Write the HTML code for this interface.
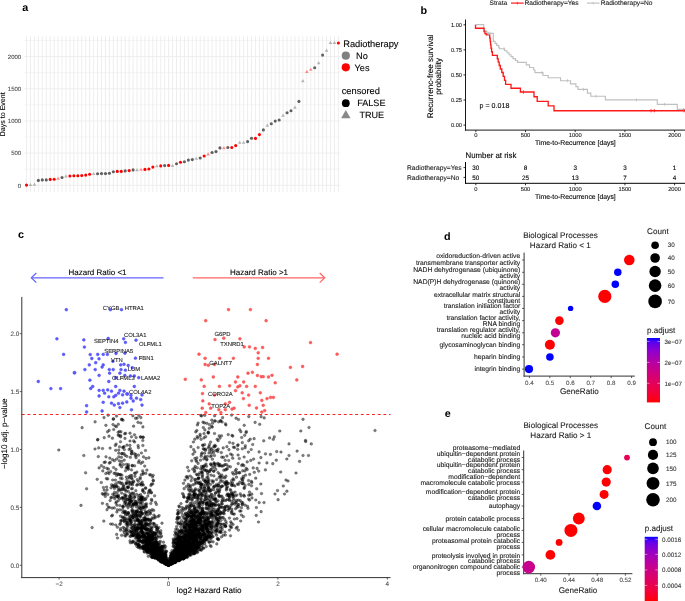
<!DOCTYPE html>
<html><head><meta charset="utf-8"><style>
html,body{margin:0;padding:0;background:#fff;}
body{width:685px;height:601px;overflow:hidden;}
svg{display:block;will-change:transform;}
text{font-family:"Liberation Sans",sans-serif;text-rendering:geometricPrecision;}
</style></head><body>
<svg width="685" height="601" viewBox="0 0 685 601">
<rect width="685" height="601" fill="#fff"/>
<text x="22.30" y="10.90" font-size="10.8" text-anchor="start" fill="#000" font-weight="bold">a</text>
<text x="420.60" y="14.10" font-size="10.8" text-anchor="start" fill="#000" font-weight="bold">b</text>
<text x="18.10" y="237.60" font-size="10.8" text-anchor="start" fill="#000" font-weight="bold">c</text>
<text x="444.00" y="240.20" font-size="10.8" text-anchor="start" fill="#000" font-weight="bold">d</text>
<text x="444.80" y="416.90" font-size="10.8" text-anchor="start" fill="#000" font-weight="bold">e</text>
<line x1="26.50" y1="36.00" x2="26.50" y2="192.00" stroke="#ececec" stroke-width="0.9"/>
<line x1="30.45" y1="36.00" x2="30.45" y2="192.00" stroke="#ececec" stroke-width="0.9"/>
<line x1="34.40" y1="36.00" x2="34.40" y2="192.00" stroke="#ececec" stroke-width="0.9"/>
<line x1="38.34" y1="36.00" x2="38.34" y2="192.00" stroke="#ececec" stroke-width="0.9"/>
<line x1="42.29" y1="36.00" x2="42.29" y2="192.00" stroke="#ececec" stroke-width="0.9"/>
<line x1="46.24" y1="36.00" x2="46.24" y2="192.00" stroke="#ececec" stroke-width="0.9"/>
<line x1="50.19" y1="36.00" x2="50.19" y2="192.00" stroke="#ececec" stroke-width="0.9"/>
<line x1="54.14" y1="36.00" x2="54.14" y2="192.00" stroke="#ececec" stroke-width="0.9"/>
<line x1="58.08" y1="36.00" x2="58.08" y2="192.00" stroke="#ececec" stroke-width="0.9"/>
<line x1="62.03" y1="36.00" x2="62.03" y2="192.00" stroke="#ececec" stroke-width="0.9"/>
<line x1="65.98" y1="36.00" x2="65.98" y2="192.00" stroke="#ececec" stroke-width="0.9"/>
<line x1="69.93" y1="36.00" x2="69.93" y2="192.00" stroke="#ececec" stroke-width="0.9"/>
<line x1="73.88" y1="36.00" x2="73.88" y2="192.00" stroke="#ececec" stroke-width="0.9"/>
<line x1="77.82" y1="36.00" x2="77.82" y2="192.00" stroke="#ececec" stroke-width="0.9"/>
<line x1="81.77" y1="36.00" x2="81.77" y2="192.00" stroke="#ececec" stroke-width="0.9"/>
<line x1="85.72" y1="36.00" x2="85.72" y2="192.00" stroke="#ececec" stroke-width="0.9"/>
<line x1="89.67" y1="36.00" x2="89.67" y2="192.00" stroke="#ececec" stroke-width="0.9"/>
<line x1="93.62" y1="36.00" x2="93.62" y2="192.00" stroke="#ececec" stroke-width="0.9"/>
<line x1="97.56" y1="36.00" x2="97.56" y2="192.00" stroke="#ececec" stroke-width="0.9"/>
<line x1="101.51" y1="36.00" x2="101.51" y2="192.00" stroke="#ececec" stroke-width="0.9"/>
<line x1="105.46" y1="36.00" x2="105.46" y2="192.00" stroke="#ececec" stroke-width="0.9"/>
<line x1="109.41" y1="36.00" x2="109.41" y2="192.00" stroke="#ececec" stroke-width="0.9"/>
<line x1="113.36" y1="36.00" x2="113.36" y2="192.00" stroke="#ececec" stroke-width="0.9"/>
<line x1="117.30" y1="36.00" x2="117.30" y2="192.00" stroke="#ececec" stroke-width="0.9"/>
<line x1="121.25" y1="36.00" x2="121.25" y2="192.00" stroke="#ececec" stroke-width="0.9"/>
<line x1="125.20" y1="36.00" x2="125.20" y2="192.00" stroke="#ececec" stroke-width="0.9"/>
<line x1="129.15" y1="36.00" x2="129.15" y2="192.00" stroke="#ececec" stroke-width="0.9"/>
<line x1="133.10" y1="36.00" x2="133.10" y2="192.00" stroke="#ececec" stroke-width="0.9"/>
<line x1="137.04" y1="36.00" x2="137.04" y2="192.00" stroke="#ececec" stroke-width="0.9"/>
<line x1="140.99" y1="36.00" x2="140.99" y2="192.00" stroke="#ececec" stroke-width="0.9"/>
<line x1="144.94" y1="36.00" x2="144.94" y2="192.00" stroke="#ececec" stroke-width="0.9"/>
<line x1="148.89" y1="36.00" x2="148.89" y2="192.00" stroke="#ececec" stroke-width="0.9"/>
<line x1="152.84" y1="36.00" x2="152.84" y2="192.00" stroke="#ececec" stroke-width="0.9"/>
<line x1="156.78" y1="36.00" x2="156.78" y2="192.00" stroke="#ececec" stroke-width="0.9"/>
<line x1="160.73" y1="36.00" x2="160.73" y2="192.00" stroke="#ececec" stroke-width="0.9"/>
<line x1="164.68" y1="36.00" x2="164.68" y2="192.00" stroke="#ececec" stroke-width="0.9"/>
<line x1="168.63" y1="36.00" x2="168.63" y2="192.00" stroke="#ececec" stroke-width="0.9"/>
<line x1="172.58" y1="36.00" x2="172.58" y2="192.00" stroke="#ececec" stroke-width="0.9"/>
<line x1="176.52" y1="36.00" x2="176.52" y2="192.00" stroke="#ececec" stroke-width="0.9"/>
<line x1="180.47" y1="36.00" x2="180.47" y2="192.00" stroke="#ececec" stroke-width="0.9"/>
<line x1="184.42" y1="36.00" x2="184.42" y2="192.00" stroke="#ececec" stroke-width="0.9"/>
<line x1="188.37" y1="36.00" x2="188.37" y2="192.00" stroke="#ececec" stroke-width="0.9"/>
<line x1="192.32" y1="36.00" x2="192.32" y2="192.00" stroke="#ececec" stroke-width="0.9"/>
<line x1="196.26" y1="36.00" x2="196.26" y2="192.00" stroke="#ececec" stroke-width="0.9"/>
<line x1="200.21" y1="36.00" x2="200.21" y2="192.00" stroke="#ececec" stroke-width="0.9"/>
<line x1="204.16" y1="36.00" x2="204.16" y2="192.00" stroke="#ececec" stroke-width="0.9"/>
<line x1="208.11" y1="36.00" x2="208.11" y2="192.00" stroke="#ececec" stroke-width="0.9"/>
<line x1="212.06" y1="36.00" x2="212.06" y2="192.00" stroke="#ececec" stroke-width="0.9"/>
<line x1="216.00" y1="36.00" x2="216.00" y2="192.00" stroke="#ececec" stroke-width="0.9"/>
<line x1="219.95" y1="36.00" x2="219.95" y2="192.00" stroke="#ececec" stroke-width="0.9"/>
<line x1="223.90" y1="36.00" x2="223.90" y2="192.00" stroke="#ececec" stroke-width="0.9"/>
<line x1="227.85" y1="36.00" x2="227.85" y2="192.00" stroke="#ececec" stroke-width="0.9"/>
<line x1="231.80" y1="36.00" x2="231.80" y2="192.00" stroke="#ececec" stroke-width="0.9"/>
<line x1="235.74" y1="36.00" x2="235.74" y2="192.00" stroke="#ececec" stroke-width="0.9"/>
<line x1="239.69" y1="36.00" x2="239.69" y2="192.00" stroke="#ececec" stroke-width="0.9"/>
<line x1="243.64" y1="36.00" x2="243.64" y2="192.00" stroke="#ececec" stroke-width="0.9"/>
<line x1="247.59" y1="36.00" x2="247.59" y2="192.00" stroke="#ececec" stroke-width="0.9"/>
<line x1="251.54" y1="36.00" x2="251.54" y2="192.00" stroke="#ececec" stroke-width="0.9"/>
<line x1="255.48" y1="36.00" x2="255.48" y2="192.00" stroke="#ececec" stroke-width="0.9"/>
<line x1="259.43" y1="36.00" x2="259.43" y2="192.00" stroke="#ececec" stroke-width="0.9"/>
<line x1="263.38" y1="36.00" x2="263.38" y2="192.00" stroke="#ececec" stroke-width="0.9"/>
<line x1="267.33" y1="36.00" x2="267.33" y2="192.00" stroke="#ececec" stroke-width="0.9"/>
<line x1="271.28" y1="36.00" x2="271.28" y2="192.00" stroke="#ececec" stroke-width="0.9"/>
<line x1="275.22" y1="36.00" x2="275.22" y2="192.00" stroke="#ececec" stroke-width="0.9"/>
<line x1="279.17" y1="36.00" x2="279.17" y2="192.00" stroke="#ececec" stroke-width="0.9"/>
<line x1="283.12" y1="36.00" x2="283.12" y2="192.00" stroke="#ececec" stroke-width="0.9"/>
<line x1="287.07" y1="36.00" x2="287.07" y2="192.00" stroke="#ececec" stroke-width="0.9"/>
<line x1="291.02" y1="36.00" x2="291.02" y2="192.00" stroke="#ececec" stroke-width="0.9"/>
<line x1="294.96" y1="36.00" x2="294.96" y2="192.00" stroke="#ececec" stroke-width="0.9"/>
<line x1="298.91" y1="36.00" x2="298.91" y2="192.00" stroke="#ececec" stroke-width="0.9"/>
<line x1="302.86" y1="36.00" x2="302.86" y2="192.00" stroke="#ececec" stroke-width="0.9"/>
<line x1="306.81" y1="36.00" x2="306.81" y2="192.00" stroke="#ececec" stroke-width="0.9"/>
<line x1="310.76" y1="36.00" x2="310.76" y2="192.00" stroke="#ececec" stroke-width="0.9"/>
<line x1="314.70" y1="36.00" x2="314.70" y2="192.00" stroke="#ececec" stroke-width="0.9"/>
<line x1="318.65" y1="36.00" x2="318.65" y2="192.00" stroke="#ececec" stroke-width="0.9"/>
<line x1="322.60" y1="36.00" x2="322.60" y2="192.00" stroke="#ececec" stroke-width="0.9"/>
<line x1="326.55" y1="36.00" x2="326.55" y2="192.00" stroke="#ececec" stroke-width="0.9"/>
<line x1="330.50" y1="36.00" x2="330.50" y2="192.00" stroke="#ececec" stroke-width="0.9"/>
<line x1="334.44" y1="36.00" x2="334.44" y2="192.00" stroke="#ececec" stroke-width="0.9"/>
<line x1="338.39" y1="36.00" x2="338.39" y2="192.00" stroke="#ececec" stroke-width="0.9"/>
<line x1="24.50" y1="185.30" x2="340.20" y2="185.30" stroke="#ececec" stroke-width="0.9"/>
<line x1="24.50" y1="169.21" x2="340.20" y2="169.21" stroke="#ececec" stroke-width="0.6"/>
<line x1="24.50" y1="153.12" x2="340.20" y2="153.12" stroke="#ececec" stroke-width="0.9"/>
<line x1="24.50" y1="137.03" x2="340.20" y2="137.03" stroke="#ececec" stroke-width="0.6"/>
<line x1="24.50" y1="120.94" x2="340.20" y2="120.94" stroke="#ececec" stroke-width="0.9"/>
<line x1="24.50" y1="104.85" x2="340.20" y2="104.85" stroke="#ececec" stroke-width="0.6"/>
<line x1="24.50" y1="88.76" x2="340.20" y2="88.76" stroke="#ececec" stroke-width="0.9"/>
<line x1="24.50" y1="72.67" x2="340.20" y2="72.67" stroke="#ececec" stroke-width="0.6"/>
<line x1="24.50" y1="56.58" x2="340.20" y2="56.58" stroke="#ececec" stroke-width="0.9"/>
<line x1="24.50" y1="40.49" x2="340.20" y2="40.49" stroke="#ececec" stroke-width="0.6"/>
<circle cx="26.50" cy="185.10" r="1.55" fill="#ff0000"/>
<path d="M28.65 186.04L32.25 186.04L30.45 182.92Z" fill="#b4b4b4"/>
<path d="M32.60 185.64L36.20 185.64L34.40 182.52Z" fill="#b4b4b4"/>
<circle cx="38.34" cy="180.40" r="1.55" fill="#5f5f5f"/>
<circle cx="42.29" cy="179.90" r="1.55" fill="#5f5f5f"/>
<circle cx="46.24" cy="179.90" r="1.55" fill="#5f5f5f"/>
<circle cx="50.19" cy="179.40" r="1.55" fill="#ff0000"/>
<circle cx="54.14" cy="179.20" r="1.55" fill="#ff0000"/>
<path d="M56.28 179.64L59.88 179.64L58.08 176.52Z" fill="#ff8a8a"/>
<circle cx="62.03" cy="177.50" r="1.55" fill="#5f5f5f"/>
<path d="M64.18 177.44L67.78 177.44L65.98 174.32Z" fill="#b4b4b4"/>
<circle cx="69.93" cy="176.00" r="1.55" fill="#ff0000"/>
<circle cx="73.88" cy="175.80" r="1.55" fill="#ff0000"/>
<circle cx="77.82" cy="175.80" r="1.55" fill="#ff0000"/>
<circle cx="81.77" cy="175.50" r="1.55" fill="#ff0000"/>
<circle cx="85.72" cy="175.10" r="1.55" fill="#ff0000"/>
<circle cx="89.67" cy="174.20" r="1.55" fill="#ff0000"/>
<path d="M91.82 175.04L95.42 175.04L93.62 171.92Z" fill="#b4b4b4"/>
<circle cx="97.56" cy="173.70" r="1.55" fill="#5f5f5f"/>
<circle cx="101.51" cy="173.60" r="1.55" fill="#5f5f5f"/>
<circle cx="105.46" cy="173.60" r="1.55" fill="#5f5f5f"/>
<circle cx="109.41" cy="173.30" r="1.55" fill="#5f5f5f"/>
<circle cx="113.36" cy="171.80" r="1.55" fill="#5f5f5f"/>
<circle cx="117.30" cy="171.40" r="1.55" fill="#ff0000"/>
<circle cx="121.25" cy="171.40" r="1.55" fill="#ff0000"/>
<circle cx="125.20" cy="170.90" r="1.55" fill="#5f5f5f"/>
<circle cx="129.15" cy="170.60" r="1.55" fill="#ff0000"/>
<circle cx="133.10" cy="169.90" r="1.55" fill="#5f5f5f"/>
<path d="M135.24 171.24L138.84 171.24L137.04 168.12Z" fill="#b4b4b4"/>
<path d="M139.19 170.84L142.79 170.84L140.99 167.72Z" fill="#ff8a8a"/>
<circle cx="144.94" cy="169.40" r="1.55" fill="#ff0000"/>
<circle cx="148.89" cy="169.00" r="1.55" fill="#ff0000"/>
<circle cx="152.84" cy="167.10" r="1.55" fill="#ff0000"/>
<path d="M154.98 167.34L158.58 167.34L156.78 164.22Z" fill="#b4b4b4"/>
<circle cx="160.73" cy="165.90" r="1.55" fill="#ff0000"/>
<circle cx="164.68" cy="165.60" r="1.55" fill="#5f5f5f"/>
<circle cx="168.63" cy="165.40" r="1.55" fill="#ff0000"/>
<path d="M170.78 166.94L174.38 166.94L172.58 163.82Z" fill="#b4b4b4"/>
<circle cx="176.52" cy="163.70" r="1.55" fill="#5f5f5f"/>
<circle cx="180.47" cy="162.30" r="1.55" fill="#ff0000"/>
<circle cx="184.42" cy="161.80" r="1.55" fill="#5f5f5f"/>
<circle cx="188.37" cy="160.10" r="1.55" fill="#5f5f5f"/>
<circle cx="192.32" cy="159.60" r="1.55" fill="#5f5f5f"/>
<path d="M194.46 159.84L198.06 159.84L196.26 156.72Z" fill="#b4b4b4"/>
<circle cx="200.21" cy="158.00" r="1.55" fill="#5f5f5f"/>
<circle cx="204.16" cy="156.00" r="1.55" fill="#ff0000"/>
<path d="M206.31 155.44L209.91 155.44L208.11 152.32Z" fill="#ff8a8a"/>
<circle cx="212.06" cy="152.50" r="1.55" fill="#5f5f5f"/>
<circle cx="216.00" cy="151.60" r="1.55" fill="#5f5f5f"/>
<circle cx="219.95" cy="147.90" r="1.55" fill="#5f5f5f"/>
<path d="M222.10 149.14L225.70 149.14L223.90 146.02Z" fill="#ff8a8a"/>
<circle cx="227.85" cy="147.50" r="1.55" fill="#5f5f5f"/>
<circle cx="231.80" cy="147.50" r="1.55" fill="#ff0000"/>
<circle cx="235.74" cy="145.60" r="1.55" fill="#ff0000"/>
<path d="M237.89 143.84L241.49 143.84L239.69 140.72Z" fill="#b4b4b4"/>
<path d="M241.84 143.84L245.44 143.84L243.64 140.72Z" fill="#b4b4b4"/>
<circle cx="247.59" cy="141.60" r="1.55" fill="#5f5f5f"/>
<circle cx="251.54" cy="138.30" r="1.55" fill="#5f5f5f"/>
<circle cx="255.48" cy="138.40" r="1.55" fill="#ff0000"/>
<circle cx="259.43" cy="134.60" r="1.55" fill="#ff0000"/>
<circle cx="263.38" cy="129.90" r="1.55" fill="#5f5f5f"/>
<path d="M265.53 126.74L269.13 126.74L267.33 123.62Z" fill="#b4b4b4"/>
<circle cx="271.28" cy="123.80" r="1.55" fill="#5f5f5f"/>
<circle cx="275.22" cy="121.10" r="1.55" fill="#5f5f5f"/>
<circle cx="279.17" cy="120.00" r="1.55" fill="#5f5f5f"/>
<path d="M281.32 116.74L284.92 116.74L283.12 113.62Z" fill="#b4b4b4"/>
<circle cx="287.07" cy="112.80" r="1.55" fill="#5f5f5f"/>
<circle cx="291.02" cy="110.80" r="1.55" fill="#5f5f5f"/>
<path d="M293.16 108.74L296.76 108.74L294.96 105.62Z" fill="#b4b4b4"/>
<circle cx="298.91" cy="101.40" r="1.55" fill="#5f5f5f"/>
<path d="M301.06 82.24L304.66 82.24L302.86 79.12Z" fill="#b4b4b4"/>
<path d="M305.01 72.94L308.61 72.94L306.81 69.82Z" fill="#ff8a8a"/>
<path d="M308.96 70.84L312.56 70.84L310.76 67.72Z" fill="#ff8a8a"/>
<circle cx="314.70" cy="67.80" r="1.55" fill="#5f5f5f"/>
<path d="M316.85 64.14L320.45 64.14L318.65 61.02Z" fill="#b4b4b4"/>
<circle cx="322.60" cy="55.10" r="1.55" fill="#5f5f5f"/>
<path d="M324.75 51.64L328.35 51.64L326.55 48.52Z" fill="#b4b4b4"/>
<path d="M328.70 43.94L332.30 43.94L330.50 40.82Z" fill="#b4b4b4"/>
<path d="M332.64 43.94L336.24 43.94L334.44 40.82Z" fill="#b4b4b4"/>
<circle cx="338.39" cy="43.00" r="1.55" fill="#ff0000"/>
<text x="21.20" y="187.50" font-size="6.0" text-anchor="end" fill="#4d4d4d" stroke="#4d4d4d" stroke-width="0.1">0</text>
<text x="21.20" y="155.32" font-size="6.0" text-anchor="end" fill="#4d4d4d" stroke="#4d4d4d" stroke-width="0.1">500</text>
<text x="21.20" y="123.14" font-size="6.0" text-anchor="end" fill="#4d4d4d" stroke="#4d4d4d" stroke-width="0.1">1000</text>
<text x="21.20" y="90.96" font-size="6.0" text-anchor="end" fill="#4d4d4d" stroke="#4d4d4d" stroke-width="0.1">1500</text>
<text x="21.20" y="58.78" font-size="6.0" text-anchor="end" fill="#4d4d4d" stroke="#4d4d4d" stroke-width="0.1">2000</text>
<text x="5.40" y="114.30" font-size="7.07" text-anchor="middle" fill="#000" stroke="#000" stroke-width="0.1" transform="rotate(-90 5.40 114.30)">Days to Event</text>
<text x="343.20" y="46.70" font-size="9.3" text-anchor="start" fill="#000" stroke="#000" stroke-width="0.1">Radiotherapy</text>
<circle cx="345.80" cy="55.70" r="4.10" fill="#808080"/>
<text x="356.00" y="59.00" font-size="9.2" text-anchor="start" fill="#000" stroke="#000" stroke-width="0.1">No</text>
<circle cx="345.80" cy="67.30" r="4.10" fill="#ff0000"/>
<text x="354.50" y="70.70" font-size="9.2" text-anchor="start" fill="#000" stroke="#000" stroke-width="0.1">Yes</text>
<text x="341.70" y="94.20" font-size="9.3" text-anchor="start" fill="#000" stroke="#000" stroke-width="0.1">censored</text>
<circle cx="345.80" cy="103.20" r="3.90" fill="#000000"/>
<text x="357.20" y="105.50" font-size="9.1" text-anchor="start" fill="#000" stroke="#000" stroke-width="0.1">FALSE</text>
<path d="M341.1 118.2L350.5 118.2L345.8 109.9Z" fill="#888888"/>
<text x="359.40" y="117.90" font-size="9.1" text-anchor="start" fill="#000" stroke="#000" stroke-width="0.1">TRUE</text>
<line x1="465.50" y1="19.50" x2="465.50" y2="130.60" stroke="#1a1a1a" stroke-width="1.0"/>
<line x1="465.00" y1="130.10" x2="685.00" y2="130.10" stroke="#1a1a1a" stroke-width="1.0"/>
<line x1="463.50" y1="125.10" x2="465.50" y2="125.10" stroke="#000" stroke-width="0.8"/>
<text x="462.00" y="127.10" font-size="5.7" text-anchor="end" fill="#1a1a1a" stroke="#1a1a1a" stroke-width="0.1">0.00</text>
<line x1="463.50" y1="100.02" x2="465.50" y2="100.02" stroke="#000" stroke-width="0.8"/>
<text x="462.00" y="102.02" font-size="5.7" text-anchor="end" fill="#1a1a1a" stroke="#1a1a1a" stroke-width="0.1">0.25</text>
<line x1="463.50" y1="74.95" x2="465.50" y2="74.95" stroke="#000" stroke-width="0.8"/>
<text x="462.00" y="76.95" font-size="5.7" text-anchor="end" fill="#1a1a1a" stroke="#1a1a1a" stroke-width="0.1">0.50</text>
<line x1="463.50" y1="49.88" x2="465.50" y2="49.88" stroke="#000" stroke-width="0.8"/>
<text x="462.00" y="51.88" font-size="5.7" text-anchor="end" fill="#1a1a1a" stroke="#1a1a1a" stroke-width="0.1">0.75</text>
<line x1="463.50" y1="24.80" x2="465.50" y2="24.80" stroke="#000" stroke-width="0.8"/>
<text x="462.00" y="26.80" font-size="5.7" text-anchor="end" fill="#1a1a1a" stroke="#1a1a1a" stroke-width="0.1">1.00</text>
<line x1="475.80" y1="130.10" x2="475.80" y2="132.10" stroke="#1a1a1a" stroke-width="0.9"/>
<text x="475.80" y="137.40" font-size="5.8" text-anchor="middle" fill="#1a1a1a" stroke="#1a1a1a" stroke-width="0.1">0</text>
<line x1="525.50" y1="130.10" x2="525.50" y2="132.10" stroke="#1a1a1a" stroke-width="0.9"/>
<text x="525.50" y="137.40" font-size="5.8" text-anchor="middle" fill="#1a1a1a" stroke="#1a1a1a" stroke-width="0.1">500</text>
<line x1="575.20" y1="130.10" x2="575.20" y2="132.10" stroke="#1a1a1a" stroke-width="0.9"/>
<text x="575.20" y="137.40" font-size="5.8" text-anchor="middle" fill="#1a1a1a" stroke="#1a1a1a" stroke-width="0.1">1000</text>
<line x1="624.90" y1="130.10" x2="624.90" y2="132.10" stroke="#1a1a1a" stroke-width="0.9"/>
<text x="624.90" y="137.40" font-size="5.8" text-anchor="middle" fill="#1a1a1a" stroke="#1a1a1a" stroke-width="0.1">1500</text>
<line x1="674.60" y1="130.10" x2="674.60" y2="132.10" stroke="#1a1a1a" stroke-width="0.9"/>
<text x="674.60" y="137.40" font-size="5.8" text-anchor="middle" fill="#1a1a1a" stroke="#1a1a1a" stroke-width="0.1">2000</text>
<text x="575.40" y="144.70" font-size="6.85" text-anchor="middle" fill="#000" stroke="#000" stroke-width="0.1">Time-to-Recurrence [days]</text>
<text x="433.40" y="76.30" font-size="8.1" text-anchor="middle" fill="#000" stroke="#000" stroke-width="0.1" transform="rotate(-90 433.40 76.30)">Recurrenc-free survival</text>
<text x="440.60" y="76.30" font-size="8.1" text-anchor="middle" fill="#000" stroke="#000" stroke-width="0.1" transform="rotate(-90 440.60 76.30)">probability</text>
<text x="479.60" y="107.90" font-size="7.1" text-anchor="start" fill="#000" stroke="#000" stroke-width="0.1">p = 0.018</text>
<path d="M475.70 24.60 L483.70 24.60 L483.70 28.20 L484.50 28.20 L484.50 30.60 L486.30 30.60 L486.30 31.80 L487.30 31.80 L487.30 33.30 L493.30 33.30 L493.30 41.30 L495.00 41.30 L495.00 43.30 L496.70 43.30 L496.70 45.30 L498.70 45.30 L498.70 47.30 L499.30 47.30 L499.30 48.70 L504.70 48.70 L504.70 50.70 L507.00 50.70 L507.00 52.70 L509.00 52.70 L509.00 54.70 L511.00 54.70 L511.00 56.60 L513.00 56.60 L513.00 58.60 L515.50 58.60 L515.50 60.50 L517.50 60.50 L517.50 62.40 L526.30 62.40 L526.30 64.90 L529.50 64.90 L529.50 67.50 L533.60 67.50 L533.60 70.00 L535.00 70.00 L535.00 72.60 L543.00 72.60 L543.00 75.50 L548.20 75.50 L548.20 77.70 L560.60 77.70 L560.60 80.70 L570.50 80.70 L570.50 83.90 L575.90 83.90 L575.90 86.60 L578.00 86.60 L578.00 89.40 L587.40 89.40 L587.40 93.10 L590.80 93.10 L590.80 96.20 L605.40 96.20 L605.40 99.80 L657.30 99.80 L657.30 104.30 L677.30 104.30 L677.30 109.40 L685.00 109.40" fill="none" stroke="#c0c0c0" stroke-width="1.15" stroke-linejoin="miter"/>
<path d="M475.50 24.80 L475.50 28.20 L484.00 28.20 L484.00 31.60 L485.00 31.60 L485.00 33.60 L486.20 33.60 L486.20 34.80 L489.70 34.80 L489.70 38.10 L490.20 38.10 L490.20 41.50 L490.60 41.50 L490.60 44.80 L491.00 44.80 L491.00 48.20 L491.60 48.20 L491.60 51.70 L492.40 51.70 L492.40 55.30 L497.30 55.30 L497.30 58.70 L498.20 58.70 L498.20 62.10 L499.20 62.10 L499.20 65.50 L500.30 65.50 L500.30 69.00 L501.80 69.00 L501.80 72.50 L503.20 72.50 L503.20 76.40 L504.50 76.40 L504.50 80.30 L505.60 80.30 L505.60 84.30 L511.00 84.30 L511.00 88.20 L520.40 88.20 L520.40 92.00 L534.00 92.00 L534.00 96.70 L537.20 96.70 L537.20 101.40 L548.20 101.40 L548.20 105.90 L554.00 105.90 L554.00 110.70 L685.00 110.70" fill="none" stroke="#ff1a1a" stroke-width="1.35" stroke-linejoin="miter"/>
<line x1="488.50" y1="31.80" x2="488.50" y2="34.80" stroke="#bdbdbd" stroke-width="0.8"/>
<line x1="490.00" y1="31.80" x2="490.00" y2="34.80" stroke="#bdbdbd" stroke-width="0.8"/>
<line x1="504.00" y1="47.20" x2="504.00" y2="50.20" stroke="#bdbdbd" stroke-width="0.8"/>
<line x1="542.00" y1="71.10" x2="542.00" y2="74.10" stroke="#bdbdbd" stroke-width="0.8"/>
<line x1="567.50" y1="79.20" x2="567.50" y2="82.20" stroke="#bdbdbd" stroke-width="0.8"/>
<line x1="583.50" y1="87.90" x2="583.50" y2="90.90" stroke="#bdbdbd" stroke-width="0.8"/>
<line x1="596.00" y1="94.70" x2="596.00" y2="97.70" stroke="#bdbdbd" stroke-width="0.8"/>
<line x1="636.40" y1="98.30" x2="636.40" y2="101.30" stroke="#bdbdbd" stroke-width="0.8"/>
<line x1="664.60" y1="102.80" x2="664.60" y2="105.80" stroke="#bdbdbd" stroke-width="0.8"/>
<line x1="683.50" y1="107.90" x2="683.50" y2="110.90" stroke="#bdbdbd" stroke-width="0.8"/>
<line x1="523.40" y1="90.40" x2="523.40" y2="93.60" stroke="#ff1a1a" stroke-width="0.9"/>
<line x1="651.00" y1="109.10" x2="651.00" y2="112.30" stroke="#ff1a1a" stroke-width="0.9"/>
<line x1="654.30" y1="109.10" x2="654.30" y2="112.30" stroke="#ff1a1a" stroke-width="0.9"/>
<line x1="684.00" y1="109.10" x2="684.00" y2="112.30" stroke="#ff1a1a" stroke-width="0.9"/>
<text x="489.60" y="5.40" font-size="6.6" text-anchor="start" fill="#1a1a1a" stroke="#1a1a1a" stroke-width="0.1">Strata</text>
<line x1="511.00" y1="3.10" x2="523.70" y2="3.10" stroke="#ff1a1a" stroke-width="1.2"/>
<line x1="517.30" y1="1.80" x2="517.30" y2="4.40" stroke="#ff1a1a" stroke-width="0.8"/>
<text x="524.40" y="5.40" font-size="6.65" text-anchor="start" fill="#1a1a1a" stroke="#1a1a1a" stroke-width="0.1">Radiotherapy=Yes</text>
<line x1="587.00" y1="3.10" x2="599.50" y2="3.10" stroke="#c0c0c0" stroke-width="1.2"/>
<line x1="593.20" y1="1.80" x2="593.20" y2="4.40" stroke="#c0c0c0" stroke-width="0.8"/>
<text x="600.70" y="5.40" font-size="6.65" text-anchor="start" fill="#1a1a1a" stroke="#1a1a1a" stroke-width="0.1">Radiotherapy=No</text>
<text x="465.50" y="157.50" font-size="7.84" text-anchor="start" fill="#000" stroke="#000" stroke-width="0.1">Number at risk</text>
<line x1="465.50" y1="162.00" x2="465.50" y2="183.80" stroke="#000" stroke-width="1.0"/>
<line x1="465.00" y1="183.30" x2="685.00" y2="183.30" stroke="#000" stroke-width="1.0"/>
<line x1="463.50" y1="167.60" x2="465.50" y2="167.60" stroke="#000" stroke-width="0.8"/>
<line x1="463.50" y1="177.40" x2="465.50" y2="177.40" stroke="#000" stroke-width="0.8"/>
<text x="407.00" y="170.20" font-size="6.69" text-anchor="start" fill="#1a1a1a" stroke="#1a1a1a" stroke-width="0.1">Radiotherapy=Yes</text>
<text x="407.00" y="180.00" font-size="6.69" text-anchor="start" fill="#1a1a1a" stroke="#1a1a1a" stroke-width="0.1">Radiotherapy=No</text>
<text x="475.80" y="170.40" font-size="6.3" text-anchor="middle" fill="#000" stroke="#000" stroke-width="0.1">30</text>
<text x="475.80" y="180.20" font-size="6.3" text-anchor="middle" fill="#000" stroke="#000" stroke-width="0.1">50</text>
<line x1="475.80" y1="183.30" x2="475.80" y2="185.30" stroke="#000" stroke-width="0.8"/>
<text x="475.80" y="190.60" font-size="5.8" text-anchor="middle" fill="#1a1a1a" stroke="#1a1a1a" stroke-width="0.1">0</text>
<text x="525.50" y="170.40" font-size="6.3" text-anchor="middle" fill="#000" stroke="#000" stroke-width="0.1">8</text>
<text x="525.50" y="180.20" font-size="6.3" text-anchor="middle" fill="#000" stroke="#000" stroke-width="0.1">25</text>
<line x1="525.50" y1="183.30" x2="525.50" y2="185.30" stroke="#000" stroke-width="0.8"/>
<text x="525.50" y="190.60" font-size="5.8" text-anchor="middle" fill="#1a1a1a" stroke="#1a1a1a" stroke-width="0.1">500</text>
<text x="575.20" y="170.40" font-size="6.3" text-anchor="middle" fill="#000" stroke="#000" stroke-width="0.1">3</text>
<text x="575.20" y="180.20" font-size="6.3" text-anchor="middle" fill="#000" stroke="#000" stroke-width="0.1">13</text>
<line x1="575.20" y1="183.30" x2="575.20" y2="185.30" stroke="#000" stroke-width="0.8"/>
<text x="575.20" y="190.60" font-size="5.8" text-anchor="middle" fill="#1a1a1a" stroke="#1a1a1a" stroke-width="0.1">1000</text>
<text x="624.90" y="170.40" font-size="6.3" text-anchor="middle" fill="#000" stroke="#000" stroke-width="0.1">3</text>
<text x="624.90" y="180.20" font-size="6.3" text-anchor="middle" fill="#000" stroke="#000" stroke-width="0.1">7</text>
<line x1="624.90" y1="183.30" x2="624.90" y2="185.30" stroke="#000" stroke-width="0.8"/>
<text x="624.90" y="190.60" font-size="5.8" text-anchor="middle" fill="#1a1a1a" stroke="#1a1a1a" stroke-width="0.1">1500</text>
<text x="674.60" y="170.40" font-size="6.3" text-anchor="middle" fill="#000" stroke="#000" stroke-width="0.1">1</text>
<text x="674.60" y="180.20" font-size="6.3" text-anchor="middle" fill="#000" stroke="#000" stroke-width="0.1">4</text>
<line x1="674.60" y1="183.30" x2="674.60" y2="185.30" stroke="#000" stroke-width="0.8"/>
<text x="674.60" y="190.60" font-size="5.8" text-anchor="middle" fill="#1a1a1a" stroke="#1a1a1a" stroke-width="0.1">2000</text>
<text x="575.40" y="198.50" font-size="6.85" text-anchor="middle" fill="#000" stroke="#000" stroke-width="0.1">Time-to-Recurrence [days]</text>
<line x1="31.30" y1="277.80" x2="163.50" y2="277.80" stroke="#6464ff" stroke-width="1.2"/>
<path d="M36.3 273.0L31.3 277.8L36.3 282.6" fill="none" stroke="#6464ff" stroke-width="1.2"/>
<line x1="192.80" y1="277.80" x2="324.70" y2="277.80" stroke="#ff6464" stroke-width="1.2"/>
<path d="M319.7 273.0L324.7 277.8L319.7 282.6" fill="none" stroke="#ff6464" stroke-width="1.2"/>
<text x="97.50" y="274.60" font-size="8.0" text-anchor="middle" fill="#000" stroke="#000" stroke-width="0.1">Hazard Ratio &lt;1</text>
<text x="259.00" y="274.60" font-size="8.0" text-anchor="middle" fill="#000" stroke="#000" stroke-width="0.1">Hazard Ratio &gt;1</text>
<g fill="#000" fill-opacity="0.5" stroke="#000" stroke-opacity="0.45" stroke-width="0.5">
<circle cx="145.8" cy="473.3" r="1.35"/>
<circle cx="138.3" cy="540.8" r="1.35"/>
<circle cx="152.0" cy="535.6" r="1.35"/>
<circle cx="148.3" cy="518.9" r="1.35"/>
<circle cx="165.4" cy="554.8" r="1.35"/>
<circle cx="136.9" cy="472.0" r="1.35"/>
<circle cx="146.8" cy="545.0" r="1.35"/>
<circle cx="165.6" cy="563.3" r="1.35"/>
<circle cx="155.2" cy="548.9" r="1.35"/>
<circle cx="132.2" cy="465.8" r="1.35"/>
<circle cx="153.6" cy="533.0" r="1.35"/>
<circle cx="158.3" cy="545.3" r="1.35"/>
<circle cx="164.7" cy="548.4" r="1.35"/>
<circle cx="127.9" cy="467.2" r="1.35"/>
<circle cx="136.7" cy="503.3" r="1.35"/>
<circle cx="166.6" cy="561.0" r="1.35"/>
<circle cx="145.5" cy="529.1" r="1.35"/>
<circle cx="151.2" cy="550.3" r="1.35"/>
<circle cx="122.9" cy="506.2" r="1.35"/>
<circle cx="142.2" cy="526.9" r="1.35"/>
<circle cx="129.7" cy="496.1" r="1.35"/>
<circle cx="131.9" cy="451.4" r="1.35"/>
<circle cx="126.5" cy="464.3" r="1.35"/>
<circle cx="156.4" cy="536.5" r="1.35"/>
<circle cx="135.8" cy="490.7" r="1.35"/>
<circle cx="151.9" cy="528.5" r="1.35"/>
<circle cx="145.7" cy="488.3" r="1.35"/>
<circle cx="155.3" cy="533.9" r="1.35"/>
<circle cx="147.7" cy="533.9" r="1.35"/>
<circle cx="149.8" cy="536.3" r="1.35"/>
<circle cx="123.0" cy="420.2" r="1.35"/>
<circle cx="120.6" cy="528.5" r="1.35"/>
<circle cx="133.2" cy="541.0" r="1.35"/>
<circle cx="102.8" cy="470.9" r="1.35"/>
<circle cx="159.7" cy="552.8" r="1.35"/>
<circle cx="116.8" cy="496.5" r="1.35"/>
<circle cx="124.2" cy="532.7" r="1.35"/>
<circle cx="137.4" cy="502.5" r="1.35"/>
<circle cx="131.4" cy="488.8" r="1.35"/>
<circle cx="149.8" cy="544.2" r="1.35"/>
<circle cx="157.4" cy="557.6" r="1.35"/>
<circle cx="130.0" cy="520.2" r="1.35"/>
<circle cx="119.5" cy="490.5" r="1.35"/>
<circle cx="148.2" cy="540.4" r="1.35"/>
<circle cx="132.5" cy="532.6" r="1.35"/>
<circle cx="139.0" cy="521.4" r="1.35"/>
<circle cx="155.1" cy="546.3" r="1.35"/>
<circle cx="166.7" cy="563.3" r="1.35"/>
<circle cx="150.9" cy="485.5" r="1.35"/>
<circle cx="128.2" cy="512.8" r="1.35"/>
<circle cx="136.2" cy="516.6" r="1.35"/>
<circle cx="155.2" cy="516.5" r="1.35"/>
<circle cx="160.9" cy="552.3" r="1.35"/>
<circle cx="138.6" cy="534.8" r="1.35"/>
<circle cx="165.6" cy="562.5" r="1.35"/>
<circle cx="153.7" cy="543.5" r="1.35"/>
<circle cx="160.5" cy="558.7" r="1.35"/>
<circle cx="125.6" cy="433.3" r="1.35"/>
<circle cx="145.4" cy="541.3" r="1.35"/>
<circle cx="127.1" cy="487.3" r="1.35"/>
<circle cx="164.4" cy="556.0" r="1.35"/>
<circle cx="164.5" cy="560.2" r="1.35"/>
<circle cx="162.3" cy="559.1" r="1.35"/>
<circle cx="143.6" cy="542.2" r="1.35"/>
<circle cx="136.4" cy="504.4" r="1.35"/>
<circle cx="115.5" cy="473.1" r="1.35"/>
<circle cx="133.6" cy="493.1" r="1.35"/>
<circle cx="133.1" cy="499.5" r="1.35"/>
<circle cx="165.9" cy="562.5" r="1.35"/>
<circle cx="134.9" cy="497.0" r="1.35"/>
<circle cx="126.9" cy="467.1" r="1.35"/>
<circle cx="150.6" cy="520.2" r="1.35"/>
<circle cx="154.8" cy="536.3" r="1.35"/>
<circle cx="127.1" cy="527.9" r="1.35"/>
<circle cx="151.4" cy="536.6" r="1.35"/>
<circle cx="156.0" cy="542.3" r="1.35"/>
<circle cx="119.9" cy="509.9" r="1.35"/>
<circle cx="156.6" cy="546.8" r="1.35"/>
<circle cx="160.8" cy="552.7" r="1.35"/>
<circle cx="131.6" cy="451.4" r="1.35"/>
<circle cx="130.8" cy="506.3" r="1.35"/>
<circle cx="113.6" cy="467.5" r="1.35"/>
<circle cx="149.3" cy="537.6" r="1.35"/>
<circle cx="146.9" cy="532.9" r="1.35"/>
<circle cx="142.1" cy="496.8" r="1.35"/>
<circle cx="129.3" cy="477.9" r="1.35"/>
<circle cx="97.8" cy="439.5" r="1.35"/>
<circle cx="148.8" cy="536.3" r="1.35"/>
<circle cx="118.2" cy="489.9" r="1.35"/>
<circle cx="140.8" cy="423.0" r="1.35"/>
<circle cx="135.0" cy="511.1" r="1.35"/>
<circle cx="161.2" cy="546.7" r="1.35"/>
<circle cx="144.2" cy="520.1" r="1.35"/>
<circle cx="138.5" cy="537.5" r="1.35"/>
<circle cx="166.1" cy="558.2" r="1.35"/>
<circle cx="164.1" cy="559.4" r="1.35"/>
<circle cx="144.6" cy="492.8" r="1.35"/>
<circle cx="107.1" cy="489.9" r="1.35"/>
<circle cx="97.2" cy="479.3" r="1.35"/>
<circle cx="140.4" cy="437.1" r="1.35"/>
<circle cx="154.7" cy="542.9" r="1.35"/>
<circle cx="131.7" cy="530.5" r="1.35"/>
<circle cx="150.3" cy="555.3" r="1.35"/>
<circle cx="158.8" cy="544.5" r="1.35"/>
<circle cx="167.1" cy="563.0" r="1.35"/>
<circle cx="140.5" cy="514.3" r="1.35"/>
<circle cx="154.9" cy="549.0" r="1.35"/>
<circle cx="157.5" cy="558.5" r="1.35"/>
<circle cx="165.5" cy="558.1" r="1.35"/>
<circle cx="156.0" cy="527.0" r="1.35"/>
<circle cx="155.2" cy="517.7" r="1.35"/>
<circle cx="145.5" cy="518.9" r="1.35"/>
<circle cx="146.2" cy="529.3" r="1.35"/>
<circle cx="150.7" cy="538.9" r="1.35"/>
<circle cx="135.0" cy="521.5" r="1.35"/>
<circle cx="160.0" cy="558.4" r="1.35"/>
<circle cx="133.2" cy="516.0" r="1.35"/>
<circle cx="122.0" cy="419.4" r="1.35"/>
<circle cx="140.4" cy="540.6" r="1.35"/>
<circle cx="161.4" cy="559.2" r="1.35"/>
<circle cx="139.4" cy="507.7" r="1.35"/>
<circle cx="136.1" cy="543.3" r="1.35"/>
<circle cx="125.6" cy="513.1" r="1.35"/>
<circle cx="164.3" cy="557.7" r="1.35"/>
<circle cx="151.2" cy="548.8" r="1.35"/>
<circle cx="136.8" cy="512.1" r="1.35"/>
<circle cx="162.3" cy="554.0" r="1.35"/>
<circle cx="150.1" cy="490.2" r="1.35"/>
<circle cx="124.4" cy="494.3" r="1.35"/>
<circle cx="143.5" cy="526.6" r="1.35"/>
<circle cx="118.5" cy="495.4" r="1.35"/>
<circle cx="113.8" cy="486.7" r="1.35"/>
<circle cx="167.7" cy="564.1" r="1.35"/>
<circle cx="143.6" cy="523.0" r="1.35"/>
<circle cx="147.1" cy="544.2" r="1.35"/>
<circle cx="147.3" cy="551.2" r="1.35"/>
<circle cx="130.5" cy="521.0" r="1.35"/>
<circle cx="131.6" cy="454.0" r="1.35"/>
<circle cx="144.2" cy="537.1" r="1.35"/>
<circle cx="120.5" cy="516.1" r="1.35"/>
<circle cx="137.7" cy="536.3" r="1.35"/>
<circle cx="154.7" cy="534.9" r="1.35"/>
<circle cx="167.7" cy="563.9" r="1.35"/>
<circle cx="163.7" cy="556.8" r="1.35"/>
<circle cx="167.4" cy="563.8" r="1.35"/>
<circle cx="153.6" cy="557.3" r="1.35"/>
<circle cx="143.8" cy="536.8" r="1.35"/>
<circle cx="106.4" cy="478.6" r="1.35"/>
<circle cx="123.5" cy="497.9" r="1.35"/>
<circle cx="156.5" cy="544.1" r="1.35"/>
<circle cx="136.7" cy="504.5" r="1.35"/>
<circle cx="131.6" cy="522.0" r="1.35"/>
<circle cx="131.3" cy="534.3" r="1.35"/>
<circle cx="114.1" cy="473.4" r="1.35"/>
<circle cx="155.3" cy="555.7" r="1.35"/>
<circle cx="158.9" cy="558.2" r="1.35"/>
<circle cx="141.5" cy="524.2" r="1.35"/>
<circle cx="146.6" cy="538.6" r="1.35"/>
<circle cx="165.6" cy="563.0" r="1.35"/>
<circle cx="121.7" cy="466.9" r="1.35"/>
<circle cx="132.1" cy="507.3" r="1.35"/>
<circle cx="156.6" cy="525.3" r="1.35"/>
<circle cx="160.1" cy="555.6" r="1.35"/>
<circle cx="142.9" cy="491.3" r="1.35"/>
<circle cx="133.1" cy="512.9" r="1.35"/>
<circle cx="161.2" cy="548.8" r="1.35"/>
<circle cx="164.8" cy="563.5" r="1.35"/>
<circle cx="143.6" cy="547.9" r="1.35"/>
<circle cx="114.6" cy="492.3" r="1.35"/>
<circle cx="154.6" cy="552.4" r="1.35"/>
<circle cx="127.4" cy="533.5" r="1.35"/>
<circle cx="155.3" cy="538.0" r="1.35"/>
<circle cx="151.9" cy="538.7" r="1.35"/>
<circle cx="137.6" cy="484.5" r="1.35"/>
<circle cx="136.6" cy="530.8" r="1.35"/>
<circle cx="163.4" cy="560.5" r="1.35"/>
<circle cx="147.6" cy="538.2" r="1.35"/>
<circle cx="164.7" cy="561.5" r="1.35"/>
<circle cx="156.3" cy="531.9" r="1.35"/>
<circle cx="140.9" cy="417.6" r="1.35"/>
<circle cx="145.5" cy="504.2" r="1.35"/>
<circle cx="157.6" cy="543.8" r="1.35"/>
<circle cx="146.3" cy="546.6" r="1.35"/>
<circle cx="148.5" cy="549.8" r="1.35"/>
<circle cx="166.2" cy="564.1" r="1.35"/>
<circle cx="152.4" cy="537.4" r="1.35"/>
<circle cx="162.7" cy="557.3" r="1.35"/>
<circle cx="157.8" cy="553.6" r="1.35"/>
<circle cx="130.9" cy="536.2" r="1.35"/>
<circle cx="129.9" cy="496.2" r="1.35"/>
<circle cx="105.9" cy="425.3" r="1.35"/>
<circle cx="156.9" cy="554.0" r="1.35"/>
<circle cx="125.6" cy="536.1" r="1.35"/>
<circle cx="164.5" cy="561.0" r="1.35"/>
<circle cx="157.8" cy="537.2" r="1.35"/>
<circle cx="144.7" cy="466.1" r="1.35"/>
<circle cx="159.2" cy="551.5" r="1.35"/>
<circle cx="137.9" cy="521.1" r="1.35"/>
<circle cx="136.9" cy="546.3" r="1.35"/>
<circle cx="161.7" cy="561.6" r="1.35"/>
<circle cx="162.6" cy="548.9" r="1.35"/>
<circle cx="151.2" cy="544.6" r="1.35"/>
<circle cx="141.8" cy="529.0" r="1.35"/>
<circle cx="166.3" cy="564.3" r="1.35"/>
<circle cx="98.7" cy="447.9" r="1.35"/>
<circle cx="142.7" cy="507.6" r="1.35"/>
<circle cx="123.2" cy="527.3" r="1.35"/>
<circle cx="164.5" cy="554.5" r="1.35"/>
<circle cx="130.6" cy="475.5" r="1.35"/>
<circle cx="139.3" cy="535.7" r="1.35"/>
<circle cx="133.7" cy="440.9" r="1.35"/>
<circle cx="162.2" cy="556.7" r="1.35"/>
<circle cx="164.6" cy="560.9" r="1.35"/>
<circle cx="162.1" cy="552.5" r="1.35"/>
<circle cx="152.0" cy="552.2" r="1.35"/>
<circle cx="129.3" cy="517.4" r="1.35"/>
<circle cx="162.9" cy="555.7" r="1.35"/>
<circle cx="168.0" cy="563.2" r="1.35"/>
<circle cx="98.3" cy="456.6" r="1.35"/>
<circle cx="161.6" cy="561.5" r="1.35"/>
<circle cx="141.4" cy="527.2" r="1.35"/>
<circle cx="112.6" cy="486.2" r="1.35"/>
<circle cx="155.7" cy="533.9" r="1.35"/>
<circle cx="165.4" cy="562.8" r="1.35"/>
<circle cx="155.9" cy="541.7" r="1.35"/>
<circle cx="126.3" cy="477.1" r="1.35"/>
<circle cx="146.7" cy="539.5" r="1.35"/>
<circle cx="141.9" cy="521.6" r="1.35"/>
<circle cx="145.1" cy="547.7" r="1.35"/>
<circle cx="168.3" cy="564.8" r="1.35"/>
<circle cx="167.1" cy="563.6" r="1.35"/>
<circle cx="162.5" cy="554.3" r="1.35"/>
<circle cx="141.5" cy="485.2" r="1.35"/>
<circle cx="109.5" cy="507.5" r="1.35"/>
<circle cx="138.3" cy="481.3" r="1.35"/>
<circle cx="167.8" cy="564.0" r="1.35"/>
<circle cx="128.8" cy="498.3" r="1.35"/>
<circle cx="159.4" cy="556.3" r="1.35"/>
<circle cx="148.9" cy="457.8" r="1.35"/>
<circle cx="125.9" cy="499.7" r="1.35"/>
<circle cx="125.4" cy="498.6" r="1.35"/>
<circle cx="154.4" cy="538.6" r="1.35"/>
<circle cx="140.3" cy="535.2" r="1.35"/>
<circle cx="139.8" cy="547.2" r="1.35"/>
<circle cx="106.9" cy="468.3" r="1.35"/>
<circle cx="147.9" cy="552.0" r="1.35"/>
<circle cx="122.3" cy="520.1" r="1.35"/>
<circle cx="128.2" cy="469.3" r="1.35"/>
<circle cx="120.7" cy="435.6" r="1.35"/>
<circle cx="117.5" cy="538.0" r="1.35"/>
<circle cx="152.3" cy="554.1" r="1.35"/>
<circle cx="106.0" cy="456.8" r="1.35"/>
<circle cx="130.3" cy="457.3" r="1.35"/>
<circle cx="145.9" cy="548.0" r="1.35"/>
<circle cx="167.0" cy="564.6" r="1.35"/>
<circle cx="151.7" cy="548.6" r="1.35"/>
<circle cx="144.9" cy="519.6" r="1.35"/>
<circle cx="116.6" cy="486.7" r="1.35"/>
<circle cx="164.9" cy="562.2" r="1.35"/>
<circle cx="135.0" cy="533.1" r="1.35"/>
<circle cx="166.0" cy="555.3" r="1.35"/>
<circle cx="137.7" cy="513.1" r="1.35"/>
<circle cx="149.1" cy="540.2" r="1.35"/>
<circle cx="124.5" cy="489.5" r="1.35"/>
<circle cx="152.2" cy="550.1" r="1.35"/>
<circle cx="147.9" cy="546.4" r="1.35"/>
<circle cx="161.8" cy="553.1" r="1.35"/>
<circle cx="166.0" cy="557.8" r="1.35"/>
<circle cx="166.1" cy="562.2" r="1.35"/>
<circle cx="166.7" cy="561.8" r="1.35"/>
<circle cx="129.3" cy="502.6" r="1.35"/>
<circle cx="128.4" cy="466.0" r="1.35"/>
<circle cx="161.0" cy="552.6" r="1.35"/>
<circle cx="148.0" cy="533.8" r="1.35"/>
<circle cx="156.0" cy="538.6" r="1.35"/>
<circle cx="127.9" cy="499.8" r="1.35"/>
<circle cx="113.3" cy="419.2" r="1.35"/>
<circle cx="129.4" cy="519.4" r="1.35"/>
<circle cx="136.4" cy="517.6" r="1.35"/>
<circle cx="103.9" cy="467.4" r="1.35"/>
<circle cx="157.8" cy="551.4" r="1.35"/>
<circle cx="152.2" cy="535.5" r="1.35"/>
<circle cx="137.1" cy="533.7" r="1.35"/>
<circle cx="161.6" cy="536.2" r="1.35"/>
<circle cx="159.3" cy="542.1" r="1.35"/>
<circle cx="155.2" cy="558.3" r="1.35"/>
<circle cx="116.6" cy="459.0" r="1.35"/>
<circle cx="117.4" cy="509.8" r="1.35"/>
<circle cx="157.1" cy="557.6" r="1.35"/>
<circle cx="143.6" cy="518.1" r="1.35"/>
<circle cx="153.2" cy="553.7" r="1.35"/>
<circle cx="154.9" cy="546.8" r="1.35"/>
<circle cx="124.2" cy="521.8" r="1.35"/>
<circle cx="167.3" cy="564.3" r="1.35"/>
<circle cx="102.4" cy="503.3" r="1.35"/>
<circle cx="143.8" cy="534.9" r="1.35"/>
<circle cx="148.2" cy="524.8" r="1.35"/>
<circle cx="101.3" cy="482.5" r="1.35"/>
<circle cx="142.8" cy="547.0" r="1.35"/>
<circle cx="139.6" cy="527.8" r="1.35"/>
<circle cx="137.8" cy="519.5" r="1.35"/>
<circle cx="105.3" cy="462.1" r="1.35"/>
<circle cx="141.6" cy="499.5" r="1.35"/>
<circle cx="125.5" cy="470.8" r="1.35"/>
<circle cx="125.8" cy="502.1" r="1.35"/>
<circle cx="131.0" cy="522.4" r="1.35"/>
<circle cx="167.5" cy="564.5" r="1.35"/>
<circle cx="156.7" cy="556.5" r="1.35"/>
<circle cx="153.8" cy="546.3" r="1.35"/>
<circle cx="150.2" cy="553.0" r="1.35"/>
<circle cx="147.4" cy="546.7" r="1.35"/>
<circle cx="135.5" cy="456.1" r="1.35"/>
<circle cx="144.6" cy="535.4" r="1.35"/>
<circle cx="153.0" cy="546.6" r="1.35"/>
<circle cx="122.5" cy="487.9" r="1.35"/>
<circle cx="163.6" cy="560.4" r="1.35"/>
<circle cx="142.8" cy="536.0" r="1.35"/>
<circle cx="121.9" cy="475.2" r="1.35"/>
<circle cx="122.6" cy="517.0" r="1.35"/>
<circle cx="141.1" cy="508.6" r="1.35"/>
<circle cx="139.9" cy="541.3" r="1.35"/>
<circle cx="140.2" cy="478.9" r="1.35"/>
<circle cx="153.1" cy="546.4" r="1.35"/>
<circle cx="126.9" cy="482.9" r="1.35"/>
<circle cx="126.2" cy="524.2" r="1.35"/>
<circle cx="164.4" cy="559.5" r="1.35"/>
<circle cx="162.4" cy="557.1" r="1.35"/>
<circle cx="131.5" cy="478.1" r="1.35"/>
<circle cx="126.2" cy="529.7" r="1.35"/>
<circle cx="153.4" cy="551.8" r="1.35"/>
<circle cx="152.0" cy="552.3" r="1.35"/>
<circle cx="141.8" cy="514.2" r="1.35"/>
<circle cx="108.3" cy="507.0" r="1.35"/>
<circle cx="152.0" cy="546.3" r="1.35"/>
<circle cx="152.4" cy="548.8" r="1.35"/>
<circle cx="163.0" cy="556.8" r="1.35"/>
<circle cx="159.0" cy="558.8" r="1.35"/>
<circle cx="157.4" cy="548.0" r="1.35"/>
<circle cx="132.8" cy="535.8" r="1.35"/>
<circle cx="146.7" cy="537.5" r="1.35"/>
<circle cx="147.8" cy="544.5" r="1.35"/>
<circle cx="133.7" cy="530.9" r="1.35"/>
<circle cx="107.8" cy="494.5" r="1.35"/>
<circle cx="150.4" cy="533.1" r="1.35"/>
<circle cx="141.2" cy="499.3" r="1.35"/>
<circle cx="141.6" cy="528.2" r="1.35"/>
<circle cx="154.1" cy="534.1" r="1.35"/>
<circle cx="159.9" cy="558.1" r="1.35"/>
<circle cx="165.4" cy="563.8" r="1.35"/>
<circle cx="155.0" cy="555.2" r="1.35"/>
<circle cx="138.4" cy="528.5" r="1.35"/>
<circle cx="157.4" cy="529.9" r="1.35"/>
<circle cx="162.2" cy="561.5" r="1.35"/>
<circle cx="138.8" cy="546.8" r="1.35"/>
<circle cx="156.4" cy="548.5" r="1.35"/>
<circle cx="156.4" cy="556.8" r="1.35"/>
<circle cx="85.6" cy="472.8" r="1.35"/>
<circle cx="160.8" cy="560.4" r="1.35"/>
<circle cx="164.9" cy="561.7" r="1.35"/>
<circle cx="168.4" cy="564.9" r="1.35"/>
<circle cx="115.7" cy="450.3" r="1.35"/>
<circle cx="127.3" cy="514.3" r="1.35"/>
<circle cx="153.7" cy="552.1" r="1.35"/>
<circle cx="150.7" cy="540.1" r="1.35"/>
<circle cx="151.8" cy="500.7" r="1.35"/>
<circle cx="133.6" cy="504.6" r="1.35"/>
<circle cx="155.4" cy="550.0" r="1.35"/>
<circle cx="147.7" cy="528.8" r="1.35"/>
<circle cx="144.3" cy="551.5" r="1.35"/>
<circle cx="119.0" cy="435.7" r="1.35"/>
<circle cx="156.4" cy="542.2" r="1.35"/>
<circle cx="163.6" cy="561.2" r="1.35"/>
<circle cx="116.9" cy="512.0" r="1.35"/>
<circle cx="161.7" cy="547.0" r="1.35"/>
<circle cx="161.6" cy="560.4" r="1.35"/>
<circle cx="147.6" cy="550.4" r="1.35"/>
<circle cx="144.8" cy="543.5" r="1.35"/>
<circle cx="145.4" cy="548.2" r="1.35"/>
<circle cx="146.3" cy="513.7" r="1.35"/>
<circle cx="104.2" cy="437.7" r="1.35"/>
<circle cx="144.1" cy="546.4" r="1.35"/>
<circle cx="139.9" cy="540.5" r="1.35"/>
<circle cx="153.9" cy="515.0" r="1.35"/>
<circle cx="157.2" cy="549.9" r="1.35"/>
<circle cx="152.4" cy="545.2" r="1.35"/>
<circle cx="162.3" cy="559.5" r="1.35"/>
<circle cx="119.6" cy="498.8" r="1.35"/>
<circle cx="162.4" cy="560.2" r="1.35"/>
<circle cx="154.3" cy="547.1" r="1.35"/>
<circle cx="160.0" cy="555.8" r="1.35"/>
<circle cx="124.9" cy="518.4" r="1.35"/>
<circle cx="153.4" cy="518.4" r="1.35"/>
<circle cx="132.4" cy="483.4" r="1.35"/>
<circle cx="123.7" cy="486.2" r="1.35"/>
<circle cx="151.9" cy="549.3" r="1.35"/>
<circle cx="152.8" cy="523.3" r="1.35"/>
<circle cx="153.3" cy="556.3" r="1.35"/>
<circle cx="138.4" cy="447.7" r="1.35"/>
<circle cx="123.0" cy="498.1" r="1.35"/>
<circle cx="163.1" cy="558.6" r="1.35"/>
<circle cx="166.0" cy="563.1" r="1.35"/>
<circle cx="123.9" cy="453.6" r="1.35"/>
<circle cx="151.3" cy="492.7" r="1.35"/>
<circle cx="155.0" cy="552.1" r="1.35"/>
<circle cx="112.6" cy="524.2" r="1.35"/>
<circle cx="118.2" cy="500.8" r="1.35"/>
<circle cx="129.8" cy="498.5" r="1.35"/>
<circle cx="164.1" cy="551.7" r="1.35"/>
<circle cx="157.9" cy="551.0" r="1.35"/>
<circle cx="105.8" cy="492.8" r="1.35"/>
<circle cx="137.8" cy="520.5" r="1.35"/>
<circle cx="132.8" cy="517.6" r="1.35"/>
<circle cx="127.3" cy="525.9" r="1.35"/>
<circle cx="161.8" cy="559.6" r="1.35"/>
<circle cx="138.3" cy="533.4" r="1.35"/>
<circle cx="142.5" cy="498.0" r="1.35"/>
<circle cx="142.1" cy="542.7" r="1.35"/>
<circle cx="114.3" cy="507.9" r="1.35"/>
<circle cx="155.3" cy="552.9" r="1.35"/>
<circle cx="107.5" cy="431.8" r="1.35"/>
<circle cx="145.2" cy="545.9" r="1.35"/>
<circle cx="144.8" cy="528.4" r="1.35"/>
<circle cx="129.8" cy="482.0" r="1.35"/>
<circle cx="164.5" cy="562.6" r="1.35"/>
<circle cx="165.1" cy="557.5" r="1.35"/>
<circle cx="140.2" cy="508.3" r="1.35"/>
<circle cx="110.6" cy="524.0" r="1.35"/>
<circle cx="154.0" cy="557.4" r="1.35"/>
<circle cx="143.6" cy="535.0" r="1.35"/>
<circle cx="167.4" cy="563.8" r="1.35"/>
<circle cx="154.6" cy="495.8" r="1.35"/>
<circle cx="152.1" cy="555.1" r="1.35"/>
<circle cx="112.5" cy="459.7" r="1.35"/>
<circle cx="153.1" cy="475.3" r="1.35"/>
<circle cx="157.5" cy="548.2" r="1.35"/>
<circle cx="141.4" cy="510.1" r="1.35"/>
<circle cx="141.2" cy="531.0" r="1.35"/>
<circle cx="151.3" cy="492.6" r="1.35"/>
<circle cx="162.0" cy="549.9" r="1.35"/>
<circle cx="102.3" cy="493.7" r="1.35"/>
<circle cx="124.0" cy="517.9" r="1.35"/>
<circle cx="144.2" cy="547.0" r="1.35"/>
<circle cx="124.7" cy="433.8" r="1.35"/>
<circle cx="136.7" cy="494.4" r="1.35"/>
<circle cx="163.0" cy="558.8" r="1.35"/>
<circle cx="138.2" cy="525.1" r="1.35"/>
<circle cx="165.6" cy="557.3" r="1.35"/>
<circle cx="134.5" cy="434.8" r="1.35"/>
<circle cx="158.1" cy="559.9" r="1.35"/>
<circle cx="149.7" cy="535.4" r="1.35"/>
<circle cx="125.0" cy="438.4" r="1.35"/>
<circle cx="158.1" cy="516.6" r="1.35"/>
<circle cx="152.1" cy="557.1" r="1.35"/>
<circle cx="164.9" cy="563.2" r="1.35"/>
<circle cx="150.6" cy="539.4" r="1.35"/>
<circle cx="110.1" cy="500.6" r="1.35"/>
<circle cx="153.2" cy="480.4" r="1.35"/>
<circle cx="131.7" cy="504.6" r="1.35"/>
<circle cx="137.3" cy="479.7" r="1.35"/>
<circle cx="133.7" cy="515.7" r="1.35"/>
<circle cx="166.2" cy="560.3" r="1.35"/>
<circle cx="148.4" cy="552.5" r="1.35"/>
<circle cx="157.3" cy="528.3" r="1.35"/>
<circle cx="152.4" cy="532.9" r="1.35"/>
<circle cx="124.6" cy="503.6" r="1.35"/>
<circle cx="138.9" cy="539.3" r="1.35"/>
<circle cx="154.8" cy="555.5" r="1.35"/>
<circle cx="156.6" cy="549.0" r="1.35"/>
<circle cx="158.1" cy="553.3" r="1.35"/>
<circle cx="158.6" cy="558.6" r="1.35"/>
<circle cx="133.8" cy="535.1" r="1.35"/>
<circle cx="142.2" cy="503.1" r="1.35"/>
<circle cx="130.9" cy="500.7" r="1.35"/>
<circle cx="132.1" cy="493.1" r="1.35"/>
<circle cx="154.9" cy="544.7" r="1.35"/>
<circle cx="158.7" cy="549.5" r="1.35"/>
<circle cx="165.6" cy="564.0" r="1.35"/>
<circle cx="141.6" cy="529.5" r="1.35"/>
<circle cx="166.5" cy="551.6" r="1.35"/>
<circle cx="152.4" cy="539.0" r="1.35"/>
<circle cx="158.8" cy="532.3" r="1.35"/>
<circle cx="161.3" cy="560.6" r="1.35"/>
<circle cx="153.0" cy="557.2" r="1.35"/>
<circle cx="145.5" cy="450.5" r="1.35"/>
<circle cx="131.2" cy="501.3" r="1.35"/>
<circle cx="146.7" cy="536.0" r="1.35"/>
<circle cx="162.5" cy="546.4" r="1.35"/>
<circle cx="131.1" cy="501.3" r="1.35"/>
<circle cx="149.0" cy="529.6" r="1.35"/>
<circle cx="152.3" cy="545.9" r="1.35"/>
<circle cx="142.8" cy="489.6" r="1.35"/>
<circle cx="145.4" cy="520.6" r="1.35"/>
<circle cx="158.8" cy="551.9" r="1.35"/>
<circle cx="152.0" cy="531.3" r="1.35"/>
<circle cx="138.8" cy="512.2" r="1.35"/>
<circle cx="158.1" cy="557.1" r="1.35"/>
<circle cx="162.2" cy="546.4" r="1.35"/>
<circle cx="123.8" cy="488.0" r="1.35"/>
<circle cx="155.9" cy="543.5" r="1.35"/>
<circle cx="160.8" cy="530.8" r="1.35"/>
<circle cx="142.0" cy="541.4" r="1.35"/>
<circle cx="120.6" cy="436.9" r="1.35"/>
<circle cx="145.4" cy="512.8" r="1.35"/>
<circle cx="140.4" cy="527.5" r="1.35"/>
<circle cx="129.9" cy="531.9" r="1.35"/>
<circle cx="161.1" cy="561.7" r="1.35"/>
<circle cx="138.9" cy="531.8" r="1.35"/>
<circle cx="130.0" cy="519.5" r="1.35"/>
<circle cx="127.3" cy="534.5" r="1.35"/>
<circle cx="135.7" cy="502.8" r="1.35"/>
<circle cx="131.8" cy="475.7" r="1.35"/>
<circle cx="118.7" cy="450.1" r="1.35"/>
<circle cx="130.5" cy="484.5" r="1.35"/>
<circle cx="142.9" cy="535.7" r="1.35"/>
<circle cx="159.1" cy="549.7" r="1.35"/>
<circle cx="163.2" cy="560.8" r="1.35"/>
<circle cx="104.2" cy="462.4" r="1.35"/>
<circle cx="166.5" cy="564.2" r="1.35"/>
<circle cx="139.6" cy="538.1" r="1.35"/>
<circle cx="127.5" cy="499.7" r="1.35"/>
<circle cx="165.5" cy="558.7" r="1.35"/>
<circle cx="146.7" cy="519.2" r="1.35"/>
<circle cx="126.2" cy="504.2" r="1.35"/>
<circle cx="159.1" cy="557.2" r="1.35"/>
<circle cx="139.6" cy="537.5" r="1.35"/>
<circle cx="160.1" cy="558.9" r="1.35"/>
<circle cx="156.0" cy="550.5" r="1.35"/>
<circle cx="135.4" cy="526.9" r="1.35"/>
<circle cx="154.0" cy="553.8" r="1.35"/>
<circle cx="142.9" cy="437.4" r="1.35"/>
<circle cx="157.6" cy="552.1" r="1.35"/>
<circle cx="157.5" cy="553.9" r="1.35"/>
<circle cx="140.7" cy="436.9" r="1.35"/>
<circle cx="166.2" cy="562.7" r="1.35"/>
<circle cx="161.6" cy="559.2" r="1.35"/>
<circle cx="124.2" cy="460.1" r="1.35"/>
<circle cx="153.8" cy="550.4" r="1.35"/>
<circle cx="133.6" cy="426.2" r="1.35"/>
<circle cx="164.6" cy="557.0" r="1.35"/>
<circle cx="140.4" cy="512.1" r="1.35"/>
<circle cx="131.5" cy="436.8" r="1.35"/>
<circle cx="153.0" cy="537.2" r="1.35"/>
<circle cx="150.5" cy="547.4" r="1.35"/>
<circle cx="153.8" cy="555.4" r="1.35"/>
<circle cx="142.5" cy="541.4" r="1.35"/>
<circle cx="145.0" cy="542.7" r="1.35"/>
<circle cx="150.8" cy="544.5" r="1.35"/>
<circle cx="132.0" cy="542.5" r="1.35"/>
<circle cx="146.2" cy="505.7" r="1.35"/>
<circle cx="140.3" cy="519.8" r="1.35"/>
<circle cx="153.0" cy="546.7" r="1.35"/>
<circle cx="134.8" cy="530.5" r="1.35"/>
<circle cx="156.7" cy="551.5" r="1.35"/>
<circle cx="160.3" cy="533.6" r="1.35"/>
<circle cx="157.5" cy="550.4" r="1.35"/>
<circle cx="148.1" cy="537.6" r="1.35"/>
<circle cx="128.4" cy="464.6" r="1.35"/>
<circle cx="119.4" cy="431.5" r="1.35"/>
<circle cx="117.9" cy="482.5" r="1.35"/>
<circle cx="152.3" cy="550.3" r="1.35"/>
<circle cx="154.6" cy="547.0" r="1.35"/>
<circle cx="130.0" cy="441.0" r="1.35"/>
<circle cx="148.9" cy="491.5" r="1.35"/>
<circle cx="160.0" cy="559.0" r="1.35"/>
<circle cx="151.8" cy="547.6" r="1.35"/>
<circle cx="152.6" cy="541.6" r="1.35"/>
<circle cx="151.4" cy="529.9" r="1.35"/>
<circle cx="135.2" cy="513.9" r="1.35"/>
<circle cx="165.2" cy="551.5" r="1.35"/>
<circle cx="161.5" cy="560.0" r="1.35"/>
<circle cx="157.9" cy="552.9" r="1.35"/>
<circle cx="166.4" cy="563.8" r="1.35"/>
<circle cx="141.4" cy="524.4" r="1.35"/>
<circle cx="147.9" cy="515.0" r="1.35"/>
<circle cx="151.6" cy="548.9" r="1.35"/>
<circle cx="119.8" cy="482.1" r="1.35"/>
<circle cx="150.3" cy="543.2" r="1.35"/>
<circle cx="116.3" cy="501.9" r="1.35"/>
<circle cx="166.2" cy="560.4" r="1.35"/>
<circle cx="146.9" cy="470.1" r="1.35"/>
<circle cx="118.8" cy="456.9" r="1.35"/>
<circle cx="159.7" cy="558.8" r="1.35"/>
<circle cx="159.8" cy="556.5" r="1.35"/>
<circle cx="142.5" cy="527.0" r="1.35"/>
<circle cx="128.3" cy="487.1" r="1.35"/>
<circle cx="128.4" cy="503.8" r="1.35"/>
<circle cx="135.0" cy="476.3" r="1.35"/>
<circle cx="128.0" cy="487.8" r="1.35"/>
<circle cx="132.4" cy="488.6" r="1.35"/>
<circle cx="159.0" cy="557.4" r="1.35"/>
<circle cx="142.6" cy="470.8" r="1.35"/>
<circle cx="159.2" cy="555.6" r="1.35"/>
<circle cx="155.5" cy="502.3" r="1.35"/>
<circle cx="130.8" cy="519.9" r="1.35"/>
<circle cx="146.9" cy="542.5" r="1.35"/>
<circle cx="145.6" cy="541.2" r="1.35"/>
<circle cx="118.4" cy="474.6" r="1.35"/>
<circle cx="136.2" cy="535.4" r="1.35"/>
<circle cx="148.6" cy="547.8" r="1.35"/>
<circle cx="161.1" cy="560.0" r="1.35"/>
<circle cx="164.2" cy="558.3" r="1.35"/>
<circle cx="165.7" cy="556.1" r="1.35"/>
<circle cx="154.2" cy="524.2" r="1.35"/>
<circle cx="120.5" cy="441.8" r="1.35"/>
<circle cx="150.6" cy="474.9" r="1.35"/>
<circle cx="162.6" cy="558.4" r="1.35"/>
<circle cx="155.4" cy="551.3" r="1.35"/>
<circle cx="109.0" cy="436.2" r="1.35"/>
<circle cx="141.0" cy="524.2" r="1.35"/>
<circle cx="147.2" cy="544.3" r="1.35"/>
<circle cx="157.3" cy="553.7" r="1.35"/>
<circle cx="142.4" cy="513.3" r="1.35"/>
<circle cx="145.8" cy="519.1" r="1.35"/>
<circle cx="122.1" cy="483.2" r="1.35"/>
<circle cx="150.4" cy="523.7" r="1.35"/>
<circle cx="156.4" cy="555.6" r="1.35"/>
<circle cx="144.9" cy="533.6" r="1.35"/>
<circle cx="139.9" cy="515.8" r="1.35"/>
<circle cx="160.4" cy="541.4" r="1.35"/>
<circle cx="148.3" cy="556.3" r="1.35"/>
<circle cx="161.6" cy="558.9" r="1.35"/>
<circle cx="161.3" cy="561.8" r="1.35"/>
<circle cx="160.6" cy="556.2" r="1.35"/>
<circle cx="124.4" cy="528.3" r="1.35"/>
<circle cx="101.4" cy="465.7" r="1.35"/>
<circle cx="112.1" cy="508.1" r="1.35"/>
<circle cx="164.3" cy="559.8" r="1.35"/>
<circle cx="161.3" cy="558.5" r="1.35"/>
<circle cx="160.1" cy="554.7" r="1.35"/>
<circle cx="154.7" cy="552.2" r="1.35"/>
<circle cx="129.9" cy="500.5" r="1.35"/>
<circle cx="150.0" cy="550.8" r="1.35"/>
<circle cx="162.6" cy="558.1" r="1.35"/>
<circle cx="138.8" cy="520.6" r="1.35"/>
<circle cx="141.8" cy="537.3" r="1.35"/>
<circle cx="165.3" cy="553.1" r="1.35"/>
<circle cx="166.5" cy="562.6" r="1.35"/>
<circle cx="115.2" cy="426.0" r="1.35"/>
<circle cx="128.7" cy="481.9" r="1.35"/>
<circle cx="135.2" cy="513.0" r="1.35"/>
<circle cx="129.1" cy="522.2" r="1.35"/>
<circle cx="111.7" cy="497.7" r="1.35"/>
<circle cx="152.2" cy="534.2" r="1.35"/>
<circle cx="118.8" cy="453.2" r="1.35"/>
<circle cx="144.3" cy="552.0" r="1.35"/>
<circle cx="163.4" cy="558.2" r="1.35"/>
<circle cx="138.1" cy="445.6" r="1.35"/>
<circle cx="151.4" cy="484.2" r="1.35"/>
<circle cx="166.4" cy="563.6" r="1.35"/>
<circle cx="137.6" cy="527.0" r="1.35"/>
<circle cx="156.7" cy="557.0" r="1.35"/>
<circle cx="121.8" cy="461.4" r="1.35"/>
<circle cx="150.1" cy="535.1" r="1.35"/>
<circle cx="150.6" cy="548.2" r="1.35"/>
<circle cx="143.1" cy="535.4" r="1.35"/>
<circle cx="162.6" cy="560.6" r="1.35"/>
<circle cx="114.4" cy="460.7" r="1.35"/>
<circle cx="152.8" cy="483.9" r="1.35"/>
<circle cx="126.2" cy="482.8" r="1.35"/>
<circle cx="146.0" cy="525.4" r="1.35"/>
<circle cx="137.9" cy="536.2" r="1.35"/>
<circle cx="145.3" cy="515.7" r="1.35"/>
<circle cx="137.9" cy="536.9" r="1.35"/>
<circle cx="142.5" cy="528.3" r="1.35"/>
<circle cx="110.7" cy="471.6" r="1.35"/>
<circle cx="152.9" cy="554.0" r="1.35"/>
<circle cx="110.1" cy="448.1" r="1.35"/>
<circle cx="124.3" cy="449.6" r="1.35"/>
<circle cx="152.7" cy="556.6" r="1.35"/>
<circle cx="142.6" cy="500.9" r="1.35"/>
<circle cx="137.3" cy="516.2" r="1.35"/>
<circle cx="127.0" cy="445.1" r="1.35"/>
<circle cx="164.3" cy="561.2" r="1.35"/>
<circle cx="154.0" cy="547.8" r="1.35"/>
<circle cx="128.9" cy="530.6" r="1.35"/>
<circle cx="163.0" cy="559.9" r="1.35"/>
<circle cx="167.1" cy="563.5" r="1.35"/>
<circle cx="148.5" cy="535.2" r="1.35"/>
<circle cx="154.4" cy="554.2" r="1.35"/>
<circle cx="155.2" cy="555.1" r="1.35"/>
<circle cx="136.6" cy="511.4" r="1.35"/>
<circle cx="159.8" cy="550.3" r="1.35"/>
<circle cx="140.8" cy="504.2" r="1.35"/>
<circle cx="136.1" cy="457.7" r="1.35"/>
<circle cx="142.4" cy="533.1" r="1.35"/>
<circle cx="164.3" cy="561.6" r="1.35"/>
<circle cx="146.9" cy="542.7" r="1.35"/>
<circle cx="140.7" cy="494.6" r="1.35"/>
<circle cx="151.2" cy="536.1" r="1.35"/>
<circle cx="105.3" cy="496.4" r="1.35"/>
<circle cx="164.9" cy="562.1" r="1.35"/>
<circle cx="103.8" cy="521.1" r="1.35"/>
<circle cx="130.8" cy="523.8" r="1.35"/>
<circle cx="129.8" cy="500.1" r="1.35"/>
<circle cx="147.0" cy="544.7" r="1.35"/>
<circle cx="139.0" cy="524.6" r="1.35"/>
<circle cx="162.0" cy="523.2" r="1.35"/>
<circle cx="158.8" cy="554.9" r="1.35"/>
<circle cx="164.9" cy="555.7" r="1.35"/>
<circle cx="141.6" cy="537.3" r="1.35"/>
<circle cx="120.5" cy="530.2" r="1.35"/>
<circle cx="112.7" cy="480.0" r="1.35"/>
<circle cx="116.0" cy="469.4" r="1.35"/>
<circle cx="115.5" cy="486.5" r="1.35"/>
<circle cx="142.9" cy="426.9" r="1.35"/>
<circle cx="164.7" cy="562.7" r="1.35"/>
<circle cx="122.7" cy="517.5" r="1.35"/>
<circle cx="167.5" cy="558.1" r="1.35"/>
<circle cx="151.6" cy="549.8" r="1.35"/>
<circle cx="165.5" cy="559.8" r="1.35"/>
<circle cx="166.4" cy="562.9" r="1.35"/>
<circle cx="156.4" cy="504.4" r="1.35"/>
<circle cx="134.7" cy="533.9" r="1.35"/>
<circle cx="120.1" cy="465.2" r="1.35"/>
<circle cx="159.1" cy="515.5" r="1.35"/>
<circle cx="149.7" cy="474.8" r="1.35"/>
<circle cx="150.9" cy="543.3" r="1.35"/>
<circle cx="136.5" cy="529.6" r="1.35"/>
<circle cx="142.6" cy="513.7" r="1.35"/>
<circle cx="155.6" cy="549.6" r="1.35"/>
<circle cx="107.7" cy="478.9" r="1.35"/>
<circle cx="107.0" cy="509.7" r="1.35"/>
<circle cx="152.1" cy="517.9" r="1.35"/>
<circle cx="137.0" cy="528.5" r="1.35"/>
<circle cx="140.3" cy="502.6" r="1.35"/>
<circle cx="133.5" cy="481.0" r="1.35"/>
<circle cx="165.7" cy="553.8" r="1.35"/>
<circle cx="122.1" cy="453.6" r="1.35"/>
<circle cx="164.0" cy="562.4" r="1.35"/>
<circle cx="168.3" cy="565.1" r="1.35"/>
<circle cx="124.8" cy="535.4" r="1.35"/>
<circle cx="123.8" cy="530.7" r="1.35"/>
<circle cx="125.0" cy="502.1" r="1.35"/>
<circle cx="143.3" cy="485.0" r="1.35"/>
<circle cx="120.2" cy="489.6" r="1.35"/>
<circle cx="139.1" cy="495.4" r="1.35"/>
<circle cx="136.3" cy="506.8" r="1.35"/>
<circle cx="166.7" cy="562.8" r="1.35"/>
<circle cx="119.3" cy="460.8" r="1.35"/>
<circle cx="145.2" cy="532.5" r="1.35"/>
<circle cx="144.6" cy="509.6" r="1.35"/>
<circle cx="165.0" cy="560.1" r="1.35"/>
<circle cx="143.4" cy="534.8" r="1.35"/>
<circle cx="143.2" cy="474.1" r="1.35"/>
<circle cx="164.5" cy="560.4" r="1.35"/>
<circle cx="159.3" cy="550.8" r="1.35"/>
<circle cx="154.4" cy="545.6" r="1.35"/>
<circle cx="131.3" cy="494.8" r="1.35"/>
<circle cx="112.8" cy="494.3" r="1.35"/>
<circle cx="142.6" cy="527.4" r="1.35"/>
<circle cx="167.4" cy="560.4" r="1.35"/>
<circle cx="159.4" cy="555.0" r="1.35"/>
<circle cx="154.0" cy="542.6" r="1.35"/>
<circle cx="154.1" cy="554.5" r="1.35"/>
<circle cx="155.7" cy="540.0" r="1.35"/>
<circle cx="120.5" cy="523.4" r="1.35"/>
<circle cx="118.2" cy="432.3" r="1.35"/>
<circle cx="160.5" cy="548.5" r="1.35"/>
<circle cx="161.5" cy="560.4" r="1.35"/>
<circle cx="147.6" cy="541.1" r="1.35"/>
<circle cx="144.6" cy="548.0" r="1.35"/>
<circle cx="95.1" cy="421.8" r="1.35"/>
<circle cx="162.7" cy="560.8" r="1.35"/>
<circle cx="158.9" cy="527.5" r="1.35"/>
<circle cx="149.7" cy="532.2" r="1.35"/>
<circle cx="150.4" cy="548.6" r="1.35"/>
<circle cx="165.8" cy="562.5" r="1.35"/>
<circle cx="118.1" cy="497.3" r="1.35"/>
<circle cx="158.0" cy="544.3" r="1.35"/>
<circle cx="165.9" cy="560.5" r="1.35"/>
<circle cx="149.0" cy="552.6" r="1.35"/>
<circle cx="148.0" cy="524.2" r="1.35"/>
<circle cx="161.5" cy="560.8" r="1.35"/>
<circle cx="115.3" cy="445.5" r="1.35"/>
<circle cx="146.1" cy="458.4" r="1.35"/>
<circle cx="151.5" cy="499.4" r="1.35"/>
<circle cx="137.0" cy="532.8" r="1.35"/>
<circle cx="166.5" cy="560.3" r="1.35"/>
<circle cx="121.0" cy="431.8" r="1.35"/>
<circle cx="164.8" cy="561.7" r="1.35"/>
<circle cx="157.1" cy="545.9" r="1.35"/>
<circle cx="153.1" cy="543.9" r="1.35"/>
<circle cx="154.9" cy="550.0" r="1.35"/>
<circle cx="146.1" cy="523.1" r="1.35"/>
<circle cx="154.9" cy="542.7" r="1.35"/>
<circle cx="104.9" cy="494.0" r="1.35"/>
<circle cx="158.9" cy="555.5" r="1.35"/>
<circle cx="154.2" cy="553.9" r="1.35"/>
<circle cx="116.1" cy="444.1" r="1.35"/>
<circle cx="146.8" cy="550.6" r="1.35"/>
<circle cx="154.0" cy="554.0" r="1.35"/>
<circle cx="121.5" cy="419.4" r="1.35"/>
<circle cx="146.0" cy="498.4" r="1.35"/>
<circle cx="159.3" cy="553.7" r="1.35"/>
<circle cx="156.4" cy="542.0" r="1.35"/>
<circle cx="162.7" cy="554.8" r="1.35"/>
<circle cx="150.9" cy="537.6" r="1.35"/>
<circle cx="167.0" cy="561.6" r="1.35"/>
<circle cx="114.1" cy="496.9" r="1.35"/>
<circle cx="150.4" cy="520.9" r="1.35"/>
<circle cx="149.6" cy="541.7" r="1.35"/>
<circle cx="151.5" cy="526.9" r="1.35"/>
<circle cx="143.1" cy="528.2" r="1.35"/>
<circle cx="111.0" cy="487.8" r="1.35"/>
<circle cx="149.7" cy="548.0" r="1.35"/>
<circle cx="113.5" cy="418.8" r="1.35"/>
<circle cx="137.6" cy="515.3" r="1.35"/>
<circle cx="162.7" cy="560.4" r="1.35"/>
<circle cx="126.8" cy="456.3" r="1.35"/>
<circle cx="163.9" cy="559.2" r="1.35"/>
<circle cx="165.4" cy="561.7" r="1.35"/>
<circle cx="163.4" cy="559.8" r="1.35"/>
<circle cx="150.8" cy="538.4" r="1.35"/>
<circle cx="150.5" cy="529.8" r="1.35"/>
<circle cx="149.1" cy="519.7" r="1.35"/>
<circle cx="146.2" cy="523.0" r="1.35"/>
<circle cx="143.7" cy="507.4" r="1.35"/>
<circle cx="121.7" cy="453.7" r="1.35"/>
<circle cx="146.3" cy="549.4" r="1.35"/>
<circle cx="151.4" cy="557.2" r="1.35"/>
<circle cx="109.0" cy="473.6" r="1.35"/>
<circle cx="119.5" cy="446.8" r="1.35"/>
<circle cx="126.1" cy="495.3" r="1.35"/>
<circle cx="115.6" cy="483.9" r="1.35"/>
<circle cx="165.4" cy="563.9" r="1.35"/>
<circle cx="166.8" cy="563.0" r="1.35"/>
<circle cx="121.1" cy="521.1" r="1.35"/>
<circle cx="143.7" cy="548.5" r="1.35"/>
<circle cx="146.7" cy="546.7" r="1.35"/>
<circle cx="167.5" cy="562.8" r="1.35"/>
<circle cx="151.1" cy="541.4" r="1.35"/>
<circle cx="167.0" cy="563.4" r="1.35"/>
<circle cx="134.0" cy="494.9" r="1.35"/>
<circle cx="130.9" cy="527.8" r="1.35"/>
<circle cx="122.8" cy="506.5" r="1.35"/>
<circle cx="118.5" cy="487.7" r="1.35"/>
<circle cx="163.6" cy="558.4" r="1.35"/>
<circle cx="136.3" cy="537.8" r="1.35"/>
<circle cx="161.0" cy="552.6" r="1.35"/>
<circle cx="134.6" cy="442.0" r="1.35"/>
<circle cx="165.8" cy="562.1" r="1.35"/>
<circle cx="134.5" cy="517.2" r="1.35"/>
<circle cx="154.9" cy="543.5" r="1.35"/>
<circle cx="135.7" cy="514.4" r="1.35"/>
<circle cx="161.5" cy="560.0" r="1.35"/>
<circle cx="160.8" cy="548.0" r="1.35"/>
<circle cx="147.8" cy="544.8" r="1.35"/>
<circle cx="157.6" cy="555.8" r="1.35"/>
<circle cx="109.1" cy="430.4" r="1.35"/>
<circle cx="149.0" cy="544.1" r="1.35"/>
<circle cx="155.3" cy="542.4" r="1.35"/>
<circle cx="129.0" cy="476.6" r="1.35"/>
<circle cx="99.1" cy="467.9" r="1.35"/>
<circle cx="120.5" cy="478.2" r="1.35"/>
<circle cx="140.8" cy="525.3" r="1.35"/>
<circle cx="138.0" cy="538.7" r="1.35"/>
<circle cx="141.0" cy="497.1" r="1.35"/>
<circle cx="118.3" cy="496.5" r="1.35"/>
<circle cx="117.4" cy="527.2" r="1.35"/>
<circle cx="143.4" cy="507.3" r="1.35"/>
<circle cx="156.2" cy="555.2" r="1.35"/>
<circle cx="117.4" cy="496.0" r="1.35"/>
<circle cx="152.0" cy="548.6" r="1.35"/>
<circle cx="166.9" cy="561.9" r="1.35"/>
<circle cx="137.4" cy="511.1" r="1.35"/>
<circle cx="144.2" cy="499.7" r="1.35"/>
<circle cx="152.9" cy="538.8" r="1.35"/>
<circle cx="97.6" cy="439.9" r="1.35"/>
<circle cx="134.5" cy="473.2" r="1.35"/>
<circle cx="149.9" cy="546.7" r="1.35"/>
<circle cx="141.1" cy="533.1" r="1.35"/>
<circle cx="126.2" cy="505.8" r="1.35"/>
<circle cx="148.1" cy="550.6" r="1.35"/>
<circle cx="159.9" cy="549.7" r="1.35"/>
<circle cx="156.9" cy="543.8" r="1.35"/>
<circle cx="142.9" cy="445.5" r="1.35"/>
<circle cx="162.8" cy="558.0" r="1.35"/>
<circle cx="122.3" cy="497.6" r="1.35"/>
<circle cx="159.0" cy="557.4" r="1.35"/>
<circle cx="142.9" cy="548.4" r="1.35"/>
<circle cx="152.5" cy="545.4" r="1.35"/>
<circle cx="151.9" cy="549.3" r="1.35"/>
<circle cx="146.2" cy="540.4" r="1.35"/>
<circle cx="122.1" cy="478.7" r="1.35"/>
<circle cx="163.3" cy="560.1" r="1.35"/>
<circle cx="130.0" cy="540.9" r="1.35"/>
<circle cx="138.4" cy="462.5" r="1.35"/>
<circle cx="122.7" cy="447.6" r="1.35"/>
<circle cx="132.7" cy="541.9" r="1.35"/>
<circle cx="153.4" cy="547.0" r="1.35"/>
<circle cx="131.6" cy="515.0" r="1.35"/>
<circle cx="125.1" cy="496.0" r="1.35"/>
<circle cx="157.5" cy="553.6" r="1.35"/>
<circle cx="158.4" cy="535.8" r="1.35"/>
<circle cx="135.6" cy="543.7" r="1.35"/>
<circle cx="149.6" cy="510.4" r="1.35"/>
<circle cx="120.3" cy="463.9" r="1.35"/>
<circle cx="158.4" cy="531.3" r="1.35"/>
<circle cx="166.6" cy="563.8" r="1.35"/>
<circle cx="160.4" cy="560.3" r="1.35"/>
<circle cx="103.4" cy="494.4" r="1.35"/>
<circle cx="146.2" cy="524.1" r="1.35"/>
<circle cx="135.4" cy="473.4" r="1.35"/>
<circle cx="139.9" cy="484.4" r="1.35"/>
<circle cx="164.7" cy="558.7" r="1.35"/>
<circle cx="165.1" cy="563.1" r="1.35"/>
<circle cx="135.6" cy="504.1" r="1.35"/>
<circle cx="136.6" cy="536.3" r="1.35"/>
<circle cx="167.9" cy="563.7" r="1.35"/>
<circle cx="141.4" cy="536.6" r="1.35"/>
<circle cx="158.5" cy="550.2" r="1.35"/>
<circle cx="114.5" cy="494.6" r="1.35"/>
<circle cx="118.2" cy="435.0" r="1.35"/>
<circle cx="160.5" cy="559.9" r="1.35"/>
<circle cx="149.8" cy="531.0" r="1.35"/>
<circle cx="165.1" cy="561.0" r="1.35"/>
<circle cx="158.9" cy="554.7" r="1.35"/>
<circle cx="164.7" cy="562.5" r="1.35"/>
<circle cx="148.8" cy="539.7" r="1.35"/>
<circle cx="156.4" cy="555.2" r="1.35"/>
<circle cx="123.4" cy="464.6" r="1.35"/>
<circle cx="143.5" cy="539.6" r="1.35"/>
<circle cx="138.9" cy="415.5" r="1.35"/>
<circle cx="166.7" cy="562.6" r="1.35"/>
<circle cx="156.4" cy="533.7" r="1.35"/>
<circle cx="145.7" cy="542.4" r="1.35"/>
<circle cx="157.4" cy="552.3" r="1.35"/>
<circle cx="149.5" cy="549.2" r="1.35"/>
<circle cx="127.3" cy="523.8" r="1.35"/>
<circle cx="143.9" cy="547.5" r="1.35"/>
<circle cx="145.8" cy="524.4" r="1.35"/>
<circle cx="139.7" cy="545.3" r="1.35"/>
<circle cx="167.4" cy="563.9" r="1.35"/>
<circle cx="143.0" cy="536.3" r="1.35"/>
<circle cx="139.6" cy="528.3" r="1.35"/>
<circle cx="148.7" cy="541.6" r="1.35"/>
<circle cx="146.7" cy="544.8" r="1.35"/>
<circle cx="107.8" cy="472.5" r="1.35"/>
<circle cx="159.1" cy="547.5" r="1.35"/>
<circle cx="155.9" cy="550.3" r="1.35"/>
<circle cx="126.0" cy="496.7" r="1.35"/>
<circle cx="160.9" cy="557.4" r="1.35"/>
<circle cx="141.5" cy="497.3" r="1.35"/>
<circle cx="136.9" cy="541.2" r="1.35"/>
<circle cx="133.6" cy="542.0" r="1.35"/>
<circle cx="113.0" cy="424.6" r="1.35"/>
<circle cx="138.1" cy="547.5" r="1.35"/>
<circle cx="168.2" cy="564.8" r="1.35"/>
<circle cx="159.9" cy="554.7" r="1.35"/>
<circle cx="134.5" cy="497.3" r="1.35"/>
<circle cx="137.9" cy="527.7" r="1.35"/>
<circle cx="156.4" cy="527.1" r="1.35"/>
<circle cx="133.1" cy="535.7" r="1.35"/>
<circle cx="142.5" cy="532.8" r="1.35"/>
<circle cx="163.4" cy="562.3" r="1.35"/>
<circle cx="126.7" cy="522.0" r="1.35"/>
<circle cx="156.0" cy="551.6" r="1.35"/>
<circle cx="165.6" cy="563.7" r="1.35"/>
<circle cx="165.7" cy="559.1" r="1.35"/>
<circle cx="165.7" cy="561.8" r="1.35"/>
<circle cx="163.0" cy="559.3" r="1.35"/>
<circle cx="159.4" cy="559.4" r="1.35"/>
<circle cx="162.7" cy="562.0" r="1.35"/>
<circle cx="128.6" cy="505.6" r="1.35"/>
<circle cx="132.6" cy="512.3" r="1.35"/>
<circle cx="146.8" cy="547.2" r="1.35"/>
<circle cx="165.8" cy="563.5" r="1.35"/>
<circle cx="152.4" cy="538.7" r="1.35"/>
<circle cx="157.6" cy="549.8" r="1.35"/>
<circle cx="158.1" cy="555.5" r="1.35"/>
<circle cx="168.4" cy="565.3" r="1.35"/>
<circle cx="166.5" cy="560.7" r="1.35"/>
<circle cx="149.8" cy="513.0" r="1.35"/>
<circle cx="129.1" cy="449.5" r="1.35"/>
<circle cx="160.0" cy="560.6" r="1.35"/>
<circle cx="137.9" cy="544.0" r="1.35"/>
<circle cx="161.2" cy="550.5" r="1.35"/>
<circle cx="143.1" cy="540.4" r="1.35"/>
<circle cx="142.8" cy="527.5" r="1.35"/>
<circle cx="129.5" cy="502.7" r="1.35"/>
<circle cx="147.0" cy="553.1" r="1.35"/>
<circle cx="164.7" cy="562.1" r="1.35"/>
<circle cx="167.3" cy="561.1" r="1.35"/>
<circle cx="132.5" cy="509.9" r="1.35"/>
<circle cx="160.3" cy="561.5" r="1.35"/>
<circle cx="130.0" cy="536.5" r="1.35"/>
<circle cx="160.0" cy="550.3" r="1.35"/>
<circle cx="153.7" cy="552.3" r="1.35"/>
<circle cx="128.0" cy="507.8" r="1.35"/>
<circle cx="126.2" cy="491.3" r="1.35"/>
<circle cx="165.4" cy="563.0" r="1.35"/>
<circle cx="154.1" cy="532.7" r="1.35"/>
<circle cx="148.5" cy="493.2" r="1.35"/>
<circle cx="167.4" cy="563.1" r="1.35"/>
<circle cx="137.2" cy="534.8" r="1.35"/>
<circle cx="131.3" cy="501.8" r="1.35"/>
<circle cx="114.8" cy="498.7" r="1.35"/>
<circle cx="163.5" cy="562.3" r="1.35"/>
<circle cx="150.9" cy="553.5" r="1.35"/>
<circle cx="166.3" cy="561.8" r="1.35"/>
<circle cx="133.6" cy="515.0" r="1.35"/>
<circle cx="136.1" cy="437.6" r="1.35"/>
<circle cx="140.2" cy="477.6" r="1.35"/>
<circle cx="112.4" cy="438.2" r="1.35"/>
<circle cx="153.3" cy="480.8" r="1.35"/>
<circle cx="158.7" cy="550.7" r="1.35"/>
<circle cx="142.2" cy="482.0" r="1.35"/>
<circle cx="161.1" cy="548.6" r="1.35"/>
<circle cx="130.1" cy="493.6" r="1.35"/>
<circle cx="132.3" cy="465.4" r="1.35"/>
<circle cx="126.9" cy="479.7" r="1.35"/>
<circle cx="141.0" cy="483.7" r="1.35"/>
<circle cx="151.8" cy="539.2" r="1.35"/>
<circle cx="154.0" cy="523.5" r="1.35"/>
<circle cx="165.5" cy="546.7" r="1.35"/>
<circle cx="138.0" cy="544.9" r="1.35"/>
<circle cx="138.9" cy="535.3" r="1.35"/>
<circle cx="138.4" cy="455.2" r="1.35"/>
<circle cx="152.3" cy="551.4" r="1.35"/>
<circle cx="138.9" cy="545.9" r="1.35"/>
<circle cx="159.7" cy="555.6" r="1.35"/>
<circle cx="164.9" cy="553.2" r="1.35"/>
<circle cx="151.1" cy="549.1" r="1.35"/>
<circle cx="153.9" cy="555.2" r="1.35"/>
<circle cx="130.3" cy="448.6" r="1.35"/>
<circle cx="161.4" cy="561.9" r="1.35"/>
<circle cx="147.0" cy="539.3" r="1.35"/>
<circle cx="155.5" cy="544.5" r="1.35"/>
<circle cx="156.7" cy="554.3" r="1.35"/>
<circle cx="155.9" cy="551.2" r="1.35"/>
<circle cx="159.0" cy="557.1" r="1.35"/>
<circle cx="129.6" cy="504.2" r="1.35"/>
<circle cx="119.9" cy="505.5" r="1.35"/>
<circle cx="147.1" cy="537.2" r="1.35"/>
<circle cx="164.8" cy="554.0" r="1.35"/>
<circle cx="163.7" cy="559.8" r="1.35"/>
<circle cx="141.1" cy="528.4" r="1.35"/>
<circle cx="119.8" cy="524.4" r="1.35"/>
<circle cx="131.9" cy="482.4" r="1.35"/>
<circle cx="162.8" cy="561.2" r="1.35"/>
<circle cx="162.7" cy="551.4" r="1.35"/>
<circle cx="123.3" cy="507.1" r="1.35"/>
<circle cx="142.8" cy="533.0" r="1.35"/>
<circle cx="145.7" cy="546.0" r="1.35"/>
<circle cx="109.8" cy="458.1" r="1.35"/>
<circle cx="116.5" cy="416.1" r="1.35"/>
<circle cx="146.4" cy="525.6" r="1.35"/>
<circle cx="164.8" cy="558.4" r="1.35"/>
<circle cx="156.4" cy="529.7" r="1.35"/>
<circle cx="142.7" cy="531.9" r="1.35"/>
<circle cx="135.1" cy="528.3" r="1.35"/>
<circle cx="141.2" cy="499.5" r="1.35"/>
<circle cx="150.7" cy="549.4" r="1.35"/>
<circle cx="143.2" cy="526.4" r="1.35"/>
<circle cx="164.9" cy="558.5" r="1.35"/>
<circle cx="160.3" cy="561.0" r="1.35"/>
<circle cx="134.3" cy="453.7" r="1.35"/>
<circle cx="159.6" cy="551.6" r="1.35"/>
<circle cx="149.3" cy="539.9" r="1.35"/>
<circle cx="158.4" cy="558.8" r="1.35"/>
<circle cx="140.1" cy="541.3" r="1.35"/>
<circle cx="147.5" cy="533.7" r="1.35"/>
<circle cx="126.1" cy="468.0" r="1.35"/>
<circle cx="138.9" cy="534.8" r="1.35"/>
<circle cx="144.7" cy="535.6" r="1.35"/>
<circle cx="117.1" cy="492.7" r="1.35"/>
<circle cx="152.2" cy="509.6" r="1.35"/>
<circle cx="164.5" cy="545.5" r="1.35"/>
<circle cx="124.9" cy="511.4" r="1.35"/>
<circle cx="144.4" cy="547.6" r="1.35"/>
<circle cx="132.4" cy="532.7" r="1.35"/>
<circle cx="122.6" cy="509.7" r="1.35"/>
<circle cx="163.8" cy="561.9" r="1.35"/>
<circle cx="153.7" cy="547.4" r="1.35"/>
<circle cx="121.6" cy="498.4" r="1.35"/>
<circle cx="152.2" cy="556.7" r="1.35"/>
<circle cx="155.9" cy="557.6" r="1.35"/>
<circle cx="137.2" cy="528.7" r="1.35"/>
<circle cx="154.8" cy="549.4" r="1.35"/>
<circle cx="134.6" cy="535.6" r="1.35"/>
<circle cx="148.0" cy="545.1" r="1.35"/>
<circle cx="145.0" cy="520.5" r="1.35"/>
<circle cx="159.1" cy="552.1" r="1.35"/>
<circle cx="157.7" cy="552.8" r="1.35"/>
<circle cx="165.5" cy="560.1" r="1.35"/>
<circle cx="165.4" cy="563.1" r="1.35"/>
<circle cx="155.0" cy="549.7" r="1.35"/>
<circle cx="142.7" cy="462.1" r="1.35"/>
<circle cx="144.8" cy="525.7" r="1.35"/>
<circle cx="140.7" cy="516.5" r="1.35"/>
<circle cx="134.1" cy="524.8" r="1.35"/>
<circle cx="131.4" cy="531.9" r="1.35"/>
<circle cx="155.7" cy="547.3" r="1.35"/>
<circle cx="121.4" cy="457.3" r="1.35"/>
<circle cx="124.3" cy="520.6" r="1.35"/>
<circle cx="153.7" cy="533.1" r="1.35"/>
<circle cx="138.4" cy="544.6" r="1.35"/>
<circle cx="143.9" cy="539.7" r="1.35"/>
<circle cx="128.8" cy="512.9" r="1.35"/>
<circle cx="135.6" cy="538.3" r="1.35"/>
<circle cx="141.0" cy="497.7" r="1.35"/>
<circle cx="152.4" cy="537.2" r="1.35"/>
<circle cx="145.5" cy="541.7" r="1.35"/>
<circle cx="146.5" cy="551.1" r="1.35"/>
<circle cx="143.6" cy="549.2" r="1.35"/>
<circle cx="161.7" cy="559.3" r="1.35"/>
<circle cx="147.5" cy="519.5" r="1.35"/>
<circle cx="146.6" cy="503.8" r="1.35"/>
<circle cx="136.2" cy="515.2" r="1.35"/>
<circle cx="152.4" cy="549.5" r="1.35"/>
<circle cx="145.5" cy="487.9" r="1.35"/>
<circle cx="162.1" cy="559.3" r="1.35"/>
<circle cx="152.9" cy="537.5" r="1.35"/>
<circle cx="113.7" cy="429.5" r="1.35"/>
<circle cx="165.1" cy="562.1" r="1.35"/>
<circle cx="138.3" cy="509.1" r="1.35"/>
<circle cx="152.5" cy="536.2" r="1.35"/>
<circle cx="115.4" cy="480.1" r="1.35"/>
<circle cx="130.5" cy="516.5" r="1.35"/>
<circle cx="136.8" cy="485.2" r="1.35"/>
<circle cx="157.8" cy="553.3" r="1.35"/>
<circle cx="110.9" cy="497.6" r="1.35"/>
<circle cx="146.2" cy="540.6" r="1.35"/>
<circle cx="135.1" cy="524.4" r="1.35"/>
<circle cx="158.0" cy="558.8" r="1.35"/>
<circle cx="129.4" cy="483.8" r="1.35"/>
<circle cx="138.0" cy="422.3" r="1.35"/>
<circle cx="122.7" cy="512.4" r="1.35"/>
<circle cx="142.8" cy="440.5" r="1.35"/>
<circle cx="132.5" cy="528.8" r="1.35"/>
<circle cx="164.7" cy="561.1" r="1.35"/>
<circle cx="108.4" cy="469.1" r="1.35"/>
<circle cx="129.9" cy="445.4" r="1.35"/>
<circle cx="149.4" cy="537.3" r="1.35"/>
<circle cx="141.7" cy="531.1" r="1.35"/>
<circle cx="156.5" cy="539.6" r="1.35"/>
<circle cx="165.0" cy="558.5" r="1.35"/>
<circle cx="152.8" cy="543.3" r="1.35"/>
<circle cx="163.4" cy="542.2" r="1.35"/>
<circle cx="161.8" cy="556.2" r="1.35"/>
<circle cx="137.8" cy="518.7" r="1.35"/>
<circle cx="144.3" cy="518.4" r="1.35"/>
<circle cx="132.9" cy="415.8" r="1.35"/>
<circle cx="141.6" cy="531.2" r="1.35"/>
<circle cx="164.8" cy="558.9" r="1.35"/>
<circle cx="124.1" cy="512.1" r="1.35"/>
<circle cx="162.9" cy="558.6" r="1.35"/>
<circle cx="134.7" cy="526.8" r="1.35"/>
<circle cx="139.5" cy="536.3" r="1.35"/>
<circle cx="121.5" cy="489.6" r="1.35"/>
<circle cx="159.7" cy="552.3" r="1.35"/>
<circle cx="163.2" cy="561.6" r="1.35"/>
<circle cx="155.7" cy="546.9" r="1.35"/>
<circle cx="168.1" cy="564.0" r="1.35"/>
<circle cx="152.3" cy="557.5" r="1.35"/>
<circle cx="147.4" cy="548.8" r="1.35"/>
<circle cx="159.8" cy="555.7" r="1.35"/>
<circle cx="118.3" cy="424.3" r="1.35"/>
<circle cx="126.4" cy="531.2" r="1.35"/>
<circle cx="160.5" cy="555.0" r="1.35"/>
<circle cx="131.0" cy="531.8" r="1.35"/>
<circle cx="138.4" cy="499.5" r="1.35"/>
<circle cx="167.0" cy="563.4" r="1.35"/>
<circle cx="165.7" cy="560.5" r="1.35"/>
<circle cx="159.7" cy="547.0" r="1.35"/>
<circle cx="159.9" cy="544.0" r="1.35"/>
<circle cx="138.8" cy="537.7" r="1.35"/>
<circle cx="130.9" cy="497.9" r="1.35"/>
<circle cx="166.7" cy="564.1" r="1.35"/>
<circle cx="160.2" cy="555.6" r="1.35"/>
<circle cx="166.3" cy="551.2" r="1.35"/>
<circle cx="154.2" cy="549.4" r="1.35"/>
<circle cx="133.6" cy="503.8" r="1.35"/>
<circle cx="142.9" cy="541.0" r="1.35"/>
<circle cx="135.9" cy="501.6" r="1.35"/>
<circle cx="126.6" cy="533.5" r="1.35"/>
<circle cx="140.5" cy="548.5" r="1.35"/>
<circle cx="147.8" cy="540.7" r="1.35"/>
<circle cx="104.2" cy="490.1" r="1.35"/>
<circle cx="152.3" cy="540.1" r="1.35"/>
<circle cx="161.9" cy="560.2" r="1.35"/>
<circle cx="138.7" cy="524.0" r="1.35"/>
<circle cx="141.0" cy="463.3" r="1.35"/>
<circle cx="95.0" cy="449.0" r="1.35"/>
<circle cx="120.8" cy="483.6" r="1.35"/>
<circle cx="141.7" cy="499.8" r="1.35"/>
<circle cx="151.0" cy="511.7" r="1.35"/>
<circle cx="141.4" cy="453.0" r="1.35"/>
<circle cx="143.2" cy="437.2" r="1.35"/>
<circle cx="145.4" cy="528.8" r="1.35"/>
<circle cx="143.7" cy="546.9" r="1.35"/>
<circle cx="139.7" cy="501.9" r="1.35"/>
<circle cx="146.8" cy="512.1" r="1.35"/>
<circle cx="157.3" cy="553.4" r="1.35"/>
<circle cx="161.6" cy="556.1" r="1.35"/>
<circle cx="149.6" cy="543.9" r="1.35"/>
<circle cx="128.3" cy="468.4" r="1.35"/>
<circle cx="141.0" cy="547.1" r="1.35"/>
<circle cx="150.3" cy="541.7" r="1.35"/>
<circle cx="125.0" cy="455.2" r="1.35"/>
<circle cx="153.6" cy="547.4" r="1.35"/>
<circle cx="103.4" cy="487.5" r="1.35"/>
<circle cx="157.3" cy="554.6" r="1.35"/>
<circle cx="162.6" cy="558.0" r="1.35"/>
<circle cx="147.1" cy="533.4" r="1.35"/>
<circle cx="154.0" cy="554.5" r="1.35"/>
<circle cx="142.1" cy="520.4" r="1.35"/>
<circle cx="166.1" cy="561.0" r="1.35"/>
<circle cx="157.1" cy="548.2" r="1.35"/>
<circle cx="160.9" cy="552.0" r="1.35"/>
<circle cx="135.8" cy="544.1" r="1.35"/>
<circle cx="162.4" cy="558.2" r="1.35"/>
<circle cx="145.4" cy="506.7" r="1.35"/>
<circle cx="135.8" cy="454.4" r="1.35"/>
<circle cx="160.8" cy="557.4" r="1.35"/>
<circle cx="142.6" cy="484.3" r="1.35"/>
<circle cx="162.8" cy="562.1" r="1.35"/>
<circle cx="165.5" cy="563.8" r="1.35"/>
<circle cx="152.9" cy="551.9" r="1.35"/>
<circle cx="138.5" cy="497.0" r="1.35"/>
<circle cx="111.6" cy="516.0" r="1.35"/>
<circle cx="154.6" cy="552.1" r="1.35"/>
<circle cx="144.0" cy="536.8" r="1.35"/>
<circle cx="148.8" cy="543.7" r="1.35"/>
<circle cx="158.6" cy="554.8" r="1.35"/>
<circle cx="150.5" cy="538.8" r="1.35"/>
<circle cx="117.0" cy="505.2" r="1.35"/>
<circle cx="123.7" cy="500.5" r="1.35"/>
<circle cx="138.8" cy="528.4" r="1.35"/>
<circle cx="167.6" cy="564.7" r="1.35"/>
<circle cx="145.3" cy="540.4" r="1.35"/>
<circle cx="168.1" cy="563.7" r="1.35"/>
<circle cx="116.7" cy="534.4" r="1.35"/>
<circle cx="152.1" cy="537.6" r="1.35"/>
<circle cx="107.1" cy="504.4" r="1.35"/>
<circle cx="127.1" cy="522.1" r="1.35"/>
<circle cx="147.8" cy="496.1" r="1.35"/>
<circle cx="152.0" cy="549.8" r="1.35"/>
<circle cx="157.8" cy="528.5" r="1.35"/>
<circle cx="109.3" cy="463.1" r="1.35"/>
<circle cx="165.6" cy="562.6" r="1.35"/>
<circle cx="132.1" cy="527.7" r="1.35"/>
<circle cx="132.9" cy="535.4" r="1.35"/>
<circle cx="157.6" cy="553.6" r="1.35"/>
<circle cx="140.7" cy="531.8" r="1.35"/>
<circle cx="147.2" cy="545.4" r="1.35"/>
<circle cx="164.1" cy="563.3" r="1.35"/>
<circle cx="155.6" cy="557.7" r="1.35"/>
<circle cx="152.4" cy="552.0" r="1.35"/>
<circle cx="145.1" cy="527.6" r="1.35"/>
<circle cx="146.3" cy="541.4" r="1.35"/>
<circle cx="166.3" cy="561.7" r="1.35"/>
<circle cx="147.4" cy="530.0" r="1.35"/>
<circle cx="163.1" cy="559.3" r="1.35"/>
<circle cx="132.7" cy="511.1" r="1.35"/>
<circle cx="152.8" cy="543.9" r="1.35"/>
<circle cx="152.0" cy="548.9" r="1.35"/>
<circle cx="132.0" cy="478.8" r="1.35"/>
<circle cx="164.8" cy="562.7" r="1.35"/>
<circle cx="142.7" cy="520.6" r="1.35"/>
<circle cx="116.8" cy="485.9" r="1.35"/>
<circle cx="138.1" cy="536.2" r="1.35"/>
<circle cx="160.6" cy="548.3" r="1.35"/>
<circle cx="140.0" cy="516.4" r="1.35"/>
<circle cx="142.5" cy="531.7" r="1.35"/>
<circle cx="168.4" cy="565.0" r="1.35"/>
<circle cx="133.9" cy="503.3" r="1.35"/>
<circle cx="162.5" cy="562.2" r="1.35"/>
<circle cx="123.2" cy="447.1" r="1.35"/>
<circle cx="146.4" cy="507.1" r="1.35"/>
<circle cx="141.4" cy="511.8" r="1.35"/>
<circle cx="158.0" cy="552.5" r="1.35"/>
<circle cx="126.3" cy="530.2" r="1.35"/>
<circle cx="115.9" cy="503.1" r="1.35"/>
<circle cx="162.9" cy="548.2" r="1.35"/>
<circle cx="158.9" cy="557.5" r="1.35"/>
<circle cx="164.4" cy="559.5" r="1.35"/>
<circle cx="128.6" cy="525.0" r="1.35"/>
<circle cx="159.9" cy="555.9" r="1.35"/>
<circle cx="146.3" cy="544.3" r="1.35"/>
<circle cx="151.0" cy="531.6" r="1.35"/>
<circle cx="139.9" cy="523.0" r="1.35"/>
<circle cx="156.9" cy="552.8" r="1.35"/>
<circle cx="143.4" cy="497.8" r="1.35"/>
<circle cx="133.7" cy="482.0" r="1.35"/>
<circle cx="148.5" cy="548.0" r="1.35"/>
<circle cx="147.7" cy="529.2" r="1.35"/>
<circle cx="141.4" cy="506.9" r="1.35"/>
<circle cx="156.6" cy="557.5" r="1.35"/>
<circle cx="130.3" cy="542.8" r="1.35"/>
<circle cx="143.6" cy="536.8" r="1.35"/>
<circle cx="153.8" cy="548.3" r="1.35"/>
<circle cx="110.2" cy="462.4" r="1.35"/>
<circle cx="127.4" cy="523.7" r="1.35"/>
<circle cx="146.7" cy="549.9" r="1.35"/>
<circle cx="144.6" cy="549.1" r="1.35"/>
<circle cx="152.5" cy="547.5" r="1.35"/>
<circle cx="140.3" cy="521.8" r="1.35"/>
<circle cx="153.1" cy="547.1" r="1.35"/>
<circle cx="125.5" cy="515.2" r="1.35"/>
<circle cx="138.9" cy="541.1" r="1.35"/>
<circle cx="141.2" cy="522.4" r="1.35"/>
<circle cx="153.6" cy="546.9" r="1.35"/>
<circle cx="165.4" cy="553.6" r="1.35"/>
<circle cx="157.5" cy="558.5" r="1.35"/>
<circle cx="121.7" cy="535.3" r="1.35"/>
<circle cx="144.8" cy="546.7" r="1.35"/>
<circle cx="163.5" cy="561.5" r="1.35"/>
<circle cx="126.7" cy="518.9" r="1.35"/>
<circle cx="147.2" cy="550.1" r="1.35"/>
<circle cx="160.2" cy="555.9" r="1.35"/>
<circle cx="161.8" cy="556.3" r="1.35"/>
<circle cx="155.3" cy="557.3" r="1.35"/>
<circle cx="135.6" cy="418.3" r="1.35"/>
<circle cx="150.8" cy="545.2" r="1.35"/>
<circle cx="153.1" cy="551.8" r="1.35"/>
<circle cx="131.5" cy="453.5" r="1.35"/>
<circle cx="153.7" cy="541.7" r="1.35"/>
<circle cx="123.2" cy="485.1" r="1.35"/>
<circle cx="154.4" cy="553.0" r="1.35"/>
<circle cx="158.5" cy="558.0" r="1.35"/>
<circle cx="145.3" cy="499.7" r="1.35"/>
<circle cx="121.6" cy="493.1" r="1.35"/>
<circle cx="145.2" cy="528.9" r="1.35"/>
<circle cx="163.8" cy="546.0" r="1.35"/>
<circle cx="124.2" cy="446.6" r="1.35"/>
<circle cx="131.6" cy="497.2" r="1.35"/>
<circle cx="149.0" cy="550.9" r="1.35"/>
<circle cx="133.8" cy="505.2" r="1.35"/>
<circle cx="157.0" cy="555.6" r="1.35"/>
<circle cx="151.4" cy="551.2" r="1.35"/>
<circle cx="117.8" cy="473.9" r="1.35"/>
<circle cx="147.9" cy="520.7" r="1.35"/>
<circle cx="135.4" cy="520.5" r="1.35"/>
<circle cx="161.5" cy="559.1" r="1.35"/>
<circle cx="160.8" cy="553.3" r="1.35"/>
<circle cx="152.4" cy="537.8" r="1.35"/>
<circle cx="128.2" cy="486.9" r="1.35"/>
<circle cx="150.8" cy="519.8" r="1.35"/>
<circle cx="139.1" cy="460.8" r="1.35"/>
<circle cx="149.4" cy="490.3" r="1.35"/>
<circle cx="131.5" cy="469.9" r="1.35"/>
<circle cx="145.6" cy="512.1" r="1.35"/>
<circle cx="142.7" cy="547.3" r="1.35"/>
<circle cx="131.1" cy="524.7" r="1.35"/>
<circle cx="162.9" cy="557.3" r="1.35"/>
<circle cx="155.2" cy="554.2" r="1.35"/>
<circle cx="162.4" cy="560.6" r="1.35"/>
<circle cx="157.9" cy="557.3" r="1.35"/>
<circle cx="161.7" cy="556.3" r="1.35"/>
<circle cx="168.2" cy="564.7" r="1.35"/>
<circle cx="122.8" cy="489.6" r="1.35"/>
<circle cx="146.9" cy="528.6" r="1.35"/>
<circle cx="160.7" cy="557.9" r="1.35"/>
<circle cx="167.3" cy="563.5" r="1.35"/>
<circle cx="145.1" cy="524.5" r="1.35"/>
<circle cx="165.0" cy="563.4" r="1.35"/>
<circle cx="162.6" cy="559.5" r="1.35"/>
<circle cx="132.3" cy="535.1" r="1.35"/>
<circle cx="133.1" cy="504.7" r="1.35"/>
<circle cx="150.9" cy="539.4" r="1.35"/>
<circle cx="154.6" cy="550.1" r="1.35"/>
<circle cx="156.3" cy="550.5" r="1.35"/>
<circle cx="150.6" cy="527.8" r="1.35"/>
<circle cx="165.4" cy="559.1" r="1.35"/>
<circle cx="163.8" cy="561.5" r="1.35"/>
<circle cx="150.8" cy="503.5" r="1.35"/>
<circle cx="106.6" cy="487.0" r="1.35"/>
<circle cx="104.0" cy="417.6" r="1.35"/>
<circle cx="160.5" cy="554.8" r="1.35"/>
<circle cx="116.7" cy="496.1" r="1.35"/>
<circle cx="160.5" cy="557.9" r="1.35"/>
<circle cx="142.9" cy="490.4" r="1.35"/>
<circle cx="159.9" cy="559.3" r="1.35"/>
<circle cx="158.1" cy="559.3" r="1.35"/>
<circle cx="157.8" cy="546.8" r="1.35"/>
<circle cx="143.5" cy="456.9" r="1.35"/>
<circle cx="159.2" cy="554.1" r="1.35"/>
<circle cx="163.9" cy="562.0" r="1.35"/>
<circle cx="116.5" cy="426.7" r="1.35"/>
<circle cx="133.1" cy="517.3" r="1.35"/>
<circle cx="158.6" cy="547.6" r="1.35"/>
<circle cx="167.3" cy="562.7" r="1.35"/>
<circle cx="157.7" cy="558.5" r="1.35"/>
<circle cx="156.3" cy="553.7" r="1.35"/>
<circle cx="148.2" cy="531.1" r="1.35"/>
<circle cx="125.5" cy="490.0" r="1.35"/>
<circle cx="153.7" cy="510.4" r="1.35"/>
<circle cx="159.7" cy="559.2" r="1.35"/>
<circle cx="148.0" cy="511.7" r="1.35"/>
<circle cx="153.2" cy="539.6" r="1.35"/>
<circle cx="139.4" cy="499.4" r="1.35"/>
<circle cx="140.7" cy="499.0" r="1.35"/>
<circle cx="167.7" cy="564.9" r="1.35"/>
<circle cx="161.7" cy="560.1" r="1.35"/>
<circle cx="120.8" cy="520.7" r="1.35"/>
<circle cx="126.2" cy="483.9" r="1.35"/>
<circle cx="133.9" cy="529.5" r="1.35"/>
<circle cx="154.7" cy="557.9" r="1.35"/>
<circle cx="128.4" cy="514.7" r="1.35"/>
<circle cx="137.6" cy="529.2" r="1.35"/>
<circle cx="151.3" cy="550.4" r="1.35"/>
<circle cx="155.2" cy="548.6" r="1.35"/>
<circle cx="125.7" cy="511.5" r="1.35"/>
<circle cx="157.2" cy="555.6" r="1.35"/>
<circle cx="140.1" cy="522.7" r="1.35"/>
<circle cx="115.7" cy="525.0" r="1.35"/>
<circle cx="134.6" cy="465.8" r="1.35"/>
<circle cx="131.4" cy="516.6" r="1.35"/>
<circle cx="142.6" cy="542.3" r="1.35"/>
<circle cx="142.4" cy="546.6" r="1.35"/>
<circle cx="135.5" cy="528.5" r="1.35"/>
<circle cx="149.9" cy="523.5" r="1.35"/>
<circle cx="148.9" cy="536.9" r="1.35"/>
<circle cx="139.1" cy="544.6" r="1.35"/>
<circle cx="148.5" cy="544.5" r="1.35"/>
<circle cx="145.0" cy="517.8" r="1.35"/>
<circle cx="150.9" cy="545.1" r="1.35"/>
<circle cx="154.9" cy="548.0" r="1.35"/>
<circle cx="149.1" cy="525.6" r="1.35"/>
<circle cx="161.6" cy="560.6" r="1.35"/>
<circle cx="135.6" cy="530.2" r="1.35"/>
<circle cx="127.9" cy="512.9" r="1.35"/>
<circle cx="134.6" cy="532.6" r="1.35"/>
<circle cx="136.5" cy="530.4" r="1.35"/>
<circle cx="129.8" cy="519.5" r="1.35"/>
<circle cx="153.8" cy="526.4" r="1.35"/>
<circle cx="166.0" cy="563.5" r="1.35"/>
<circle cx="142.5" cy="525.1" r="1.35"/>
<circle cx="124.9" cy="513.1" r="1.35"/>
<circle cx="156.2" cy="549.8" r="1.35"/>
<circle cx="144.1" cy="548.7" r="1.35"/>
<circle cx="160.8" cy="533.3" r="1.35"/>
<circle cx="157.5" cy="542.6" r="1.35"/>
<circle cx="132.5" cy="484.9" r="1.35"/>
<circle cx="158.8" cy="552.8" r="1.35"/>
<circle cx="163.8" cy="561.3" r="1.35"/>
<circle cx="133.2" cy="526.9" r="1.35"/>
<circle cx="136.3" cy="511.2" r="1.35"/>
<circle cx="149.2" cy="534.1" r="1.35"/>
<circle cx="162.7" cy="560.3" r="1.35"/>
<circle cx="124.3" cy="520.6" r="1.35"/>
<circle cx="159.3" cy="560.2" r="1.35"/>
<circle cx="140.7" cy="512.4" r="1.35"/>
<circle cx="145.1" cy="537.9" r="1.35"/>
<circle cx="145.1" cy="537.2" r="1.35"/>
<circle cx="161.8" cy="546.7" r="1.35"/>
<circle cx="167.4" cy="564.7" r="1.35"/>
<circle cx="157.5" cy="555.1" r="1.35"/>
<circle cx="132.8" cy="517.6" r="1.35"/>
<circle cx="143.2" cy="472.8" r="1.35"/>
<circle cx="138.3" cy="515.0" r="1.35"/>
<circle cx="128.3" cy="491.4" r="1.35"/>
<circle cx="150.4" cy="514.0" r="1.35"/>
<circle cx="158.7" cy="557.7" r="1.35"/>
<circle cx="135.1" cy="501.2" r="1.35"/>
<circle cx="163.0" cy="557.1" r="1.35"/>
<circle cx="111.6" cy="484.8" r="1.35"/>
<circle cx="136.7" cy="519.7" r="1.35"/>
<circle cx="165.0" cy="560.1" r="1.35"/>
<circle cx="151.8" cy="535.4" r="1.35"/>
<circle cx="132.8" cy="525.6" r="1.35"/>
<circle cx="152.5" cy="477.1" r="1.35"/>
<circle cx="145.9" cy="529.8" r="1.35"/>
<circle cx="154.6" cy="542.5" r="1.35"/>
<circle cx="105.8" cy="473.6" r="1.35"/>
<circle cx="161.4" cy="561.3" r="1.35"/>
<circle cx="133.0" cy="519.6" r="1.35"/>
<circle cx="112.5" cy="515.2" r="1.35"/>
<circle cx="131.7" cy="510.7" r="1.35"/>
<circle cx="114.4" cy="488.4" r="1.35"/>
<circle cx="143.5" cy="544.8" r="1.35"/>
<circle cx="166.0" cy="563.5" r="1.35"/>
<circle cx="141.2" cy="474.8" r="1.35"/>
<circle cx="167.9" cy="561.5" r="1.35"/>
<circle cx="160.3" cy="537.2" r="1.35"/>
<circle cx="108.2" cy="415.2" r="1.35"/>
<circle cx="143.4" cy="505.9" r="1.35"/>
<circle cx="151.5" cy="554.4" r="1.35"/>
<circle cx="144.8" cy="536.4" r="1.35"/>
<circle cx="120.1" cy="474.7" r="1.35"/>
<circle cx="116.5" cy="475.4" r="1.35"/>
<circle cx="126.5" cy="520.1" r="1.35"/>
<circle cx="160.7" cy="557.2" r="1.35"/>
<circle cx="164.3" cy="561.1" r="1.35"/>
<circle cx="146.8" cy="551.5" r="1.35"/>
<circle cx="136.8" cy="525.2" r="1.35"/>
<circle cx="155.5" cy="543.1" r="1.35"/>
<circle cx="151.7" cy="535.5" r="1.35"/>
<circle cx="113.7" cy="485.3" r="1.35"/>
<circle cx="102.5" cy="448.5" r="1.35"/>
<circle cx="130.0" cy="433.2" r="1.35"/>
<circle cx="137.1" cy="418.1" r="1.35"/>
<circle cx="154.7" cy="555.7" r="1.35"/>
<circle cx="144.1" cy="546.2" r="1.35"/>
<circle cx="120.3" cy="474.6" r="1.35"/>
<circle cx="137.9" cy="519.9" r="1.35"/>
<circle cx="138.7" cy="506.2" r="1.35"/>
<circle cx="158.0" cy="553.7" r="1.35"/>
<circle cx="162.1" cy="551.7" r="1.35"/>
<circle cx="214.3" cy="499.2" r="1.35"/>
<circle cx="205.0" cy="481.7" r="1.35"/>
<circle cx="199.8" cy="502.7" r="1.35"/>
<circle cx="208.9" cy="542.1" r="1.35"/>
<circle cx="181.1" cy="542.5" r="1.35"/>
<circle cx="176.0" cy="546.7" r="1.35"/>
<circle cx="197.8" cy="542.9" r="1.35"/>
<circle cx="190.6" cy="491.6" r="1.35"/>
<circle cx="249.7" cy="474.4" r="1.35"/>
<circle cx="232.5" cy="472.7" r="1.35"/>
<circle cx="197.2" cy="519.8" r="1.35"/>
<circle cx="203.6" cy="490.6" r="1.35"/>
<circle cx="174.1" cy="541.3" r="1.35"/>
<circle cx="232.9" cy="496.8" r="1.35"/>
<circle cx="173.1" cy="559.8" r="1.35"/>
<circle cx="178.3" cy="556.9" r="1.35"/>
<circle cx="188.8" cy="546.7" r="1.35"/>
<circle cx="181.8" cy="532.3" r="1.35"/>
<circle cx="186.7" cy="501.7" r="1.35"/>
<circle cx="182.8" cy="549.5" r="1.35"/>
<circle cx="175.8" cy="529.1" r="1.35"/>
<circle cx="191.7" cy="499.3" r="1.35"/>
<circle cx="198.4" cy="530.6" r="1.35"/>
<circle cx="177.2" cy="538.7" r="1.35"/>
<circle cx="202.4" cy="512.9" r="1.35"/>
<circle cx="174.4" cy="559.6" r="1.35"/>
<circle cx="179.3" cy="558.8" r="1.35"/>
<circle cx="178.6" cy="530.8" r="1.35"/>
<circle cx="189.6" cy="533.9" r="1.35"/>
<circle cx="198.8" cy="547.6" r="1.35"/>
<circle cx="171.1" cy="563.4" r="1.35"/>
<circle cx="192.8" cy="541.2" r="1.35"/>
<circle cx="178.7" cy="560.4" r="1.35"/>
<circle cx="211.3" cy="452.6" r="1.35"/>
<circle cx="180.5" cy="547.5" r="1.35"/>
<circle cx="188.8" cy="544.5" r="1.35"/>
<circle cx="169.2" cy="564.0" r="1.35"/>
<circle cx="184.0" cy="556.4" r="1.35"/>
<circle cx="218.9" cy="483.5" r="1.35"/>
<circle cx="176.5" cy="557.0" r="1.35"/>
<circle cx="239.1" cy="472.8" r="1.35"/>
<circle cx="193.3" cy="519.7" r="1.35"/>
<circle cx="190.8" cy="538.9" r="1.35"/>
<circle cx="187.8" cy="544.0" r="1.35"/>
<circle cx="169.7" cy="563.4" r="1.35"/>
<circle cx="177.2" cy="557.7" r="1.35"/>
<circle cx="228.2" cy="434.6" r="1.35"/>
<circle cx="202.5" cy="495.8" r="1.35"/>
<circle cx="215.6" cy="492.9" r="1.35"/>
<circle cx="175.3" cy="562.4" r="1.35"/>
<circle cx="207.9" cy="520.0" r="1.35"/>
<circle cx="222.2" cy="517.5" r="1.35"/>
<circle cx="221.3" cy="452.6" r="1.35"/>
<circle cx="212.3" cy="525.2" r="1.35"/>
<circle cx="189.5" cy="555.5" r="1.35"/>
<circle cx="177.5" cy="517.5" r="1.35"/>
<circle cx="204.4" cy="487.8" r="1.35"/>
<circle cx="201.1" cy="535.8" r="1.35"/>
<circle cx="170.7" cy="558.9" r="1.35"/>
<circle cx="182.5" cy="524.4" r="1.35"/>
<circle cx="176.3" cy="549.8" r="1.35"/>
<circle cx="181.3" cy="529.2" r="1.35"/>
<circle cx="209.3" cy="534.0" r="1.35"/>
<circle cx="249.5" cy="492.0" r="1.35"/>
<circle cx="186.7" cy="535.2" r="1.35"/>
<circle cx="211.6" cy="504.1" r="1.35"/>
<circle cx="186.8" cy="543.3" r="1.35"/>
<circle cx="169.6" cy="564.5" r="1.35"/>
<circle cx="172.4" cy="561.5" r="1.35"/>
<circle cx="185.4" cy="549.2" r="1.35"/>
<circle cx="180.0" cy="552.4" r="1.35"/>
<circle cx="198.1" cy="499.5" r="1.35"/>
<circle cx="182.5" cy="551.9" r="1.35"/>
<circle cx="248.4" cy="452.1" r="1.35"/>
<circle cx="177.4" cy="555.2" r="1.35"/>
<circle cx="174.3" cy="561.5" r="1.35"/>
<circle cx="246.3" cy="431.6" r="1.35"/>
<circle cx="194.3" cy="544.4" r="1.35"/>
<circle cx="209.0" cy="446.5" r="1.35"/>
<circle cx="264.2" cy="417.9" r="1.35"/>
<circle cx="200.8" cy="537.0" r="1.35"/>
<circle cx="208.3" cy="517.5" r="1.35"/>
<circle cx="179.9" cy="559.7" r="1.35"/>
<circle cx="194.3" cy="553.3" r="1.35"/>
<circle cx="174.2" cy="546.6" r="1.35"/>
<circle cx="176.6" cy="558.3" r="1.35"/>
<circle cx="173.0" cy="557.5" r="1.35"/>
<circle cx="210.5" cy="456.6" r="1.35"/>
<circle cx="202.5" cy="521.6" r="1.35"/>
<circle cx="169.9" cy="563.9" r="1.35"/>
<circle cx="187.6" cy="557.0" r="1.35"/>
<circle cx="223.6" cy="465.5" r="1.35"/>
<circle cx="183.8" cy="552.5" r="1.35"/>
<circle cx="194.1" cy="508.8" r="1.35"/>
<circle cx="172.7" cy="562.1" r="1.35"/>
<circle cx="192.0" cy="550.2" r="1.35"/>
<circle cx="170.6" cy="559.7" r="1.35"/>
<circle cx="223.8" cy="470.2" r="1.35"/>
<circle cx="182.3" cy="530.5" r="1.35"/>
<circle cx="228.6" cy="495.6" r="1.35"/>
<circle cx="202.9" cy="512.1" r="1.35"/>
<circle cx="233.1" cy="492.8" r="1.35"/>
<circle cx="171.1" cy="556.3" r="1.35"/>
<circle cx="196.5" cy="525.2" r="1.35"/>
<circle cx="179.4" cy="531.8" r="1.35"/>
<circle cx="199.5" cy="483.3" r="1.35"/>
<circle cx="182.2" cy="507.6" r="1.35"/>
<circle cx="239.8" cy="429.9" r="1.35"/>
<circle cx="200.5" cy="538.1" r="1.35"/>
<circle cx="211.1" cy="502.5" r="1.35"/>
<circle cx="193.4" cy="546.2" r="1.35"/>
<circle cx="206.7" cy="520.3" r="1.35"/>
<circle cx="170.4" cy="563.9" r="1.35"/>
<circle cx="177.8" cy="539.1" r="1.35"/>
<circle cx="205.6" cy="484.6" r="1.35"/>
<circle cx="198.7" cy="542.2" r="1.35"/>
<circle cx="215.8" cy="505.6" r="1.35"/>
<circle cx="181.5" cy="554.6" r="1.35"/>
<circle cx="171.3" cy="561.7" r="1.35"/>
<circle cx="200.9" cy="524.2" r="1.35"/>
<circle cx="232.0" cy="435.4" r="1.35"/>
<circle cx="182.6" cy="515.7" r="1.35"/>
<circle cx="182.4" cy="548.6" r="1.35"/>
<circle cx="189.4" cy="550.1" r="1.35"/>
<circle cx="180.4" cy="553.8" r="1.35"/>
<circle cx="168.6" cy="565.1" r="1.35"/>
<circle cx="226.4" cy="469.1" r="1.35"/>
<circle cx="200.1" cy="436.2" r="1.35"/>
<circle cx="175.7" cy="552.1" r="1.35"/>
<circle cx="202.5" cy="530.9" r="1.35"/>
<circle cx="211.4" cy="515.0" r="1.35"/>
<circle cx="209.6" cy="524.6" r="1.35"/>
<circle cx="218.4" cy="485.5" r="1.35"/>
<circle cx="172.5" cy="558.1" r="1.35"/>
<circle cx="177.9" cy="559.9" r="1.35"/>
<circle cx="187.3" cy="533.8" r="1.35"/>
<circle cx="178.3" cy="554.9" r="1.35"/>
<circle cx="248.7" cy="440.8" r="1.35"/>
<circle cx="185.0" cy="541.9" r="1.35"/>
<circle cx="179.3" cy="549.3" r="1.35"/>
<circle cx="208.8" cy="532.3" r="1.35"/>
<circle cx="198.5" cy="489.7" r="1.35"/>
<circle cx="194.6" cy="511.3" r="1.35"/>
<circle cx="200.9" cy="415.4" r="1.35"/>
<circle cx="180.7" cy="541.1" r="1.35"/>
<circle cx="221.7" cy="507.0" r="1.35"/>
<circle cx="203.7" cy="548.2" r="1.35"/>
<circle cx="214.5" cy="455.6" r="1.35"/>
<circle cx="190.1" cy="535.9" r="1.35"/>
<circle cx="179.2" cy="534.2" r="1.35"/>
<circle cx="192.5" cy="498.5" r="1.35"/>
<circle cx="193.4" cy="537.5" r="1.35"/>
<circle cx="193.7" cy="521.3" r="1.35"/>
<circle cx="244.2" cy="425.3" r="1.35"/>
<circle cx="189.9" cy="545.9" r="1.35"/>
<circle cx="183.6" cy="555.5" r="1.35"/>
<circle cx="218.9" cy="508.5" r="1.35"/>
<circle cx="171.6" cy="562.5" r="1.35"/>
<circle cx="218.8" cy="508.6" r="1.35"/>
<circle cx="214.6" cy="505.1" r="1.35"/>
<circle cx="196.9" cy="430.5" r="1.35"/>
<circle cx="195.9" cy="534.4" r="1.35"/>
<circle cx="184.1" cy="558.6" r="1.35"/>
<circle cx="235.3" cy="470.9" r="1.35"/>
<circle cx="210.1" cy="536.6" r="1.35"/>
<circle cx="175.3" cy="561.8" r="1.35"/>
<circle cx="260.9" cy="457.6" r="1.35"/>
<circle cx="218.3" cy="521.7" r="1.35"/>
<circle cx="181.5" cy="557.9" r="1.35"/>
<circle cx="207.5" cy="472.4" r="1.35"/>
<circle cx="176.9" cy="559.2" r="1.35"/>
<circle cx="204.2" cy="494.7" r="1.35"/>
<circle cx="185.6" cy="551.0" r="1.35"/>
<circle cx="212.4" cy="459.2" r="1.35"/>
<circle cx="204.9" cy="465.5" r="1.35"/>
<circle cx="194.4" cy="471.8" r="1.35"/>
<circle cx="215.5" cy="502.0" r="1.35"/>
<circle cx="192.8" cy="469.2" r="1.35"/>
<circle cx="233.1" cy="478.8" r="1.35"/>
<circle cx="171.9" cy="552.7" r="1.35"/>
<circle cx="210.8" cy="490.4" r="1.35"/>
<circle cx="207.0" cy="526.3" r="1.35"/>
<circle cx="222.4" cy="466.1" r="1.35"/>
<circle cx="205.6" cy="516.9" r="1.35"/>
<circle cx="170.2" cy="563.0" r="1.35"/>
<circle cx="176.8" cy="557.1" r="1.35"/>
<circle cx="187.7" cy="542.8" r="1.35"/>
<circle cx="185.8" cy="539.6" r="1.35"/>
<circle cx="183.1" cy="554.4" r="1.35"/>
<circle cx="191.7" cy="460.8" r="1.35"/>
<circle cx="193.0" cy="484.8" r="1.35"/>
<circle cx="207.7" cy="517.5" r="1.35"/>
<circle cx="175.1" cy="555.1" r="1.35"/>
<circle cx="182.6" cy="557.2" r="1.35"/>
<circle cx="192.0" cy="533.8" r="1.35"/>
<circle cx="182.6" cy="530.5" r="1.35"/>
<circle cx="170.0" cy="563.7" r="1.35"/>
<circle cx="189.1" cy="532.8" r="1.35"/>
<circle cx="190.4" cy="503.2" r="1.35"/>
<circle cx="191.1" cy="521.4" r="1.35"/>
<circle cx="242.4" cy="479.7" r="1.35"/>
<circle cx="181.0" cy="547.7" r="1.35"/>
<circle cx="216.5" cy="484.5" r="1.35"/>
<circle cx="211.4" cy="494.1" r="1.35"/>
<circle cx="177.6" cy="550.8" r="1.35"/>
<circle cx="216.2" cy="517.8" r="1.35"/>
<circle cx="177.2" cy="559.5" r="1.35"/>
<circle cx="208.1" cy="531.3" r="1.35"/>
<circle cx="193.3" cy="553.7" r="1.35"/>
<circle cx="183.7" cy="551.3" r="1.35"/>
<circle cx="202.4" cy="542.6" r="1.35"/>
<circle cx="186.7" cy="551.6" r="1.35"/>
<circle cx="198.7" cy="522.7" r="1.35"/>
<circle cx="201.9" cy="494.8" r="1.35"/>
<circle cx="228.7" cy="460.5" r="1.35"/>
<circle cx="178.9" cy="540.8" r="1.35"/>
<circle cx="242.3" cy="448.8" r="1.35"/>
<circle cx="199.1" cy="529.8" r="1.35"/>
<circle cx="215.0" cy="466.8" r="1.35"/>
<circle cx="184.8" cy="556.7" r="1.35"/>
<circle cx="199.2" cy="533.9" r="1.35"/>
<circle cx="172.5" cy="554.4" r="1.35"/>
<circle cx="196.9" cy="545.6" r="1.35"/>
<circle cx="184.3" cy="527.8" r="1.35"/>
<circle cx="201.0" cy="484.5" r="1.35"/>
<circle cx="170.3" cy="563.7" r="1.35"/>
<circle cx="206.0" cy="525.5" r="1.35"/>
<circle cx="179.8" cy="543.6" r="1.35"/>
<circle cx="225.9" cy="425.0" r="1.35"/>
<circle cx="217.2" cy="490.7" r="1.35"/>
<circle cx="221.5" cy="435.8" r="1.35"/>
<circle cx="180.0" cy="549.0" r="1.35"/>
<circle cx="206.9" cy="503.0" r="1.35"/>
<circle cx="203.0" cy="467.6" r="1.35"/>
<circle cx="194.7" cy="470.6" r="1.35"/>
<circle cx="178.4" cy="555.0" r="1.35"/>
<circle cx="175.9" cy="552.7" r="1.35"/>
<circle cx="193.6" cy="516.2" r="1.35"/>
<circle cx="180.5" cy="558.0" r="1.35"/>
<circle cx="211.4" cy="455.6" r="1.35"/>
<circle cx="236.0" cy="473.8" r="1.35"/>
<circle cx="190.3" cy="520.5" r="1.35"/>
<circle cx="186.0" cy="536.4" r="1.35"/>
<circle cx="200.8" cy="514.3" r="1.35"/>
<circle cx="182.5" cy="493.5" r="1.35"/>
<circle cx="211.6" cy="527.3" r="1.35"/>
<circle cx="231.5" cy="527.6" r="1.35"/>
<circle cx="200.9" cy="516.7" r="1.35"/>
<circle cx="174.7" cy="554.8" r="1.35"/>
<circle cx="222.8" cy="486.0" r="1.35"/>
<circle cx="178.9" cy="549.9" r="1.35"/>
<circle cx="170.3" cy="561.1" r="1.35"/>
<circle cx="189.3" cy="545.5" r="1.35"/>
<circle cx="186.9" cy="557.5" r="1.35"/>
<circle cx="191.8" cy="518.4" r="1.35"/>
<circle cx="180.4" cy="558.4" r="1.35"/>
<circle cx="204.7" cy="512.3" r="1.35"/>
<circle cx="176.2" cy="559.2" r="1.35"/>
<circle cx="201.3" cy="488.8" r="1.35"/>
<circle cx="211.8" cy="420.2" r="1.35"/>
<circle cx="208.3" cy="432.0" r="1.35"/>
<circle cx="203.1" cy="532.0" r="1.35"/>
<circle cx="187.1" cy="551.8" r="1.35"/>
<circle cx="190.2" cy="513.0" r="1.35"/>
<circle cx="239.3" cy="458.5" r="1.35"/>
<circle cx="180.4" cy="551.9" r="1.35"/>
<circle cx="180.8" cy="557.4" r="1.35"/>
<circle cx="248.9" cy="484.4" r="1.35"/>
<circle cx="225.8" cy="485.0" r="1.35"/>
<circle cx="176.2" cy="554.0" r="1.35"/>
<circle cx="193.1" cy="538.2" r="1.35"/>
<circle cx="182.3" cy="553.6" r="1.35"/>
<circle cx="173.8" cy="551.6" r="1.35"/>
<circle cx="210.0" cy="490.9" r="1.35"/>
<circle cx="194.7" cy="528.7" r="1.35"/>
<circle cx="201.3" cy="485.8" r="1.35"/>
<circle cx="173.5" cy="559.5" r="1.35"/>
<circle cx="246.2" cy="468.4" r="1.35"/>
<circle cx="193.2" cy="496.5" r="1.35"/>
<circle cx="181.0" cy="503.6" r="1.35"/>
<circle cx="209.5" cy="530.6" r="1.35"/>
<circle cx="180.8" cy="552.9" r="1.35"/>
<circle cx="195.9" cy="547.3" r="1.35"/>
<circle cx="185.7" cy="544.1" r="1.35"/>
<circle cx="177.7" cy="558.5" r="1.35"/>
<circle cx="176.4" cy="557.5" r="1.35"/>
<circle cx="192.0" cy="551.1" r="1.35"/>
<circle cx="179.2" cy="554.5" r="1.35"/>
<circle cx="233.2" cy="514.0" r="1.35"/>
<circle cx="174.7" cy="558.1" r="1.35"/>
<circle cx="180.4" cy="538.4" r="1.35"/>
<circle cx="202.3" cy="476.1" r="1.35"/>
<circle cx="192.9" cy="519.4" r="1.35"/>
<circle cx="173.2" cy="546.6" r="1.35"/>
<circle cx="229.6" cy="497.4" r="1.35"/>
<circle cx="190.2" cy="486.8" r="1.35"/>
<circle cx="193.6" cy="512.7" r="1.35"/>
<circle cx="261.1" cy="511.7" r="1.35"/>
<circle cx="200.1" cy="434.3" r="1.35"/>
<circle cx="222.6" cy="417.7" r="1.35"/>
<circle cx="194.9" cy="548.4" r="1.35"/>
<circle cx="175.8" cy="561.5" r="1.35"/>
<circle cx="194.8" cy="509.0" r="1.35"/>
<circle cx="194.2" cy="530.0" r="1.35"/>
<circle cx="184.9" cy="522.6" r="1.35"/>
<circle cx="226.8" cy="495.4" r="1.35"/>
<circle cx="196.8" cy="535.9" r="1.35"/>
<circle cx="181.2" cy="554.9" r="1.35"/>
<circle cx="189.6" cy="539.6" r="1.35"/>
<circle cx="198.2" cy="522.9" r="1.35"/>
<circle cx="178.6" cy="548.1" r="1.35"/>
<circle cx="218.2" cy="440.7" r="1.35"/>
<circle cx="209.3" cy="506.5" r="1.35"/>
<circle cx="171.4" cy="559.1" r="1.35"/>
<circle cx="172.5" cy="561.6" r="1.35"/>
<circle cx="220.7" cy="481.6" r="1.35"/>
<circle cx="187.2" cy="525.0" r="1.35"/>
<circle cx="215.5" cy="464.4" r="1.35"/>
<circle cx="189.4" cy="534.7" r="1.35"/>
<circle cx="192.5" cy="524.6" r="1.35"/>
<circle cx="220.0" cy="438.1" r="1.35"/>
<circle cx="177.6" cy="560.3" r="1.35"/>
<circle cx="172.4" cy="559.7" r="1.35"/>
<circle cx="231.7" cy="480.7" r="1.35"/>
<circle cx="266.9" cy="462.9" r="1.35"/>
<circle cx="192.0" cy="477.8" r="1.35"/>
<circle cx="226.1" cy="484.6" r="1.35"/>
<circle cx="201.8" cy="472.4" r="1.35"/>
<circle cx="175.7" cy="556.9" r="1.35"/>
<circle cx="185.9" cy="549.1" r="1.35"/>
<circle cx="203.0" cy="445.6" r="1.35"/>
<circle cx="191.3" cy="533.8" r="1.35"/>
<circle cx="172.5" cy="562.4" r="1.35"/>
<circle cx="230.8" cy="521.9" r="1.35"/>
<circle cx="193.8" cy="528.3" r="1.35"/>
<circle cx="183.6" cy="546.5" r="1.35"/>
<circle cx="196.1" cy="460.4" r="1.35"/>
<circle cx="200.9" cy="501.0" r="1.35"/>
<circle cx="182.2" cy="550.3" r="1.35"/>
<circle cx="190.0" cy="532.6" r="1.35"/>
<circle cx="206.5" cy="503.6" r="1.35"/>
<circle cx="176.9" cy="560.3" r="1.35"/>
<circle cx="199.8" cy="519.6" r="1.35"/>
<circle cx="173.2" cy="555.4" r="1.35"/>
<circle cx="190.9" cy="550.9" r="1.35"/>
<circle cx="206.2" cy="525.9" r="1.35"/>
<circle cx="203.9" cy="533.9" r="1.35"/>
<circle cx="231.7" cy="509.0" r="1.35"/>
<circle cx="214.6" cy="415.8" r="1.35"/>
<circle cx="188.1" cy="522.1" r="1.35"/>
<circle cx="176.5" cy="553.8" r="1.35"/>
<circle cx="244.3" cy="487.6" r="1.35"/>
<circle cx="177.0" cy="559.9" r="1.35"/>
<circle cx="192.9" cy="515.7" r="1.35"/>
<circle cx="194.1" cy="506.5" r="1.35"/>
<circle cx="175.6" cy="554.5" r="1.35"/>
<circle cx="192.2" cy="520.6" r="1.35"/>
<circle cx="189.6" cy="536.7" r="1.35"/>
<circle cx="192.3" cy="526.1" r="1.35"/>
<circle cx="172.8" cy="561.2" r="1.35"/>
<circle cx="211.2" cy="475.2" r="1.35"/>
<circle cx="218.2" cy="520.4" r="1.35"/>
<circle cx="168.7" cy="565.0" r="1.35"/>
<circle cx="196.6" cy="482.8" r="1.35"/>
<circle cx="176.3" cy="554.0" r="1.35"/>
<circle cx="171.4" cy="563.5" r="1.35"/>
<circle cx="173.2" cy="562.5" r="1.35"/>
<circle cx="219.1" cy="496.6" r="1.35"/>
<circle cx="187.6" cy="467.3" r="1.35"/>
<circle cx="172.0" cy="558.6" r="1.35"/>
<circle cx="174.6" cy="555.9" r="1.35"/>
<circle cx="201.6" cy="528.8" r="1.35"/>
<circle cx="171.8" cy="561.9" r="1.35"/>
<circle cx="195.3" cy="531.9" r="1.35"/>
<circle cx="189.9" cy="554.5" r="1.35"/>
<circle cx="189.1" cy="550.6" r="1.35"/>
<circle cx="195.5" cy="512.6" r="1.35"/>
<circle cx="250.8" cy="460.4" r="1.35"/>
<circle cx="179.7" cy="553.6" r="1.35"/>
<circle cx="189.5" cy="498.8" r="1.35"/>
<circle cx="259.1" cy="451.9" r="1.35"/>
<circle cx="221.0" cy="520.3" r="1.35"/>
<circle cx="184.7" cy="556.2" r="1.35"/>
<circle cx="243.9" cy="465.6" r="1.35"/>
<circle cx="211.3" cy="505.4" r="1.35"/>
<circle cx="187.5" cy="536.8" r="1.35"/>
<circle cx="177.5" cy="545.4" r="1.35"/>
<circle cx="208.0" cy="481.4" r="1.35"/>
<circle cx="214.5" cy="420.9" r="1.35"/>
<circle cx="194.4" cy="490.5" r="1.35"/>
<circle cx="198.1" cy="520.4" r="1.35"/>
<circle cx="170.7" cy="558.0" r="1.35"/>
<circle cx="180.7" cy="557.2" r="1.35"/>
<circle cx="197.0" cy="535.1" r="1.35"/>
<circle cx="172.1" cy="558.5" r="1.35"/>
<circle cx="245.1" cy="447.8" r="1.35"/>
<circle cx="177.4" cy="554.9" r="1.35"/>
<circle cx="188.1" cy="541.2" r="1.35"/>
<circle cx="198.5" cy="478.3" r="1.35"/>
<circle cx="186.7" cy="556.9" r="1.35"/>
<circle cx="197.1" cy="552.6" r="1.35"/>
<circle cx="233.4" cy="498.3" r="1.35"/>
<circle cx="239.8" cy="511.1" r="1.35"/>
<circle cx="173.1" cy="559.3" r="1.35"/>
<circle cx="180.9" cy="550.6" r="1.35"/>
<circle cx="207.3" cy="513.2" r="1.35"/>
<circle cx="215.6" cy="498.7" r="1.35"/>
<circle cx="177.7" cy="554.4" r="1.35"/>
<circle cx="207.3" cy="537.4" r="1.35"/>
<circle cx="195.4" cy="494.6" r="1.35"/>
<circle cx="169.8" cy="563.2" r="1.35"/>
<circle cx="186.5" cy="554.3" r="1.35"/>
<circle cx="217.7" cy="510.7" r="1.35"/>
<circle cx="184.2" cy="524.0" r="1.35"/>
<circle cx="189.7" cy="526.8" r="1.35"/>
<circle cx="179.9" cy="547.7" r="1.35"/>
<circle cx="179.2" cy="554.0" r="1.35"/>
<circle cx="178.8" cy="554.4" r="1.35"/>
<circle cx="171.8" cy="562.0" r="1.35"/>
<circle cx="197.2" cy="516.5" r="1.35"/>
<circle cx="223.3" cy="513.3" r="1.35"/>
<circle cx="173.4" cy="554.5" r="1.35"/>
<circle cx="185.1" cy="554.9" r="1.35"/>
<circle cx="209.4" cy="424.5" r="1.35"/>
<circle cx="194.6" cy="508.4" r="1.35"/>
<circle cx="226.2" cy="481.5" r="1.35"/>
<circle cx="185.6" cy="513.2" r="1.35"/>
<circle cx="172.4" cy="557.9" r="1.35"/>
<circle cx="225.1" cy="483.0" r="1.35"/>
<circle cx="213.9" cy="463.6" r="1.35"/>
<circle cx="178.0" cy="555.9" r="1.35"/>
<circle cx="183.5" cy="552.4" r="1.35"/>
<circle cx="183.6" cy="549.8" r="1.35"/>
<circle cx="179.2" cy="560.1" r="1.35"/>
<circle cx="223.2" cy="498.1" r="1.35"/>
<circle cx="184.5" cy="556.4" r="1.35"/>
<circle cx="207.4" cy="485.4" r="1.35"/>
<circle cx="191.0" cy="547.1" r="1.35"/>
<circle cx="204.7" cy="415.3" r="1.35"/>
<circle cx="174.0" cy="562.5" r="1.35"/>
<circle cx="187.0" cy="543.9" r="1.35"/>
<circle cx="188.3" cy="546.8" r="1.35"/>
<circle cx="208.7" cy="496.0" r="1.35"/>
<circle cx="195.4" cy="529.1" r="1.35"/>
<circle cx="219.4" cy="465.7" r="1.35"/>
<circle cx="191.1" cy="516.3" r="1.35"/>
<circle cx="183.4" cy="552.8" r="1.35"/>
<circle cx="209.6" cy="450.5" r="1.35"/>
<circle cx="191.8" cy="538.0" r="1.35"/>
<circle cx="206.9" cy="459.2" r="1.35"/>
<circle cx="180.6" cy="537.7" r="1.35"/>
<circle cx="196.6" cy="536.0" r="1.35"/>
<circle cx="209.6" cy="471.7" r="1.35"/>
<circle cx="200.9" cy="521.1" r="1.35"/>
<circle cx="189.3" cy="549.0" r="1.35"/>
<circle cx="191.3" cy="545.5" r="1.35"/>
<circle cx="202.5" cy="474.6" r="1.35"/>
<circle cx="203.9" cy="540.3" r="1.35"/>
<circle cx="179.3" cy="556.4" r="1.35"/>
<circle cx="199.8" cy="493.3" r="1.35"/>
<circle cx="198.1" cy="547.0" r="1.35"/>
<circle cx="217.5" cy="538.9" r="1.35"/>
<circle cx="184.8" cy="535.0" r="1.35"/>
<circle cx="220.2" cy="517.3" r="1.35"/>
<circle cx="200.2" cy="482.0" r="1.35"/>
<circle cx="218.4" cy="464.0" r="1.35"/>
<circle cx="196.6" cy="461.5" r="1.35"/>
<circle cx="187.0" cy="549.6" r="1.35"/>
<circle cx="188.4" cy="489.2" r="1.35"/>
<circle cx="220.7" cy="512.9" r="1.35"/>
<circle cx="221.9" cy="496.2" r="1.35"/>
<circle cx="176.5" cy="555.9" r="1.35"/>
<circle cx="179.1" cy="555.7" r="1.35"/>
<circle cx="236.1" cy="418.2" r="1.35"/>
<circle cx="169.7" cy="563.3" r="1.35"/>
<circle cx="203.1" cy="527.8" r="1.35"/>
<circle cx="178.5" cy="517.5" r="1.35"/>
<circle cx="195.7" cy="525.2" r="1.35"/>
<circle cx="206.4" cy="512.7" r="1.35"/>
<circle cx="189.2" cy="497.7" r="1.35"/>
<circle cx="190.8" cy="532.3" r="1.35"/>
<circle cx="190.6" cy="529.4" r="1.35"/>
<circle cx="175.2" cy="553.9" r="1.35"/>
<circle cx="220.6" cy="421.1" r="1.35"/>
<circle cx="241.6" cy="502.2" r="1.35"/>
<circle cx="194.5" cy="537.5" r="1.35"/>
<circle cx="221.2" cy="532.5" r="1.35"/>
<circle cx="203.4" cy="466.7" r="1.35"/>
<circle cx="183.0" cy="548.2" r="1.35"/>
<circle cx="183.7" cy="496.9" r="1.35"/>
<circle cx="177.4" cy="540.0" r="1.35"/>
<circle cx="202.3" cy="472.8" r="1.35"/>
<circle cx="231.8" cy="485.3" r="1.35"/>
<circle cx="233.8" cy="500.4" r="1.35"/>
<circle cx="186.1" cy="531.6" r="1.35"/>
<circle cx="176.4" cy="555.3" r="1.35"/>
<circle cx="206.4" cy="523.4" r="1.35"/>
<circle cx="179.7" cy="558.6" r="1.35"/>
<circle cx="207.3" cy="531.3" r="1.35"/>
<circle cx="178.2" cy="549.7" r="1.35"/>
<circle cx="195.5" cy="524.9" r="1.35"/>
<circle cx="206.7" cy="460.0" r="1.35"/>
<circle cx="192.2" cy="543.0" r="1.35"/>
<circle cx="187.8" cy="548.1" r="1.35"/>
<circle cx="188.4" cy="546.6" r="1.35"/>
<circle cx="210.1" cy="501.0" r="1.35"/>
<circle cx="200.8" cy="516.6" r="1.35"/>
<circle cx="204.0" cy="433.6" r="1.35"/>
<circle cx="196.1" cy="526.6" r="1.35"/>
<circle cx="183.6" cy="545.5" r="1.35"/>
<circle cx="191.7" cy="505.9" r="1.35"/>
<circle cx="175.3" cy="547.2" r="1.35"/>
<circle cx="175.0" cy="557.2" r="1.35"/>
<circle cx="199.8" cy="519.3" r="1.35"/>
<circle cx="180.7" cy="526.7" r="1.35"/>
<circle cx="177.5" cy="559.0" r="1.35"/>
<circle cx="175.4" cy="554.0" r="1.35"/>
<circle cx="243.8" cy="495.2" r="1.35"/>
<circle cx="190.8" cy="535.7" r="1.35"/>
<circle cx="217.0" cy="523.4" r="1.35"/>
<circle cx="192.7" cy="526.8" r="1.35"/>
<circle cx="189.3" cy="510.3" r="1.35"/>
<circle cx="197.4" cy="526.5" r="1.35"/>
<circle cx="185.7" cy="519.0" r="1.35"/>
<circle cx="185.8" cy="521.4" r="1.35"/>
<circle cx="173.1" cy="562.3" r="1.35"/>
<circle cx="202.3" cy="530.4" r="1.35"/>
<circle cx="189.9" cy="539.4" r="1.35"/>
<circle cx="199.1" cy="513.5" r="1.35"/>
<circle cx="178.3" cy="549.8" r="1.35"/>
<circle cx="193.9" cy="536.1" r="1.35"/>
<circle cx="180.1" cy="538.8" r="1.35"/>
<circle cx="201.4" cy="513.6" r="1.35"/>
<circle cx="179.1" cy="544.1" r="1.35"/>
<circle cx="191.5" cy="537.7" r="1.35"/>
<circle cx="204.0" cy="437.9" r="1.35"/>
<circle cx="205.5" cy="525.2" r="1.35"/>
<circle cx="199.2" cy="517.6" r="1.35"/>
<circle cx="174.8" cy="560.2" r="1.35"/>
<circle cx="169.1" cy="563.9" r="1.35"/>
<circle cx="204.3" cy="537.3" r="1.35"/>
<circle cx="244.1" cy="457.0" r="1.35"/>
<circle cx="202.1" cy="529.0" r="1.35"/>
<circle cx="183.5" cy="508.6" r="1.35"/>
<circle cx="205.9" cy="539.7" r="1.35"/>
<circle cx="184.7" cy="546.7" r="1.35"/>
<circle cx="176.6" cy="548.7" r="1.35"/>
<circle cx="228.4" cy="495.6" r="1.35"/>
<circle cx="176.1" cy="559.1" r="1.35"/>
<circle cx="216.8" cy="543.9" r="1.35"/>
<circle cx="186.1" cy="535.1" r="1.35"/>
<circle cx="220.3" cy="526.6" r="1.35"/>
<circle cx="199.8" cy="490.7" r="1.35"/>
<circle cx="177.7" cy="559.8" r="1.35"/>
<circle cx="226.2" cy="523.4" r="1.35"/>
<circle cx="180.5" cy="542.5" r="1.35"/>
<circle cx="179.0" cy="556.9" r="1.35"/>
<circle cx="204.5" cy="528.3" r="1.35"/>
<circle cx="193.7" cy="532.9" r="1.35"/>
<circle cx="176.6" cy="542.3" r="1.35"/>
<circle cx="211.1" cy="529.0" r="1.35"/>
<circle cx="226.7" cy="487.6" r="1.35"/>
<circle cx="186.0" cy="547.1" r="1.35"/>
<circle cx="172.1" cy="560.5" r="1.35"/>
<circle cx="181.9" cy="546.5" r="1.35"/>
<circle cx="183.6" cy="542.7" r="1.35"/>
<circle cx="222.4" cy="507.5" r="1.35"/>
<circle cx="188.2" cy="539.2" r="1.35"/>
<circle cx="196.7" cy="542.3" r="1.35"/>
<circle cx="173.4" cy="557.3" r="1.35"/>
<circle cx="207.0" cy="503.2" r="1.35"/>
<circle cx="173.3" cy="561.8" r="1.35"/>
<circle cx="188.6" cy="534.4" r="1.35"/>
<circle cx="235.1" cy="492.1" r="1.35"/>
<circle cx="190.6" cy="544.0" r="1.35"/>
<circle cx="182.6" cy="541.5" r="1.35"/>
<circle cx="215.4" cy="421.1" r="1.35"/>
<circle cx="179.3" cy="556.6" r="1.35"/>
<circle cx="189.6" cy="541.1" r="1.35"/>
<circle cx="188.5" cy="525.0" r="1.35"/>
<circle cx="217.2" cy="439.3" r="1.35"/>
<circle cx="195.5" cy="481.8" r="1.35"/>
<circle cx="224.2" cy="500.5" r="1.35"/>
<circle cx="182.4" cy="556.8" r="1.35"/>
<circle cx="230.5" cy="535.8" r="1.35"/>
<circle cx="192.7" cy="550.8" r="1.35"/>
<circle cx="214.9" cy="499.0" r="1.35"/>
<circle cx="197.8" cy="518.6" r="1.35"/>
<circle cx="196.0" cy="528.0" r="1.35"/>
<circle cx="204.4" cy="537.4" r="1.35"/>
<circle cx="173.2" cy="556.5" r="1.35"/>
<circle cx="175.0" cy="560.6" r="1.35"/>
<circle cx="214.6" cy="447.0" r="1.35"/>
<circle cx="218.6" cy="532.0" r="1.35"/>
<circle cx="203.2" cy="529.5" r="1.35"/>
<circle cx="215.5" cy="509.5" r="1.35"/>
<circle cx="183.3" cy="545.6" r="1.35"/>
<circle cx="234.9" cy="486.0" r="1.35"/>
<circle cx="178.1" cy="536.7" r="1.35"/>
<circle cx="229.0" cy="449.7" r="1.35"/>
<circle cx="193.9" cy="494.7" r="1.35"/>
<circle cx="194.5" cy="528.5" r="1.35"/>
<circle cx="190.4" cy="535.4" r="1.35"/>
<circle cx="207.9" cy="488.5" r="1.35"/>
<circle cx="211.6" cy="513.3" r="1.35"/>
<circle cx="173.9" cy="556.7" r="1.35"/>
<circle cx="208.6" cy="482.3" r="1.35"/>
<circle cx="171.2" cy="560.3" r="1.35"/>
<circle cx="197.9" cy="530.6" r="1.35"/>
<circle cx="187.5" cy="548.8" r="1.35"/>
<circle cx="234.6" cy="447.5" r="1.35"/>
<circle cx="186.8" cy="551.8" r="1.35"/>
<circle cx="214.5" cy="433.5" r="1.35"/>
<circle cx="212.3" cy="427.1" r="1.35"/>
<circle cx="174.6" cy="557.4" r="1.35"/>
<circle cx="185.2" cy="544.7" r="1.35"/>
<circle cx="217.1" cy="530.1" r="1.35"/>
<circle cx="184.9" cy="550.0" r="1.35"/>
<circle cx="186.0" cy="551.9" r="1.35"/>
<circle cx="174.2" cy="554.4" r="1.35"/>
<circle cx="195.8" cy="541.9" r="1.35"/>
<circle cx="207.7" cy="500.0" r="1.35"/>
<circle cx="170.2" cy="559.3" r="1.35"/>
<circle cx="188.1" cy="534.3" r="1.35"/>
<circle cx="192.9" cy="539.0" r="1.35"/>
<circle cx="233.3" cy="485.2" r="1.35"/>
<circle cx="205.1" cy="499.6" r="1.35"/>
<circle cx="225.8" cy="500.4" r="1.35"/>
<circle cx="191.6" cy="543.6" r="1.35"/>
<circle cx="172.3" cy="562.3" r="1.35"/>
<circle cx="189.5" cy="541.8" r="1.35"/>
<circle cx="178.8" cy="556.6" r="1.35"/>
<circle cx="226.6" cy="488.8" r="1.35"/>
<circle cx="189.7" cy="530.0" r="1.35"/>
<circle cx="202.4" cy="525.5" r="1.35"/>
<circle cx="228.3" cy="466.3" r="1.35"/>
<circle cx="196.6" cy="529.0" r="1.35"/>
<circle cx="259.7" cy="424.3" r="1.35"/>
<circle cx="199.3" cy="507.7" r="1.35"/>
<circle cx="195.0" cy="515.2" r="1.35"/>
<circle cx="218.4" cy="521.3" r="1.35"/>
<circle cx="202.5" cy="502.4" r="1.35"/>
<circle cx="189.6" cy="552.4" r="1.35"/>
<circle cx="193.1" cy="536.9" r="1.35"/>
<circle cx="186.7" cy="524.6" r="1.35"/>
<circle cx="213.4" cy="481.0" r="1.35"/>
<circle cx="176.9" cy="553.0" r="1.35"/>
<circle cx="205.9" cy="527.9" r="1.35"/>
<circle cx="233.1" cy="524.5" r="1.35"/>
<circle cx="189.7" cy="549.5" r="1.35"/>
<circle cx="180.0" cy="552.9" r="1.35"/>
<circle cx="179.9" cy="545.1" r="1.35"/>
<circle cx="195.3" cy="515.2" r="1.35"/>
<circle cx="179.3" cy="540.8" r="1.35"/>
<circle cx="194.6" cy="527.1" r="1.35"/>
<circle cx="218.2" cy="449.1" r="1.35"/>
<circle cx="215.3" cy="500.0" r="1.35"/>
<circle cx="171.1" cy="561.9" r="1.35"/>
<circle cx="191.8" cy="516.7" r="1.35"/>
<circle cx="169.2" cy="564.3" r="1.35"/>
<circle cx="230.9" cy="527.0" r="1.35"/>
<circle cx="221.8" cy="457.2" r="1.35"/>
<circle cx="215.6" cy="499.1" r="1.35"/>
<circle cx="170.1" cy="564.0" r="1.35"/>
<circle cx="217.5" cy="538.6" r="1.35"/>
<circle cx="185.8" cy="549.0" r="1.35"/>
<circle cx="175.3" cy="537.6" r="1.35"/>
<circle cx="219.1" cy="477.4" r="1.35"/>
<circle cx="232.5" cy="494.6" r="1.35"/>
<circle cx="176.3" cy="552.0" r="1.35"/>
<circle cx="174.5" cy="560.2" r="1.35"/>
<circle cx="215.3" cy="515.3" r="1.35"/>
<circle cx="173.6" cy="559.2" r="1.35"/>
<circle cx="203.2" cy="517.6" r="1.35"/>
<circle cx="177.9" cy="535.0" r="1.35"/>
<circle cx="203.2" cy="548.1" r="1.35"/>
<circle cx="186.8" cy="530.3" r="1.35"/>
<circle cx="202.8" cy="542.4" r="1.35"/>
<circle cx="175.1" cy="557.2" r="1.35"/>
<circle cx="214.5" cy="495.4" r="1.35"/>
<circle cx="173.5" cy="555.9" r="1.35"/>
<circle cx="195.1" cy="544.2" r="1.35"/>
<circle cx="187.6" cy="550.5" r="1.35"/>
<circle cx="200.9" cy="537.4" r="1.35"/>
<circle cx="203.3" cy="448.8" r="1.35"/>
<circle cx="176.3" cy="555.1" r="1.35"/>
<circle cx="191.4" cy="516.4" r="1.35"/>
<circle cx="177.2" cy="554.1" r="1.35"/>
<circle cx="183.9" cy="556.0" r="1.35"/>
<circle cx="191.3" cy="522.5" r="1.35"/>
<circle cx="170.6" cy="560.7" r="1.35"/>
<circle cx="194.5" cy="519.7" r="1.35"/>
<circle cx="190.2" cy="550.9" r="1.35"/>
<circle cx="212.4" cy="536.8" r="1.35"/>
<circle cx="198.7" cy="543.4" r="1.35"/>
<circle cx="186.0" cy="556.2" r="1.35"/>
<circle cx="176.3" cy="550.1" r="1.35"/>
<circle cx="169.4" cy="564.1" r="1.35"/>
<circle cx="171.7" cy="562.8" r="1.35"/>
<circle cx="183.3" cy="544.3" r="1.35"/>
<circle cx="191.7" cy="535.0" r="1.35"/>
<circle cx="189.4" cy="540.4" r="1.35"/>
<circle cx="191.8" cy="503.5" r="1.35"/>
<circle cx="179.8" cy="546.8" r="1.35"/>
<circle cx="177.8" cy="554.6" r="1.35"/>
<circle cx="191.5" cy="541.4" r="1.35"/>
<circle cx="193.6" cy="539.7" r="1.35"/>
<circle cx="182.3" cy="541.4" r="1.35"/>
<circle cx="176.7" cy="546.9" r="1.35"/>
<circle cx="202.0" cy="528.1" r="1.35"/>
<circle cx="197.1" cy="495.4" r="1.35"/>
<circle cx="194.9" cy="523.8" r="1.35"/>
<circle cx="199.7" cy="544.8" r="1.35"/>
<circle cx="176.0" cy="533.3" r="1.35"/>
<circle cx="226.7" cy="506.4" r="1.35"/>
<circle cx="170.8" cy="560.9" r="1.35"/>
<circle cx="189.6" cy="539.4" r="1.35"/>
<circle cx="183.5" cy="517.8" r="1.35"/>
<circle cx="227.1" cy="499.5" r="1.35"/>
<circle cx="180.4" cy="545.0" r="1.35"/>
<circle cx="179.7" cy="557.8" r="1.35"/>
<circle cx="175.8" cy="561.5" r="1.35"/>
<circle cx="189.4" cy="553.5" r="1.35"/>
<circle cx="191.9" cy="523.6" r="1.35"/>
<circle cx="192.3" cy="547.7" r="1.35"/>
<circle cx="202.0" cy="539.2" r="1.35"/>
<circle cx="183.5" cy="522.1" r="1.35"/>
<circle cx="230.2" cy="489.5" r="1.35"/>
<circle cx="178.7" cy="550.9" r="1.35"/>
<circle cx="177.0" cy="553.0" r="1.35"/>
<circle cx="174.8" cy="534.9" r="1.35"/>
<circle cx="218.7" cy="495.3" r="1.35"/>
<circle cx="169.6" cy="564.2" r="1.35"/>
<circle cx="187.5" cy="520.1" r="1.35"/>
<circle cx="196.8" cy="538.2" r="1.35"/>
<circle cx="184.6" cy="548.7" r="1.35"/>
<circle cx="205.1" cy="527.3" r="1.35"/>
<circle cx="186.0" cy="536.0" r="1.35"/>
<circle cx="194.7" cy="468.1" r="1.35"/>
<circle cx="206.9" cy="505.0" r="1.35"/>
<circle cx="196.7" cy="529.5" r="1.35"/>
<circle cx="175.3" cy="559.9" r="1.35"/>
<circle cx="185.6" cy="548.0" r="1.35"/>
<circle cx="205.2" cy="531.7" r="1.35"/>
<circle cx="180.7" cy="556.2" r="1.35"/>
<circle cx="175.5" cy="539.9" r="1.35"/>
<circle cx="172.0" cy="561.9" r="1.35"/>
<circle cx="243.7" cy="483.6" r="1.35"/>
<circle cx="225.2" cy="506.4" r="1.35"/>
<circle cx="184.9" cy="480.1" r="1.35"/>
<circle cx="219.1" cy="492.3" r="1.35"/>
<circle cx="181.0" cy="542.0" r="1.35"/>
<circle cx="185.5" cy="525.7" r="1.35"/>
<circle cx="186.1" cy="519.6" r="1.35"/>
<circle cx="192.6" cy="520.6" r="1.35"/>
<circle cx="177.8" cy="552.6" r="1.35"/>
<circle cx="198.2" cy="522.3" r="1.35"/>
<circle cx="194.1" cy="495.3" r="1.35"/>
<circle cx="200.2" cy="543.2" r="1.35"/>
<circle cx="169.1" cy="563.7" r="1.35"/>
<circle cx="199.8" cy="546.7" r="1.35"/>
<circle cx="197.0" cy="529.0" r="1.35"/>
<circle cx="179.0" cy="555.6" r="1.35"/>
<circle cx="181.0" cy="544.2" r="1.35"/>
<circle cx="182.1" cy="553.8" r="1.35"/>
<circle cx="195.2" cy="526.9" r="1.35"/>
<circle cx="213.2" cy="507.7" r="1.35"/>
<circle cx="195.8" cy="431.9" r="1.35"/>
<circle cx="176.9" cy="558.8" r="1.35"/>
<circle cx="203.6" cy="525.9" r="1.35"/>
<circle cx="187.3" cy="543.7" r="1.35"/>
<circle cx="196.4" cy="523.0" r="1.35"/>
<circle cx="217.2" cy="450.0" r="1.35"/>
<circle cx="181.2" cy="531.7" r="1.35"/>
<circle cx="171.0" cy="562.3" r="1.35"/>
<circle cx="217.4" cy="513.7" r="1.35"/>
<circle cx="191.6" cy="532.1" r="1.35"/>
<circle cx="212.0" cy="480.9" r="1.35"/>
<circle cx="197.2" cy="436.7" r="1.35"/>
<circle cx="190.5" cy="538.3" r="1.35"/>
<circle cx="189.1" cy="505.3" r="1.35"/>
<circle cx="214.9" cy="526.6" r="1.35"/>
<circle cx="182.9" cy="550.6" r="1.35"/>
<circle cx="196.0" cy="550.7" r="1.35"/>
<circle cx="208.6" cy="522.4" r="1.35"/>
<circle cx="211.5" cy="526.9" r="1.35"/>
<circle cx="177.9" cy="551.4" r="1.35"/>
<circle cx="195.6" cy="527.2" r="1.35"/>
<circle cx="204.8" cy="543.9" r="1.35"/>
<circle cx="174.0" cy="560.3" r="1.35"/>
<circle cx="179.8" cy="517.7" r="1.35"/>
<circle cx="180.0" cy="546.0" r="1.35"/>
<circle cx="204.0" cy="449.2" r="1.35"/>
<circle cx="231.6" cy="523.3" r="1.35"/>
<circle cx="187.6" cy="554.3" r="1.35"/>
<circle cx="226.4" cy="490.0" r="1.35"/>
<circle cx="193.9" cy="529.4" r="1.35"/>
<circle cx="186.7" cy="555.1" r="1.35"/>
<circle cx="225.2" cy="460.3" r="1.35"/>
<circle cx="191.7" cy="536.5" r="1.35"/>
<circle cx="210.3" cy="538.1" r="1.35"/>
<circle cx="190.2" cy="551.6" r="1.35"/>
<circle cx="192.7" cy="535.9" r="1.35"/>
<circle cx="173.1" cy="562.2" r="1.35"/>
<circle cx="181.3" cy="548.2" r="1.35"/>
<circle cx="189.8" cy="521.7" r="1.35"/>
<circle cx="187.8" cy="545.0" r="1.35"/>
<circle cx="196.7" cy="533.4" r="1.35"/>
<circle cx="174.0" cy="557.0" r="1.35"/>
<circle cx="188.8" cy="553.1" r="1.35"/>
<circle cx="225.3" cy="526.4" r="1.35"/>
<circle cx="195.9" cy="541.6" r="1.35"/>
<circle cx="177.8" cy="560.0" r="1.35"/>
<circle cx="188.2" cy="547.4" r="1.35"/>
<circle cx="200.4" cy="520.2" r="1.35"/>
<circle cx="180.8" cy="537.3" r="1.35"/>
<circle cx="259.1" cy="463.0" r="1.35"/>
<circle cx="199.3" cy="521.0" r="1.35"/>
<circle cx="216.3" cy="531.1" r="1.35"/>
<circle cx="173.4" cy="545.3" r="1.35"/>
<circle cx="200.6" cy="519.6" r="1.35"/>
<circle cx="206.5" cy="466.3" r="1.35"/>
<circle cx="207.4" cy="456.3" r="1.35"/>
<circle cx="195.2" cy="536.1" r="1.35"/>
<circle cx="180.1" cy="553.5" r="1.35"/>
<circle cx="170.1" cy="563.6" r="1.35"/>
<circle cx="207.4" cy="491.2" r="1.35"/>
<circle cx="202.1" cy="508.1" r="1.35"/>
<circle cx="181.4" cy="552.5" r="1.35"/>
<circle cx="189.9" cy="549.2" r="1.35"/>
<circle cx="178.4" cy="554.5" r="1.35"/>
<circle cx="190.9" cy="446.7" r="1.35"/>
<circle cx="191.2" cy="512.4" r="1.35"/>
<circle cx="233.4" cy="495.6" r="1.35"/>
<circle cx="188.7" cy="548.0" r="1.35"/>
<circle cx="234.4" cy="519.0" r="1.35"/>
<circle cx="218.6" cy="421.9" r="1.35"/>
<circle cx="178.2" cy="523.1" r="1.35"/>
<circle cx="191.6" cy="537.8" r="1.35"/>
<circle cx="172.9" cy="561.5" r="1.35"/>
<circle cx="181.0" cy="542.5" r="1.35"/>
<circle cx="188.7" cy="497.5" r="1.35"/>
<circle cx="186.0" cy="528.0" r="1.35"/>
<circle cx="169.3" cy="562.9" r="1.35"/>
<circle cx="188.6" cy="534.1" r="1.35"/>
<circle cx="238.3" cy="500.2" r="1.35"/>
<circle cx="173.1" cy="559.6" r="1.35"/>
<circle cx="204.7" cy="541.9" r="1.35"/>
<circle cx="202.6" cy="540.5" r="1.35"/>
<circle cx="189.0" cy="533.6" r="1.35"/>
<circle cx="170.6" cy="559.9" r="1.35"/>
<circle cx="178.1" cy="557.6" r="1.35"/>
<circle cx="172.5" cy="555.6" r="1.35"/>
<circle cx="179.4" cy="537.4" r="1.35"/>
<circle cx="203.3" cy="427.6" r="1.35"/>
<circle cx="171.7" cy="562.8" r="1.35"/>
<circle cx="184.2" cy="536.5" r="1.35"/>
<circle cx="190.2" cy="476.0" r="1.35"/>
<circle cx="215.9" cy="531.1" r="1.35"/>
<circle cx="173.2" cy="539.1" r="1.35"/>
<circle cx="231.4" cy="495.1" r="1.35"/>
<circle cx="210.6" cy="442.1" r="1.35"/>
<circle cx="183.8" cy="555.0" r="1.35"/>
<circle cx="169.9" cy="564.3" r="1.35"/>
<circle cx="191.0" cy="526.6" r="1.35"/>
<circle cx="201.2" cy="519.8" r="1.35"/>
<circle cx="193.2" cy="524.7" r="1.35"/>
<circle cx="183.6" cy="555.0" r="1.35"/>
<circle cx="218.6" cy="485.7" r="1.35"/>
<circle cx="243.3" cy="516.7" r="1.35"/>
<circle cx="179.6" cy="554.8" r="1.35"/>
<circle cx="199.7" cy="536.9" r="1.35"/>
<circle cx="178.8" cy="512.3" r="1.35"/>
<circle cx="184.1" cy="532.8" r="1.35"/>
<circle cx="229.4" cy="518.1" r="1.35"/>
<circle cx="245.3" cy="445.8" r="1.35"/>
<circle cx="178.7" cy="555.0" r="1.35"/>
<circle cx="209.6" cy="522.1" r="1.35"/>
<circle cx="179.5" cy="547.8" r="1.35"/>
<circle cx="208.6" cy="432.9" r="1.35"/>
<circle cx="179.3" cy="554.0" r="1.35"/>
<circle cx="177.7" cy="553.6" r="1.35"/>
<circle cx="178.9" cy="548.0" r="1.35"/>
<circle cx="169.3" cy="564.5" r="1.35"/>
<circle cx="210.8" cy="464.5" r="1.35"/>
<circle cx="170.3" cy="559.9" r="1.35"/>
<circle cx="189.7" cy="514.3" r="1.35"/>
<circle cx="206.9" cy="498.9" r="1.35"/>
<circle cx="173.1" cy="543.1" r="1.35"/>
<circle cx="225.7" cy="526.2" r="1.35"/>
<circle cx="193.0" cy="544.5" r="1.35"/>
<circle cx="230.9" cy="483.1" r="1.35"/>
<circle cx="175.0" cy="558.6" r="1.35"/>
<circle cx="173.8" cy="558.9" r="1.35"/>
<circle cx="228.3" cy="483.7" r="1.35"/>
<circle cx="217.2" cy="514.6" r="1.35"/>
<circle cx="198.9" cy="506.2" r="1.35"/>
<circle cx="186.4" cy="527.6" r="1.35"/>
<circle cx="254.3" cy="472.3" r="1.35"/>
<circle cx="230.6" cy="454.0" r="1.35"/>
<circle cx="199.0" cy="546.8" r="1.35"/>
<circle cx="190.7" cy="524.9" r="1.35"/>
<circle cx="181.6" cy="556.8" r="1.35"/>
<circle cx="179.5" cy="558.0" r="1.35"/>
<circle cx="198.3" cy="536.0" r="1.35"/>
<circle cx="190.8" cy="496.5" r="1.35"/>
<circle cx="169.3" cy="564.8" r="1.35"/>
<circle cx="207.0" cy="524.1" r="1.35"/>
<circle cx="177.8" cy="555.3" r="1.35"/>
<circle cx="184.3" cy="555.8" r="1.35"/>
<circle cx="198.2" cy="496.1" r="1.35"/>
<circle cx="199.1" cy="474.7" r="1.35"/>
<circle cx="182.7" cy="541.9" r="1.35"/>
<circle cx="256.7" cy="488.8" r="1.35"/>
<circle cx="171.9" cy="561.4" r="1.35"/>
<circle cx="214.1" cy="462.9" r="1.35"/>
<circle cx="184.2" cy="527.5" r="1.35"/>
<circle cx="218.0" cy="472.5" r="1.35"/>
<circle cx="216.6" cy="479.6" r="1.35"/>
<circle cx="194.0" cy="522.3" r="1.35"/>
<circle cx="185.6" cy="530.8" r="1.35"/>
<circle cx="194.4" cy="531.1" r="1.35"/>
<circle cx="191.7" cy="535.1" r="1.35"/>
<circle cx="175.0" cy="562.2" r="1.35"/>
<circle cx="183.4" cy="552.1" r="1.35"/>
<circle cx="202.4" cy="517.6" r="1.35"/>
<circle cx="204.6" cy="444.7" r="1.35"/>
<circle cx="189.4" cy="539.5" r="1.35"/>
<circle cx="187.4" cy="540.9" r="1.35"/>
<circle cx="227.6" cy="506.2" r="1.35"/>
<circle cx="203.1" cy="513.0" r="1.35"/>
<circle cx="185.7" cy="509.1" r="1.35"/>
<circle cx="208.7" cy="503.7" r="1.35"/>
<circle cx="224.9" cy="477.9" r="1.35"/>
<circle cx="200.0" cy="531.7" r="1.35"/>
<circle cx="213.1" cy="541.8" r="1.35"/>
<circle cx="203.7" cy="540.5" r="1.35"/>
<circle cx="211.7" cy="497.6" r="1.35"/>
<circle cx="194.3" cy="494.6" r="1.35"/>
<circle cx="180.1" cy="558.4" r="1.35"/>
<circle cx="178.3" cy="558.4" r="1.35"/>
<circle cx="213.0" cy="482.4" r="1.35"/>
<circle cx="173.8" cy="562.9" r="1.35"/>
<circle cx="188.9" cy="541.4" r="1.35"/>
<circle cx="172.5" cy="561.8" r="1.35"/>
<circle cx="205.8" cy="523.8" r="1.35"/>
<circle cx="183.2" cy="558.8" r="1.35"/>
<circle cx="222.1" cy="422.0" r="1.35"/>
<circle cx="174.1" cy="559.1" r="1.35"/>
<circle cx="226.9" cy="456.0" r="1.35"/>
<circle cx="200.7" cy="536.7" r="1.35"/>
<circle cx="245.1" cy="485.5" r="1.35"/>
<circle cx="177.5" cy="560.2" r="1.35"/>
<circle cx="218.1" cy="492.1" r="1.35"/>
<circle cx="175.6" cy="552.5" r="1.35"/>
<circle cx="178.9" cy="550.1" r="1.35"/>
<circle cx="173.3" cy="560.7" r="1.35"/>
<circle cx="191.0" cy="536.8" r="1.35"/>
<circle cx="178.7" cy="537.8" r="1.35"/>
<circle cx="209.4" cy="527.3" r="1.35"/>
<circle cx="205.1" cy="535.5" r="1.35"/>
<circle cx="171.8" cy="562.7" r="1.35"/>
<circle cx="199.4" cy="549.3" r="1.35"/>
<circle cx="245.2" cy="505.2" r="1.35"/>
<circle cx="208.1" cy="529.7" r="1.35"/>
<circle cx="207.1" cy="526.1" r="1.35"/>
<circle cx="211.5" cy="506.5" r="1.35"/>
<circle cx="222.3" cy="527.2" r="1.35"/>
<circle cx="181.5" cy="551.4" r="1.35"/>
<circle cx="220.9" cy="479.8" r="1.35"/>
<circle cx="174.8" cy="551.7" r="1.35"/>
<circle cx="194.9" cy="552.3" r="1.35"/>
<circle cx="244.9" cy="470.9" r="1.35"/>
<circle cx="195.0" cy="549.9" r="1.35"/>
<circle cx="216.3" cy="518.6" r="1.35"/>
<circle cx="176.5" cy="560.5" r="1.35"/>
<circle cx="174.9" cy="560.0" r="1.35"/>
<circle cx="207.1" cy="508.8" r="1.35"/>
<circle cx="233.0" cy="443.3" r="1.35"/>
<circle cx="176.5" cy="556.6" r="1.35"/>
<circle cx="210.8" cy="513.8" r="1.35"/>
<circle cx="185.6" cy="515.5" r="1.35"/>
<circle cx="185.2" cy="552.9" r="1.35"/>
<circle cx="171.1" cy="560.9" r="1.35"/>
<circle cx="178.2" cy="553.9" r="1.35"/>
<circle cx="204.1" cy="514.3" r="1.35"/>
<circle cx="178.3" cy="552.8" r="1.35"/>
<circle cx="183.8" cy="551.2" r="1.35"/>
<circle cx="206.7" cy="471.0" r="1.35"/>
<circle cx="208.2" cy="483.6" r="1.35"/>
<circle cx="192.0" cy="526.6" r="1.35"/>
<circle cx="231.9" cy="503.9" r="1.35"/>
<circle cx="170.5" cy="563.0" r="1.35"/>
<circle cx="173.2" cy="554.6" r="1.35"/>
<circle cx="170.3" cy="564.0" r="1.35"/>
<circle cx="173.8" cy="559.5" r="1.35"/>
<circle cx="230.1" cy="525.8" r="1.35"/>
<circle cx="185.4" cy="557.0" r="1.35"/>
<circle cx="176.3" cy="555.6" r="1.35"/>
<circle cx="172.6" cy="562.3" r="1.35"/>
<circle cx="202.0" cy="452.9" r="1.35"/>
<circle cx="183.5" cy="483.3" r="1.35"/>
<circle cx="212.6" cy="423.2" r="1.35"/>
<circle cx="181.5" cy="553.7" r="1.35"/>
<circle cx="193.6" cy="491.8" r="1.35"/>
<circle cx="208.7" cy="487.7" r="1.35"/>
<circle cx="176.7" cy="557.4" r="1.35"/>
<circle cx="209.5" cy="444.6" r="1.35"/>
<circle cx="172.2" cy="557.7" r="1.35"/>
<circle cx="177.9" cy="519.2" r="1.35"/>
<circle cx="216.5" cy="530.6" r="1.35"/>
<circle cx="232.7" cy="458.2" r="1.35"/>
<circle cx="180.0" cy="555.0" r="1.35"/>
<circle cx="255.1" cy="422.4" r="1.35"/>
<circle cx="192.5" cy="545.7" r="1.35"/>
<circle cx="261.5" cy="493.6" r="1.35"/>
<circle cx="173.9" cy="560.5" r="1.35"/>
<circle cx="194.8" cy="516.1" r="1.35"/>
<circle cx="194.9" cy="527.7" r="1.35"/>
<circle cx="188.7" cy="470.8" r="1.35"/>
<circle cx="210.9" cy="541.5" r="1.35"/>
<circle cx="169.9" cy="558.7" r="1.35"/>
<circle cx="176.1" cy="556.6" r="1.35"/>
<circle cx="199.9" cy="522.8" r="1.35"/>
<circle cx="183.0" cy="553.3" r="1.35"/>
<circle cx="178.6" cy="556.8" r="1.35"/>
<circle cx="178.3" cy="560.5" r="1.35"/>
<circle cx="174.2" cy="562.1" r="1.35"/>
<circle cx="205.2" cy="496.7" r="1.35"/>
<circle cx="248.6" cy="499.1" r="1.35"/>
<circle cx="179.2" cy="560.6" r="1.35"/>
<circle cx="183.9" cy="526.0" r="1.35"/>
<circle cx="213.9" cy="475.9" r="1.35"/>
<circle cx="209.5" cy="505.5" r="1.35"/>
<circle cx="177.5" cy="560.5" r="1.35"/>
<circle cx="172.5" cy="561.9" r="1.35"/>
<circle cx="199.0" cy="503.9" r="1.35"/>
<circle cx="177.2" cy="543.2" r="1.35"/>
<circle cx="191.0" cy="539.2" r="1.35"/>
<circle cx="191.6" cy="490.5" r="1.35"/>
<circle cx="231.5" cy="492.9" r="1.35"/>
<circle cx="202.2" cy="468.8" r="1.35"/>
<circle cx="181.0" cy="537.6" r="1.35"/>
<circle cx="210.2" cy="536.6" r="1.35"/>
<circle cx="256.4" cy="507.5" r="1.35"/>
<circle cx="174.8" cy="555.8" r="1.35"/>
<circle cx="183.5" cy="494.9" r="1.35"/>
<circle cx="211.8" cy="517.4" r="1.35"/>
<circle cx="181.5" cy="547.5" r="1.35"/>
<circle cx="189.0" cy="545.8" r="1.35"/>
<circle cx="180.6" cy="524.0" r="1.35"/>
<circle cx="222.3" cy="504.0" r="1.35"/>
<circle cx="202.1" cy="534.3" r="1.35"/>
<circle cx="197.8" cy="551.9" r="1.35"/>
<circle cx="183.9" cy="558.3" r="1.35"/>
<circle cx="197.2" cy="474.9" r="1.35"/>
<circle cx="181.0" cy="556.0" r="1.35"/>
<circle cx="208.3" cy="536.1" r="1.35"/>
<circle cx="193.1" cy="531.7" r="1.35"/>
<circle cx="208.0" cy="477.4" r="1.35"/>
<circle cx="186.7" cy="544.1" r="1.35"/>
<circle cx="177.3" cy="554.9" r="1.35"/>
<circle cx="185.2" cy="539.2" r="1.35"/>
<circle cx="180.4" cy="549.5" r="1.35"/>
<circle cx="205.9" cy="496.1" r="1.35"/>
<circle cx="187.6" cy="516.2" r="1.35"/>
<circle cx="190.9" cy="522.0" r="1.35"/>
<circle cx="171.2" cy="563.7" r="1.35"/>
<circle cx="203.8" cy="523.9" r="1.35"/>
<circle cx="220.7" cy="420.7" r="1.35"/>
<circle cx="189.1" cy="508.4" r="1.35"/>
<circle cx="188.2" cy="536.0" r="1.35"/>
<circle cx="231.3" cy="501.2" r="1.35"/>
<circle cx="203.0" cy="511.6" r="1.35"/>
<circle cx="191.4" cy="538.1" r="1.35"/>
<circle cx="185.2" cy="549.5" r="1.35"/>
<circle cx="177.4" cy="555.8" r="1.35"/>
<circle cx="213.3" cy="509.9" r="1.35"/>
<circle cx="190.3" cy="527.5" r="1.35"/>
<circle cx="190.5" cy="546.6" r="1.35"/>
<circle cx="199.3" cy="537.5" r="1.35"/>
<circle cx="221.0" cy="477.1" r="1.35"/>
<circle cx="234.3" cy="514.1" r="1.35"/>
<circle cx="170.4" cy="562.9" r="1.35"/>
<circle cx="181.7" cy="554.2" r="1.35"/>
<circle cx="195.4" cy="479.6" r="1.35"/>
<circle cx="170.8" cy="562.6" r="1.35"/>
<circle cx="183.0" cy="551.8" r="1.35"/>
<circle cx="173.8" cy="551.1" r="1.35"/>
<circle cx="191.4" cy="536.4" r="1.35"/>
<circle cx="169.3" cy="564.6" r="1.35"/>
<circle cx="192.4" cy="538.8" r="1.35"/>
<circle cx="193.0" cy="542.1" r="1.35"/>
<circle cx="194.4" cy="541.3" r="1.35"/>
<circle cx="169.6" cy="564.3" r="1.35"/>
<circle cx="190.8" cy="537.7" r="1.35"/>
<circle cx="180.3" cy="554.9" r="1.35"/>
<circle cx="206.2" cy="546.6" r="1.35"/>
<circle cx="184.1" cy="488.7" r="1.35"/>
<circle cx="251.8" cy="482.6" r="1.35"/>
<circle cx="189.2" cy="546.0" r="1.35"/>
<circle cx="196.6" cy="522.4" r="1.35"/>
<circle cx="204.3" cy="501.4" r="1.35"/>
<circle cx="213.4" cy="450.7" r="1.35"/>
<circle cx="171.4" cy="562.3" r="1.35"/>
<circle cx="269.6" cy="437.9" r="1.35"/>
<circle cx="278.1" cy="499.7" r="1.35"/>
<circle cx="173.8" cy="561.3" r="1.35"/>
<circle cx="200.2" cy="505.3" r="1.35"/>
<circle cx="205.8" cy="508.6" r="1.35"/>
<circle cx="200.5" cy="460.2" r="1.35"/>
<circle cx="182.4" cy="553.5" r="1.35"/>
<circle cx="242.3" cy="442.7" r="1.35"/>
<circle cx="192.0" cy="512.7" r="1.35"/>
<circle cx="174.9" cy="558.2" r="1.35"/>
<circle cx="173.4" cy="556.8" r="1.35"/>
<circle cx="211.8" cy="465.5" r="1.35"/>
<circle cx="263.7" cy="440.8" r="1.35"/>
<circle cx="198.0" cy="498.0" r="1.35"/>
<circle cx="183.2" cy="545.1" r="1.35"/>
<circle cx="249.6" cy="500.1" r="1.35"/>
<circle cx="201.3" cy="512.5" r="1.35"/>
<circle cx="185.7" cy="552.7" r="1.35"/>
<circle cx="177.9" cy="549.3" r="1.35"/>
<circle cx="187.6" cy="551.5" r="1.35"/>
<circle cx="223.5" cy="457.3" r="1.35"/>
<circle cx="221.0" cy="524.1" r="1.35"/>
<circle cx="210.5" cy="484.4" r="1.35"/>
<circle cx="169.8" cy="564.6" r="1.35"/>
<circle cx="182.0" cy="540.5" r="1.35"/>
<circle cx="225.4" cy="509.6" r="1.35"/>
<circle cx="202.2" cy="537.1" r="1.35"/>
<circle cx="238.8" cy="504.5" r="1.35"/>
<circle cx="195.4" cy="552.8" r="1.35"/>
<circle cx="189.1" cy="515.5" r="1.35"/>
<circle cx="172.5" cy="561.3" r="1.35"/>
<circle cx="202.4" cy="509.3" r="1.35"/>
<circle cx="172.4" cy="559.4" r="1.35"/>
<circle cx="177.9" cy="559.1" r="1.35"/>
<circle cx="228.1" cy="510.4" r="1.35"/>
<circle cx="260.8" cy="484.0" r="1.35"/>
<circle cx="189.2" cy="530.3" r="1.35"/>
<circle cx="216.2" cy="450.7" r="1.35"/>
<circle cx="205.5" cy="480.8" r="1.35"/>
<circle cx="172.7" cy="562.3" r="1.35"/>
<circle cx="223.1" cy="481.5" r="1.35"/>
<circle cx="183.1" cy="557.9" r="1.35"/>
<circle cx="190.0" cy="523.4" r="1.35"/>
<circle cx="244.2" cy="488.4" r="1.35"/>
<circle cx="195.4" cy="488.8" r="1.35"/>
<circle cx="190.0" cy="519.7" r="1.35"/>
<circle cx="238.1" cy="455.0" r="1.35"/>
<circle cx="213.7" cy="489.7" r="1.35"/>
<circle cx="205.6" cy="449.2" r="1.35"/>
<circle cx="209.1" cy="471.2" r="1.35"/>
<circle cx="185.7" cy="533.5" r="1.35"/>
<circle cx="188.9" cy="525.4" r="1.35"/>
<circle cx="176.3" cy="553.8" r="1.35"/>
<circle cx="186.2" cy="541.2" r="1.35"/>
<circle cx="220.5" cy="532.3" r="1.35"/>
<circle cx="169.5" cy="562.7" r="1.35"/>
<circle cx="175.1" cy="555.5" r="1.35"/>
<circle cx="176.0" cy="557.7" r="1.35"/>
<circle cx="175.0" cy="531.8" r="1.35"/>
<circle cx="192.9" cy="521.2" r="1.35"/>
<circle cx="207.0" cy="526.0" r="1.35"/>
<circle cx="175.8" cy="555.1" r="1.35"/>
<circle cx="180.8" cy="559.3" r="1.35"/>
<circle cx="177.5" cy="558.9" r="1.35"/>
<circle cx="217.9" cy="451.5" r="1.35"/>
<circle cx="190.7" cy="549.9" r="1.35"/>
<circle cx="211.6" cy="505.7" r="1.35"/>
<circle cx="185.2" cy="535.1" r="1.35"/>
<circle cx="224.8" cy="508.1" r="1.35"/>
<circle cx="224.6" cy="507.4" r="1.35"/>
<circle cx="248.7" cy="495.2" r="1.35"/>
<circle cx="177.3" cy="559.8" r="1.35"/>
<circle cx="194.3" cy="511.7" r="1.35"/>
<circle cx="203.8" cy="490.7" r="1.35"/>
<circle cx="181.0" cy="510.3" r="1.35"/>
<circle cx="185.8" cy="536.2" r="1.35"/>
<circle cx="174.9" cy="552.9" r="1.35"/>
<circle cx="205.1" cy="457.6" r="1.35"/>
<circle cx="181.8" cy="553.6" r="1.35"/>
<circle cx="237.0" cy="518.6" r="1.35"/>
<circle cx="193.4" cy="442.0" r="1.35"/>
<circle cx="213.3" cy="527.0" r="1.35"/>
<circle cx="234.6" cy="504.2" r="1.35"/>
<circle cx="219.7" cy="514.6" r="1.35"/>
<circle cx="182.6" cy="550.0" r="1.35"/>
<circle cx="180.0" cy="545.5" r="1.35"/>
<circle cx="219.9" cy="464.4" r="1.35"/>
<circle cx="206.7" cy="470.3" r="1.35"/>
<circle cx="206.8" cy="527.9" r="1.35"/>
<circle cx="168.9" cy="564.1" r="1.35"/>
<circle cx="202.3" cy="477.5" r="1.35"/>
<circle cx="184.7" cy="551.6" r="1.35"/>
<circle cx="192.3" cy="516.6" r="1.35"/>
<circle cx="199.6" cy="504.6" r="1.35"/>
<circle cx="169.4" cy="563.4" r="1.35"/>
<circle cx="187.9" cy="555.4" r="1.35"/>
<circle cx="218.4" cy="514.0" r="1.35"/>
<circle cx="208.9" cy="522.0" r="1.35"/>
<circle cx="176.2" cy="559.6" r="1.35"/>
<circle cx="214.5" cy="523.5" r="1.35"/>
<circle cx="169.0" cy="564.8" r="1.35"/>
<circle cx="204.5" cy="491.1" r="1.35"/>
<circle cx="190.7" cy="530.0" r="1.35"/>
<circle cx="177.8" cy="554.1" r="1.35"/>
<circle cx="238.4" cy="530.1" r="1.35"/>
<circle cx="200.1" cy="513.9" r="1.35"/>
<circle cx="195.5" cy="550.2" r="1.35"/>
<circle cx="201.8" cy="493.6" r="1.35"/>
<circle cx="190.2" cy="550.7" r="1.35"/>
<circle cx="184.3" cy="557.7" r="1.35"/>
<circle cx="181.6" cy="548.6" r="1.35"/>
<circle cx="182.3" cy="536.8" r="1.35"/>
<circle cx="195.7" cy="539.1" r="1.35"/>
<circle cx="202.6" cy="510.3" r="1.35"/>
<circle cx="189.6" cy="551.9" r="1.35"/>
<circle cx="201.3" cy="495.9" r="1.35"/>
<circle cx="193.7" cy="543.9" r="1.35"/>
<circle cx="171.5" cy="560.2" r="1.35"/>
<circle cx="178.3" cy="549.9" r="1.35"/>
<circle cx="225.6" cy="526.1" r="1.35"/>
<circle cx="193.0" cy="454.2" r="1.35"/>
<circle cx="169.7" cy="563.1" r="1.35"/>
<circle cx="190.9" cy="536.4" r="1.35"/>
<circle cx="180.3" cy="559.0" r="1.35"/>
<circle cx="209.6" cy="502.1" r="1.35"/>
<circle cx="204.8" cy="534.1" r="1.35"/>
<circle cx="201.1" cy="439.3" r="1.35"/>
<circle cx="183.2" cy="558.9" r="1.35"/>
<circle cx="204.8" cy="520.0" r="1.35"/>
<circle cx="170.9" cy="556.0" r="1.35"/>
<circle cx="169.0" cy="564.5" r="1.35"/>
<circle cx="171.0" cy="555.6" r="1.35"/>
<circle cx="229.4" cy="507.2" r="1.35"/>
<circle cx="178.9" cy="506.1" r="1.35"/>
<circle cx="183.6" cy="538.1" r="1.35"/>
<circle cx="175.0" cy="557.1" r="1.35"/>
<circle cx="182.6" cy="545.1" r="1.35"/>
<circle cx="177.2" cy="542.7" r="1.35"/>
<circle cx="174.9" cy="558.8" r="1.35"/>
<circle cx="182.0" cy="532.0" r="1.35"/>
<circle cx="194.3" cy="506.5" r="1.35"/>
<circle cx="184.5" cy="548.1" r="1.35"/>
<circle cx="209.3" cy="428.3" r="1.35"/>
<circle cx="203.6" cy="534.5" r="1.35"/>
<circle cx="189.0" cy="539.6" r="1.35"/>
<circle cx="202.8" cy="492.0" r="1.35"/>
<circle cx="206.7" cy="528.8" r="1.35"/>
<circle cx="201.4" cy="487.8" r="1.35"/>
<circle cx="204.8" cy="521.1" r="1.35"/>
<circle cx="213.5" cy="452.8" r="1.35"/>
<circle cx="186.2" cy="550.0" r="1.35"/>
<circle cx="169.4" cy="564.3" r="1.35"/>
<circle cx="207.4" cy="537.6" r="1.35"/>
<circle cx="201.7" cy="545.5" r="1.35"/>
<circle cx="197.2" cy="547.5" r="1.35"/>
<circle cx="180.7" cy="555.0" r="1.35"/>
<circle cx="197.0" cy="545.2" r="1.35"/>
<circle cx="255.7" cy="478.2" r="1.35"/>
<circle cx="198.2" cy="520.3" r="1.35"/>
<circle cx="174.7" cy="551.5" r="1.35"/>
<circle cx="191.6" cy="533.5" r="1.35"/>
<circle cx="186.5" cy="529.5" r="1.35"/>
<circle cx="189.9" cy="510.8" r="1.35"/>
<circle cx="177.3" cy="546.4" r="1.35"/>
<circle cx="192.9" cy="546.3" r="1.35"/>
<circle cx="187.4" cy="537.9" r="1.35"/>
<circle cx="189.0" cy="546.6" r="1.35"/>
<circle cx="190.7" cy="546.4" r="1.35"/>
<circle cx="175.4" cy="561.3" r="1.35"/>
<circle cx="198.1" cy="463.4" r="1.35"/>
<circle cx="171.0" cy="563.9" r="1.35"/>
<circle cx="192.7" cy="521.9" r="1.35"/>
<circle cx="241.6" cy="478.7" r="1.35"/>
<circle cx="184.0" cy="552.3" r="1.35"/>
<circle cx="189.2" cy="539.7" r="1.35"/>
<circle cx="179.3" cy="553.8" r="1.35"/>
<circle cx="236.2" cy="469.3" r="1.35"/>
<circle cx="247.2" cy="461.9" r="1.35"/>
<circle cx="259.2" cy="502.6" r="1.35"/>
<circle cx="194.2" cy="536.6" r="1.35"/>
<circle cx="195.5" cy="497.4" r="1.35"/>
<circle cx="297.1" cy="451.1" r="1.35"/>
<circle cx="203.4" cy="502.6" r="1.35"/>
<circle cx="217.7" cy="463.3" r="1.35"/>
<circle cx="218.7" cy="519.1" r="1.35"/>
<circle cx="195.3" cy="538.8" r="1.35"/>
<circle cx="192.4" cy="546.6" r="1.35"/>
<circle cx="170.1" cy="563.7" r="1.35"/>
<circle cx="179.0" cy="553.1" r="1.35"/>
<circle cx="222.4" cy="501.0" r="1.35"/>
<circle cx="206.4" cy="537.5" r="1.35"/>
<circle cx="193.6" cy="553.7" r="1.35"/>
<circle cx="213.1" cy="536.5" r="1.35"/>
<circle cx="193.8" cy="550.8" r="1.35"/>
<circle cx="184.8" cy="552.6" r="1.35"/>
<circle cx="203.2" cy="529.9" r="1.35"/>
<circle cx="232.2" cy="455.1" r="1.35"/>
<circle cx="192.4" cy="530.9" r="1.35"/>
<circle cx="203.4" cy="534.2" r="1.35"/>
<circle cx="209.6" cy="536.9" r="1.35"/>
<circle cx="200.5" cy="484.1" r="1.35"/>
<circle cx="212.5" cy="514.3" r="1.35"/>
<circle cx="184.2" cy="537.3" r="1.35"/>
<circle cx="205.0" cy="456.7" r="1.35"/>
<circle cx="201.6" cy="550.1" r="1.35"/>
<circle cx="197.8" cy="546.0" r="1.35"/>
<circle cx="174.1" cy="556.4" r="1.35"/>
<circle cx="194.7" cy="551.2" r="1.35"/>
<circle cx="180.1" cy="556.4" r="1.35"/>
<circle cx="225.9" cy="521.5" r="1.35"/>
<circle cx="177.8" cy="555.6" r="1.35"/>
<circle cx="229.6" cy="497.1" r="1.35"/>
<circle cx="190.1" cy="546.9" r="1.35"/>
<circle cx="183.3" cy="553.7" r="1.35"/>
<circle cx="187.5" cy="540.5" r="1.35"/>
<circle cx="178.3" cy="556.4" r="1.35"/>
<circle cx="208.4" cy="447.9" r="1.35"/>
<circle cx="201.9" cy="526.3" r="1.35"/>
<circle cx="170.3" cy="560.7" r="1.35"/>
<circle cx="183.6" cy="533.5" r="1.35"/>
<circle cx="205.4" cy="538.9" r="1.35"/>
<circle cx="173.8" cy="559.7" r="1.35"/>
<circle cx="174.0" cy="559.3" r="1.35"/>
<circle cx="231.3" cy="512.1" r="1.35"/>
<circle cx="171.8" cy="563.3" r="1.35"/>
<circle cx="207.0" cy="502.6" r="1.35"/>
<circle cx="180.7" cy="549.4" r="1.35"/>
<circle cx="218.7" cy="465.7" r="1.35"/>
<circle cx="229.1" cy="495.4" r="1.35"/>
<circle cx="206.9" cy="477.5" r="1.35"/>
<circle cx="170.7" cy="559.6" r="1.35"/>
<circle cx="169.7" cy="559.8" r="1.35"/>
<circle cx="194.9" cy="458.4" r="1.35"/>
<circle cx="206.1" cy="539.5" r="1.35"/>
<circle cx="217.9" cy="523.2" r="1.35"/>
<circle cx="202.7" cy="508.0" r="1.35"/>
<circle cx="178.8" cy="554.0" r="1.35"/>
<circle cx="189.7" cy="542.3" r="1.35"/>
<circle cx="207.1" cy="482.0" r="1.35"/>
<circle cx="198.4" cy="542.7" r="1.35"/>
<circle cx="201.1" cy="498.4" r="1.35"/>
<circle cx="187.0" cy="552.8" r="1.35"/>
<circle cx="204.1" cy="541.2" r="1.35"/>
<circle cx="248.8" cy="416.6" r="1.35"/>
<circle cx="184.0" cy="552.7" r="1.35"/>
<circle cx="188.1" cy="512.6" r="1.35"/>
<circle cx="174.6" cy="559.5" r="1.35"/>
<circle cx="224.2" cy="513.7" r="1.35"/>
<circle cx="187.0" cy="550.8" r="1.35"/>
<circle cx="172.6" cy="556.5" r="1.35"/>
<circle cx="172.8" cy="560.5" r="1.35"/>
<circle cx="193.7" cy="491.9" r="1.35"/>
<circle cx="198.8" cy="495.1" r="1.35"/>
<circle cx="170.6" cy="562.1" r="1.35"/>
<circle cx="225.5" cy="469.9" r="1.35"/>
<circle cx="201.6" cy="466.3" r="1.35"/>
<circle cx="169.1" cy="564.8" r="1.35"/>
<circle cx="202.3" cy="526.3" r="1.35"/>
<circle cx="253.2" cy="467.9" r="1.35"/>
<circle cx="206.7" cy="525.2" r="1.35"/>
<circle cx="196.7" cy="525.3" r="1.35"/>
<circle cx="188.7" cy="550.2" r="1.35"/>
<circle cx="220.2" cy="476.4" r="1.35"/>
<circle cx="186.9" cy="546.6" r="1.35"/>
<circle cx="183.2" cy="558.8" r="1.35"/>
<circle cx="186.2" cy="518.0" r="1.35"/>
<circle cx="210.8" cy="463.9" r="1.35"/>
<circle cx="180.3" cy="530.9" r="1.35"/>
<circle cx="242.6" cy="481.0" r="1.35"/>
<circle cx="185.7" cy="555.1" r="1.35"/>
<circle cx="191.0" cy="523.9" r="1.35"/>
<circle cx="180.2" cy="549.4" r="1.35"/>
<circle cx="189.5" cy="544.4" r="1.35"/>
<circle cx="176.0" cy="543.5" r="1.35"/>
<circle cx="175.5" cy="557.5" r="1.35"/>
<circle cx="230.8" cy="490.5" r="1.35"/>
<circle cx="189.7" cy="517.3" r="1.35"/>
<circle cx="177.9" cy="545.3" r="1.35"/>
<circle cx="216.6" cy="535.2" r="1.35"/>
<circle cx="238.2" cy="463.6" r="1.35"/>
<circle cx="171.5" cy="562.9" r="1.35"/>
<circle cx="197.4" cy="522.0" r="1.35"/>
<circle cx="211.6" cy="515.4" r="1.35"/>
<circle cx="183.0" cy="542.6" r="1.35"/>
<circle cx="176.9" cy="519.2" r="1.35"/>
<circle cx="241.7" cy="465.4" r="1.35"/>
<circle cx="189.3" cy="490.5" r="1.35"/>
<circle cx="198.6" cy="534.0" r="1.35"/>
<circle cx="199.9" cy="507.6" r="1.35"/>
<circle cx="212.4" cy="511.9" r="1.35"/>
<circle cx="238.5" cy="419.5" r="1.35"/>
<circle cx="206.8" cy="528.2" r="1.35"/>
<circle cx="217.1" cy="511.2" r="1.35"/>
<circle cx="206.3" cy="518.2" r="1.35"/>
<circle cx="174.6" cy="549.3" r="1.35"/>
<circle cx="196.7" cy="517.0" r="1.35"/>
<circle cx="205.1" cy="521.8" r="1.35"/>
<circle cx="183.8" cy="552.6" r="1.35"/>
<circle cx="180.6" cy="541.0" r="1.35"/>
<circle cx="229.2" cy="500.2" r="1.35"/>
<circle cx="198.2" cy="514.9" r="1.35"/>
<circle cx="180.0" cy="541.3" r="1.35"/>
<circle cx="202.5" cy="526.2" r="1.35"/>
<circle cx="205.0" cy="521.8" r="1.35"/>
<circle cx="203.9" cy="531.1" r="1.35"/>
<circle cx="187.3" cy="545.8" r="1.35"/>
<circle cx="180.4" cy="543.8" r="1.35"/>
<circle cx="247.5" cy="506.3" r="1.35"/>
<circle cx="176.4" cy="560.6" r="1.35"/>
<circle cx="206.9" cy="529.8" r="1.35"/>
<circle cx="168.8" cy="565.1" r="1.35"/>
<circle cx="197.6" cy="516.5" r="1.35"/>
<circle cx="171.0" cy="555.2" r="1.35"/>
<circle cx="224.7" cy="519.4" r="1.35"/>
<circle cx="199.3" cy="520.0" r="1.35"/>
<circle cx="192.0" cy="510.8" r="1.35"/>
<circle cx="241.4" cy="515.0" r="1.35"/>
<circle cx="211.2" cy="449.7" r="1.35"/>
<circle cx="176.4" cy="556.2" r="1.35"/>
<circle cx="181.2" cy="538.4" r="1.35"/>
<circle cx="176.4" cy="554.5" r="1.35"/>
<circle cx="171.5" cy="563.5" r="1.35"/>
<circle cx="235.5" cy="508.8" r="1.35"/>
<circle cx="201.7" cy="514.1" r="1.35"/>
<circle cx="188.8" cy="536.4" r="1.35"/>
<circle cx="247.2" cy="469.6" r="1.35"/>
<circle cx="215.8" cy="469.4" r="1.35"/>
<circle cx="180.3" cy="546.2" r="1.35"/>
<circle cx="177.5" cy="557.2" r="1.35"/>
<circle cx="236.9" cy="495.1" r="1.35"/>
<circle cx="214.8" cy="445.3" r="1.35"/>
<circle cx="196.8" cy="548.5" r="1.35"/>
<circle cx="189.1" cy="544.0" r="1.35"/>
<circle cx="257.1" cy="468.4" r="1.35"/>
<circle cx="193.8" cy="546.3" r="1.35"/>
<circle cx="180.9" cy="549.7" r="1.35"/>
<circle cx="198.7" cy="543.5" r="1.35"/>
<circle cx="219.2" cy="435.9" r="1.35"/>
<circle cx="185.6" cy="530.9" r="1.35"/>
<circle cx="186.1" cy="548.6" r="1.35"/>
<circle cx="198.3" cy="512.0" r="1.35"/>
<circle cx="210.2" cy="522.3" r="1.35"/>
<circle cx="173.6" cy="557.8" r="1.35"/>
<circle cx="176.9" cy="557.7" r="1.35"/>
<circle cx="202.5" cy="510.7" r="1.35"/>
<circle cx="193.3" cy="526.6" r="1.35"/>
<circle cx="179.8" cy="559.8" r="1.35"/>
<circle cx="175.2" cy="554.1" r="1.35"/>
<circle cx="179.6" cy="559.3" r="1.35"/>
<circle cx="215.0" cy="512.0" r="1.35"/>
<circle cx="193.0" cy="514.3" r="1.35"/>
<circle cx="173.5" cy="559.7" r="1.35"/>
<circle cx="198.1" cy="482.1" r="1.35"/>
<circle cx="177.2" cy="553.0" r="1.35"/>
<circle cx="173.1" cy="559.7" r="1.35"/>
<circle cx="211.4" cy="535.6" r="1.35"/>
<circle cx="180.8" cy="551.6" r="1.35"/>
<circle cx="175.1" cy="557.6" r="1.35"/>
<circle cx="197.9" cy="536.5" r="1.35"/>
<circle cx="175.1" cy="559.7" r="1.35"/>
<circle cx="185.7" cy="543.9" r="1.35"/>
<circle cx="179.8" cy="522.5" r="1.35"/>
<circle cx="180.6" cy="552.7" r="1.35"/>
<circle cx="187.4" cy="476.6" r="1.35"/>
<circle cx="206.3" cy="528.5" r="1.35"/>
<circle cx="231.9" cy="485.2" r="1.35"/>
<circle cx="220.6" cy="512.4" r="1.35"/>
<circle cx="181.1" cy="533.4" r="1.35"/>
<circle cx="188.1" cy="548.9" r="1.35"/>
<circle cx="194.6" cy="550.1" r="1.35"/>
<circle cx="226.5" cy="482.9" r="1.35"/>
<circle cx="180.0" cy="551.1" r="1.35"/>
<circle cx="180.1" cy="560.0" r="1.35"/>
<circle cx="241.5" cy="507.7" r="1.35"/>
<circle cx="171.5" cy="560.4" r="1.35"/>
<circle cx="258.7" cy="471.1" r="1.35"/>
<circle cx="187.7" cy="478.2" r="1.35"/>
<circle cx="220.6" cy="531.1" r="1.35"/>
<circle cx="210.7" cy="516.3" r="1.35"/>
<circle cx="196.1" cy="540.8" r="1.35"/>
<circle cx="191.2" cy="554.9" r="1.35"/>
<circle cx="181.6" cy="558.1" r="1.35"/>
<circle cx="245.5" cy="475.2" r="1.35"/>
<circle cx="213.5" cy="487.2" r="1.35"/>
<circle cx="186.9" cy="514.2" r="1.35"/>
<circle cx="185.7" cy="556.1" r="1.35"/>
<circle cx="212.3" cy="511.2" r="1.35"/>
<circle cx="171.6" cy="558.5" r="1.35"/>
<circle cx="189.4" cy="546.3" r="1.35"/>
<circle cx="204.9" cy="479.8" r="1.35"/>
<circle cx="183.8" cy="537.2" r="1.35"/>
<circle cx="198.5" cy="534.3" r="1.35"/>
<circle cx="208.5" cy="522.6" r="1.35"/>
<circle cx="176.4" cy="557.0" r="1.35"/>
<circle cx="177.0" cy="551.4" r="1.35"/>
<circle cx="169.6" cy="561.8" r="1.35"/>
<circle cx="206.3" cy="490.6" r="1.35"/>
<circle cx="205.6" cy="533.3" r="1.35"/>
<circle cx="190.4" cy="533.9" r="1.35"/>
<circle cx="187.0" cy="515.6" r="1.35"/>
<circle cx="173.8" cy="560.8" r="1.35"/>
<circle cx="174.4" cy="556.9" r="1.35"/>
<circle cx="179.2" cy="540.3" r="1.35"/>
<circle cx="199.8" cy="543.0" r="1.35"/>
<circle cx="220.5" cy="507.1" r="1.35"/>
<circle cx="169.9" cy="562.1" r="1.35"/>
<circle cx="213.9" cy="504.7" r="1.35"/>
<circle cx="169.8" cy="563.1" r="1.35"/>
<circle cx="199.5" cy="520.2" r="1.35"/>
<circle cx="211.6" cy="524.9" r="1.35"/>
<circle cx="233.6" cy="474.2" r="1.35"/>
<circle cx="170.4" cy="562.5" r="1.35"/>
<circle cx="189.7" cy="540.4" r="1.35"/>
<circle cx="185.2" cy="538.1" r="1.35"/>
<circle cx="169.4" cy="561.1" r="1.35"/>
<circle cx="174.6" cy="561.1" r="1.35"/>
<circle cx="210.2" cy="526.8" r="1.35"/>
<circle cx="190.2" cy="542.5" r="1.35"/>
<circle cx="188.7" cy="496.7" r="1.35"/>
<circle cx="204.5" cy="486.9" r="1.35"/>
<circle cx="192.7" cy="526.9" r="1.35"/>
<circle cx="220.4" cy="528.4" r="1.35"/>
<circle cx="177.1" cy="550.1" r="1.35"/>
<circle cx="178.2" cy="535.5" r="1.35"/>
<circle cx="191.9" cy="538.5" r="1.35"/>
<circle cx="190.9" cy="532.1" r="1.35"/>
<circle cx="212.1" cy="533.4" r="1.35"/>
<circle cx="178.3" cy="557.3" r="1.35"/>
<circle cx="170.7" cy="556.3" r="1.35"/>
<circle cx="192.6" cy="531.2" r="1.35"/>
<circle cx="181.2" cy="551.6" r="1.35"/>
<circle cx="193.2" cy="529.0" r="1.35"/>
<circle cx="169.0" cy="562.1" r="1.35"/>
<circle cx="189.1" cy="539.7" r="1.35"/>
<circle cx="213.7" cy="504.2" r="1.35"/>
<circle cx="188.5" cy="499.6" r="1.35"/>
<circle cx="178.8" cy="547.7" r="1.35"/>
<circle cx="182.5" cy="554.0" r="1.35"/>
<circle cx="211.4" cy="532.0" r="1.35"/>
<circle cx="183.3" cy="552.4" r="1.35"/>
<circle cx="196.3" cy="539.6" r="1.35"/>
<circle cx="197.3" cy="521.9" r="1.35"/>
<circle cx="181.0" cy="551.6" r="1.35"/>
<circle cx="173.5" cy="560.3" r="1.35"/>
<circle cx="244.4" cy="496.2" r="1.35"/>
<circle cx="183.5" cy="551.0" r="1.35"/>
<circle cx="211.1" cy="546.5" r="1.35"/>
<circle cx="181.0" cy="558.4" r="1.35"/>
<circle cx="176.6" cy="560.0" r="1.35"/>
<circle cx="176.4" cy="553.7" r="1.35"/>
<circle cx="204.4" cy="535.2" r="1.35"/>
<circle cx="206.5" cy="536.3" r="1.35"/>
<circle cx="200.6" cy="543.2" r="1.35"/>
<circle cx="177.6" cy="559.3" r="1.35"/>
<circle cx="169.7" cy="562.5" r="1.35"/>
<circle cx="212.4" cy="497.1" r="1.35"/>
<circle cx="218.5" cy="509.6" r="1.35"/>
<circle cx="182.0" cy="542.7" r="1.35"/>
<circle cx="236.4" cy="500.4" r="1.35"/>
<circle cx="221.2" cy="513.7" r="1.35"/>
<circle cx="174.5" cy="561.1" r="1.35"/>
<circle cx="176.3" cy="555.0" r="1.35"/>
<circle cx="193.9" cy="549.7" r="1.35"/>
<circle cx="196.0" cy="517.5" r="1.35"/>
<circle cx="186.0" cy="551.6" r="1.35"/>
<circle cx="191.0" cy="505.6" r="1.35"/>
<circle cx="207.5" cy="525.0" r="1.35"/>
<circle cx="188.3" cy="484.4" r="1.35"/>
<circle cx="205.7" cy="436.7" r="1.35"/>
<circle cx="170.6" cy="553.1" r="1.35"/>
<circle cx="212.6" cy="521.8" r="1.35"/>
<circle cx="223.4" cy="524.2" r="1.35"/>
<circle cx="189.7" cy="550.2" r="1.35"/>
<circle cx="195.0" cy="484.0" r="1.35"/>
<circle cx="218.0" cy="511.0" r="1.35"/>
<circle cx="242.4" cy="504.5" r="1.35"/>
<circle cx="172.7" cy="559.8" r="1.35"/>
<circle cx="187.5" cy="547.4" r="1.35"/>
<circle cx="175.5" cy="549.3" r="1.35"/>
<circle cx="190.2" cy="537.4" r="1.35"/>
<circle cx="184.1" cy="557.3" r="1.35"/>
<circle cx="193.4" cy="505.2" r="1.35"/>
<circle cx="214.6" cy="464.7" r="1.35"/>
<circle cx="192.1" cy="519.9" r="1.35"/>
<circle cx="215.4" cy="513.4" r="1.35"/>
<circle cx="177.8" cy="555.6" r="1.35"/>
<circle cx="211.0" cy="509.1" r="1.35"/>
<circle cx="188.0" cy="531.8" r="1.35"/>
<circle cx="203.2" cy="479.9" r="1.35"/>
<circle cx="188.8" cy="525.7" r="1.35"/>
<circle cx="179.2" cy="551.5" r="1.35"/>
<circle cx="196.8" cy="500.9" r="1.35"/>
<circle cx="178.4" cy="555.6" r="1.35"/>
<circle cx="188.1" cy="552.9" r="1.35"/>
<circle cx="204.7" cy="499.7" r="1.35"/>
<circle cx="178.6" cy="555.2" r="1.35"/>
<circle cx="201.4" cy="454.2" r="1.35"/>
<circle cx="190.6" cy="528.9" r="1.35"/>
<circle cx="187.7" cy="498.3" r="1.35"/>
<circle cx="175.9" cy="559.7" r="1.35"/>
<circle cx="216.6" cy="501.7" r="1.35"/>
<circle cx="183.7" cy="556.2" r="1.35"/>
<circle cx="171.0" cy="561.0" r="1.35"/>
<circle cx="179.9" cy="552.1" r="1.35"/>
<circle cx="192.0" cy="537.9" r="1.35"/>
<circle cx="179.6" cy="558.4" r="1.35"/>
<circle cx="195.6" cy="530.1" r="1.35"/>
<circle cx="242.4" cy="483.6" r="1.35"/>
<circle cx="174.7" cy="551.0" r="1.35"/>
<circle cx="215.5" cy="493.0" r="1.35"/>
<circle cx="196.0" cy="535.2" r="1.35"/>
<circle cx="178.9" cy="559.7" r="1.35"/>
<circle cx="228.7" cy="509.0" r="1.35"/>
<circle cx="178.5" cy="524.0" r="1.35"/>
<circle cx="183.1" cy="510.4" r="1.35"/>
<circle cx="208.1" cy="539.2" r="1.35"/>
<circle cx="209.9" cy="525.6" r="1.35"/>
<circle cx="183.0" cy="558.2" r="1.35"/>
<circle cx="187.1" cy="501.5" r="1.35"/>
<circle cx="172.4" cy="555.4" r="1.35"/>
<circle cx="197.3" cy="510.9" r="1.35"/>
<circle cx="180.5" cy="552.6" r="1.35"/>
<circle cx="244.7" cy="435.3" r="1.35"/>
<circle cx="211.3" cy="448.5" r="1.35"/>
<circle cx="186.1" cy="541.1" r="1.35"/>
<circle cx="178.6" cy="543.4" r="1.35"/>
<circle cx="194.3" cy="526.2" r="1.35"/>
<circle cx="193.3" cy="534.4" r="1.35"/>
<circle cx="196.8" cy="503.8" r="1.35"/>
<circle cx="172.4" cy="563.6" r="1.35"/>
<circle cx="200.7" cy="540.3" r="1.35"/>
<circle cx="196.2" cy="508.4" r="1.35"/>
<circle cx="207.1" cy="524.5" r="1.35"/>
<circle cx="210.8" cy="532.9" r="1.35"/>
<circle cx="179.7" cy="536.3" r="1.35"/>
<circle cx="177.5" cy="559.7" r="1.35"/>
<circle cx="209.0" cy="453.0" r="1.35"/>
<circle cx="197.6" cy="478.9" r="1.35"/>
<circle cx="242.9" cy="502.9" r="1.35"/>
<circle cx="180.9" cy="550.7" r="1.35"/>
<circle cx="213.1" cy="515.5" r="1.35"/>
<circle cx="236.2" cy="528.2" r="1.35"/>
<circle cx="171.1" cy="561.5" r="1.35"/>
<circle cx="186.3" cy="486.5" r="1.35"/>
<circle cx="191.3" cy="531.9" r="1.35"/>
<circle cx="188.0" cy="542.5" r="1.35"/>
<circle cx="191.8" cy="522.2" r="1.35"/>
<circle cx="240.9" cy="431.8" r="1.35"/>
<circle cx="169.9" cy="563.0" r="1.35"/>
<circle cx="178.0" cy="514.2" r="1.35"/>
<circle cx="202.8" cy="504.4" r="1.35"/>
<circle cx="200.6" cy="523.1" r="1.35"/>
<circle cx="203.8" cy="459.0" r="1.35"/>
<circle cx="195.9" cy="546.7" r="1.35"/>
<circle cx="217.3" cy="485.8" r="1.35"/>
<circle cx="174.7" cy="560.0" r="1.35"/>
<circle cx="191.7" cy="536.3" r="1.35"/>
<circle cx="171.1" cy="563.9" r="1.35"/>
<circle cx="177.4" cy="551.8" r="1.35"/>
<circle cx="173.9" cy="559.6" r="1.35"/>
<circle cx="194.0" cy="544.7" r="1.35"/>
<circle cx="172.8" cy="562.0" r="1.35"/>
<circle cx="207.0" cy="540.1" r="1.35"/>
<circle cx="204.4" cy="422.9" r="1.35"/>
<circle cx="182.9" cy="552.4" r="1.35"/>
<circle cx="225.0" cy="532.2" r="1.35"/>
<circle cx="204.0" cy="534.1" r="1.35"/>
<circle cx="175.4" cy="555.6" r="1.35"/>
<circle cx="198.2" cy="515.0" r="1.35"/>
<circle cx="220.1" cy="511.6" r="1.35"/>
<circle cx="171.9" cy="559.0" r="1.35"/>
<circle cx="188.8" cy="541.8" r="1.35"/>
<circle cx="239.8" cy="482.2" r="1.35"/>
<circle cx="205.1" cy="481.3" r="1.35"/>
<circle cx="175.9" cy="556.0" r="1.35"/>
<circle cx="171.5" cy="561.5" r="1.35"/>
<circle cx="191.7" cy="531.5" r="1.35"/>
<circle cx="187.6" cy="507.1" r="1.35"/>
<circle cx="180.0" cy="541.8" r="1.35"/>
<circle cx="181.4" cy="535.4" r="1.35"/>
<circle cx="174.5" cy="562.3" r="1.35"/>
<circle cx="189.9" cy="545.0" r="1.35"/>
<circle cx="232.0" cy="511.0" r="1.35"/>
<circle cx="205.6" cy="492.3" r="1.35"/>
<circle cx="190.8" cy="494.9" r="1.35"/>
<circle cx="226.9" cy="481.9" r="1.35"/>
<circle cx="200.9" cy="542.8" r="1.35"/>
<circle cx="172.7" cy="558.9" r="1.35"/>
<circle cx="171.8" cy="562.4" r="1.35"/>
<circle cx="173.4" cy="560.4" r="1.35"/>
<circle cx="179.4" cy="545.2" r="1.35"/>
<circle cx="183.2" cy="544.1" r="1.35"/>
<circle cx="181.9" cy="552.5" r="1.35"/>
<circle cx="181.3" cy="555.7" r="1.35"/>
<circle cx="193.5" cy="542.3" r="1.35"/>
<circle cx="213.7" cy="446.7" r="1.35"/>
<circle cx="222.3" cy="499.5" r="1.35"/>
<circle cx="233.0" cy="503.3" r="1.35"/>
<circle cx="189.8" cy="527.8" r="1.35"/>
<circle cx="180.2" cy="551.3" r="1.35"/>
<circle cx="209.5" cy="510.9" r="1.35"/>
<circle cx="179.6" cy="532.3" r="1.35"/>
<circle cx="183.3" cy="553.4" r="1.35"/>
<circle cx="210.1" cy="496.4" r="1.35"/>
<circle cx="199.2" cy="534.2" r="1.35"/>
<circle cx="173.8" cy="540.2" r="1.35"/>
<circle cx="198.1" cy="498.1" r="1.35"/>
<circle cx="215.7" cy="533.5" r="1.35"/>
<circle cx="205.6" cy="524.7" r="1.35"/>
<circle cx="173.3" cy="557.5" r="1.35"/>
<circle cx="176.3" cy="542.9" r="1.35"/>
<circle cx="171.2" cy="564.0" r="1.35"/>
<circle cx="190.1" cy="506.1" r="1.35"/>
<circle cx="178.3" cy="558.9" r="1.35"/>
<circle cx="219.4" cy="506.3" r="1.35"/>
<circle cx="173.7" cy="556.6" r="1.35"/>
<circle cx="208.4" cy="518.6" r="1.35"/>
<circle cx="170.9" cy="564.2" r="1.35"/>
<circle cx="175.1" cy="560.9" r="1.35"/>
<circle cx="182.1" cy="551.6" r="1.35"/>
<circle cx="168.8" cy="565.1" r="1.35"/>
<circle cx="207.3" cy="533.7" r="1.35"/>
<circle cx="188.2" cy="532.7" r="1.35"/>
<circle cx="197.8" cy="543.6" r="1.35"/>
<circle cx="217.5" cy="488.8" r="1.35"/>
<circle cx="181.5" cy="558.0" r="1.35"/>
<circle cx="182.3" cy="555.7" r="1.35"/>
<circle cx="174.6" cy="556.6" r="1.35"/>
<circle cx="177.3" cy="550.7" r="1.35"/>
<circle cx="209.7" cy="491.3" r="1.35"/>
<circle cx="192.6" cy="544.7" r="1.35"/>
<circle cx="174.3" cy="560.4" r="1.35"/>
<circle cx="276.7" cy="451.6" r="1.35"/>
<circle cx="230.4" cy="466.8" r="1.35"/>
<circle cx="187.2" cy="523.8" r="1.35"/>
<circle cx="202.8" cy="522.0" r="1.35"/>
<circle cx="193.6" cy="449.6" r="1.35"/>
<circle cx="172.0" cy="558.7" r="1.35"/>
<circle cx="177.9" cy="542.7" r="1.35"/>
<circle cx="209.4" cy="542.1" r="1.35"/>
<circle cx="185.9" cy="556.4" r="1.35"/>
<circle cx="202.3" cy="534.1" r="1.35"/>
<circle cx="176.1" cy="533.5" r="1.35"/>
<circle cx="188.9" cy="550.2" r="1.35"/>
<circle cx="176.1" cy="556.7" r="1.35"/>
<circle cx="172.1" cy="557.8" r="1.35"/>
<circle cx="179.6" cy="550.6" r="1.35"/>
<circle cx="189.2" cy="530.4" r="1.35"/>
<circle cx="220.2" cy="487.5" r="1.35"/>
<circle cx="181.0" cy="552.4" r="1.35"/>
<circle cx="186.0" cy="539.9" r="1.35"/>
<circle cx="179.4" cy="506.9" r="1.35"/>
<circle cx="175.0" cy="554.1" r="1.35"/>
<circle cx="194.0" cy="532.4" r="1.35"/>
<circle cx="221.9" cy="475.2" r="1.35"/>
<circle cx="189.3" cy="537.5" r="1.35"/>
<circle cx="195.9" cy="513.0" r="1.35"/>
<circle cx="191.5" cy="521.6" r="1.35"/>
<circle cx="202.1" cy="547.7" r="1.35"/>
<circle cx="181.6" cy="558.5" r="1.35"/>
<circle cx="170.5" cy="563.5" r="1.35"/>
<circle cx="176.5" cy="557.1" r="1.35"/>
<circle cx="179.4" cy="547.4" r="1.35"/>
<circle cx="213.8" cy="471.3" r="1.35"/>
<circle cx="199.7" cy="523.2" r="1.35"/>
<circle cx="173.3" cy="561.3" r="1.35"/>
<circle cx="198.3" cy="495.5" r="1.35"/>
<circle cx="189.3" cy="494.0" r="1.35"/>
<circle cx="175.5" cy="558.6" r="1.35"/>
<circle cx="185.1" cy="548.8" r="1.35"/>
<circle cx="199.2" cy="524.4" r="1.35"/>
<circle cx="184.9" cy="553.8" r="1.35"/>
<circle cx="187.0" cy="553.3" r="1.35"/>
<circle cx="189.2" cy="528.3" r="1.35"/>
<circle cx="171.8" cy="553.2" r="1.35"/>
<circle cx="183.7" cy="526.8" r="1.35"/>
<circle cx="176.1" cy="543.4" r="1.35"/>
<circle cx="176.0" cy="557.7" r="1.35"/>
<circle cx="193.7" cy="514.5" r="1.35"/>
<circle cx="185.9" cy="537.3" r="1.35"/>
<circle cx="174.6" cy="558.8" r="1.35"/>
<circle cx="183.1" cy="546.6" r="1.35"/>
<circle cx="186.9" cy="536.8" r="1.35"/>
<circle cx="186.1" cy="546.0" r="1.35"/>
<circle cx="177.6" cy="548.0" r="1.35"/>
<circle cx="196.3" cy="537.1" r="1.35"/>
<circle cx="195.1" cy="509.9" r="1.35"/>
<circle cx="171.7" cy="562.1" r="1.35"/>
<circle cx="186.7" cy="548.0" r="1.35"/>
<circle cx="186.5" cy="542.9" r="1.35"/>
<circle cx="196.9" cy="545.6" r="1.35"/>
<circle cx="194.0" cy="538.7" r="1.35"/>
<circle cx="172.5" cy="561.0" r="1.35"/>
<circle cx="176.9" cy="555.4" r="1.35"/>
<circle cx="199.1" cy="526.9" r="1.35"/>
<circle cx="183.5" cy="541.6" r="1.35"/>
<circle cx="185.0" cy="514.2" r="1.35"/>
<circle cx="172.2" cy="562.4" r="1.35"/>
<circle cx="214.7" cy="517.1" r="1.35"/>
<circle cx="191.5" cy="542.2" r="1.35"/>
<circle cx="191.9" cy="525.8" r="1.35"/>
<circle cx="184.2" cy="540.6" r="1.35"/>
<circle cx="171.1" cy="562.9" r="1.35"/>
<circle cx="176.7" cy="526.5" r="1.35"/>
<circle cx="187.1" cy="542.8" r="1.35"/>
<circle cx="187.6" cy="551.4" r="1.35"/>
<circle cx="171.6" cy="562.0" r="1.35"/>
<circle cx="184.5" cy="543.4" r="1.35"/>
<circle cx="241.0" cy="511.0" r="1.35"/>
<circle cx="196.6" cy="474.3" r="1.35"/>
<circle cx="186.2" cy="476.9" r="1.35"/>
<circle cx="180.0" cy="545.8" r="1.35"/>
<circle cx="246.1" cy="432.6" r="1.35"/>
<circle cx="179.2" cy="557.3" r="1.35"/>
<circle cx="186.9" cy="542.0" r="1.35"/>
<circle cx="174.4" cy="558.6" r="1.35"/>
<circle cx="196.3" cy="534.2" r="1.35"/>
<circle cx="189.7" cy="526.9" r="1.35"/>
<circle cx="191.1" cy="488.9" r="1.35"/>
<circle cx="231.0" cy="505.6" r="1.35"/>
<circle cx="208.4" cy="497.3" r="1.35"/>
<circle cx="177.2" cy="550.7" r="1.35"/>
<circle cx="208.6" cy="507.9" r="1.35"/>
<circle cx="224.1" cy="524.7" r="1.35"/>
<circle cx="170.9" cy="561.2" r="1.35"/>
<circle cx="193.7" cy="549.1" r="1.35"/>
<circle cx="170.1" cy="563.7" r="1.35"/>
<circle cx="182.3" cy="538.2" r="1.35"/>
<circle cx="221.3" cy="503.9" r="1.35"/>
<circle cx="215.1" cy="529.4" r="1.35"/>
<circle cx="173.7" cy="554.7" r="1.35"/>
<circle cx="219.8" cy="489.8" r="1.35"/>
<circle cx="186.4" cy="532.8" r="1.35"/>
<circle cx="207.9" cy="474.5" r="1.35"/>
<circle cx="208.0" cy="432.9" r="1.35"/>
<circle cx="193.5" cy="531.3" r="1.35"/>
<circle cx="171.2" cy="560.5" r="1.35"/>
<circle cx="213.5" cy="471.0" r="1.35"/>
<circle cx="181.0" cy="553.3" r="1.35"/>
<circle cx="171.0" cy="560.7" r="1.35"/>
<circle cx="182.9" cy="558.6" r="1.35"/>
<circle cx="229.5" cy="508.4" r="1.35"/>
<circle cx="186.8" cy="526.4" r="1.35"/>
<circle cx="225.9" cy="476.2" r="1.35"/>
<circle cx="213.6" cy="531.5" r="1.35"/>
<circle cx="185.9" cy="523.7" r="1.35"/>
<circle cx="177.4" cy="529.4" r="1.35"/>
<circle cx="176.1" cy="556.1" r="1.35"/>
<circle cx="180.2" cy="548.7" r="1.35"/>
<circle cx="192.6" cy="532.4" r="1.35"/>
<circle cx="212.9" cy="518.8" r="1.35"/>
<circle cx="233.8" cy="479.9" r="1.35"/>
<circle cx="176.5" cy="548.9" r="1.35"/>
<circle cx="192.8" cy="532.6" r="1.35"/>
<circle cx="196.9" cy="511.4" r="1.35"/>
<circle cx="192.1" cy="500.5" r="1.35"/>
<circle cx="204.1" cy="518.6" r="1.35"/>
<circle cx="198.1" cy="423.1" r="1.35"/>
<circle cx="194.3" cy="541.4" r="1.35"/>
<circle cx="207.8" cy="529.3" r="1.35"/>
<circle cx="237.4" cy="484.1" r="1.35"/>
<circle cx="201.6" cy="525.7" r="1.35"/>
<circle cx="186.7" cy="542.7" r="1.35"/>
<circle cx="193.8" cy="549.2" r="1.35"/>
<circle cx="175.3" cy="555.6" r="1.35"/>
<circle cx="183.2" cy="547.0" r="1.35"/>
<circle cx="194.5" cy="502.7" r="1.35"/>
<circle cx="184.3" cy="553.0" r="1.35"/>
<circle cx="176.8" cy="522.3" r="1.35"/>
<circle cx="199.2" cy="532.7" r="1.35"/>
<circle cx="197.4" cy="425.0" r="1.35"/>
<circle cx="172.4" cy="557.2" r="1.35"/>
<circle cx="220.7" cy="524.1" r="1.35"/>
<circle cx="229.6" cy="442.5" r="1.35"/>
<circle cx="188.9" cy="543.9" r="1.35"/>
<circle cx="191.3" cy="526.2" r="1.35"/>
<circle cx="195.2" cy="466.4" r="1.35"/>
<circle cx="182.8" cy="552.2" r="1.35"/>
<circle cx="251.2" cy="449.5" r="1.35"/>
<circle cx="194.5" cy="518.5" r="1.35"/>
<circle cx="178.1" cy="556.1" r="1.35"/>
<circle cx="193.5" cy="540.4" r="1.35"/>
<circle cx="177.1" cy="558.6" r="1.35"/>
<circle cx="200.3" cy="513.4" r="1.35"/>
<circle cx="175.2" cy="558.0" r="1.35"/>
<circle cx="201.0" cy="529.0" r="1.35"/>
<circle cx="286.9" cy="491.2" r="1.35"/>
<circle cx="208.5" cy="523.4" r="1.35"/>
<circle cx="193.5" cy="515.5" r="1.35"/>
<circle cx="194.8" cy="451.9" r="1.35"/>
<circle cx="173.8" cy="555.5" r="1.35"/>
<circle cx="186.0" cy="548.5" r="1.35"/>
<circle cx="210.4" cy="514.9" r="1.35"/>
<circle cx="196.4" cy="548.3" r="1.35"/>
<circle cx="193.9" cy="528.5" r="1.35"/>
<circle cx="171.9" cy="556.8" r="1.35"/>
<circle cx="211.5" cy="503.9" r="1.35"/>
<circle cx="208.8" cy="523.8" r="1.35"/>
<circle cx="206.6" cy="515.7" r="1.35"/>
<circle cx="217.3" cy="519.9" r="1.35"/>
<circle cx="194.9" cy="533.0" r="1.35"/>
<circle cx="193.2" cy="547.2" r="1.35"/>
<circle cx="173.7" cy="561.0" r="1.35"/>
<circle cx="226.9" cy="446.7" r="1.35"/>
<circle cx="191.3" cy="524.7" r="1.35"/>
<circle cx="195.4" cy="535.7" r="1.35"/>
<circle cx="172.5" cy="560.2" r="1.35"/>
<circle cx="171.2" cy="562.7" r="1.35"/>
<circle cx="189.6" cy="522.6" r="1.35"/>
<circle cx="177.1" cy="551.6" r="1.35"/>
<circle cx="175.1" cy="556.0" r="1.35"/>
<circle cx="177.4" cy="532.8" r="1.35"/>
<circle cx="189.8" cy="553.5" r="1.35"/>
<circle cx="170.2" cy="563.3" r="1.35"/>
<circle cx="193.0" cy="525.2" r="1.35"/>
<circle cx="182.9" cy="542.6" r="1.35"/>
<circle cx="206.4" cy="503.7" r="1.35"/>
<circle cx="187.1" cy="497.9" r="1.35"/>
<circle cx="194.0" cy="539.3" r="1.35"/>
<circle cx="178.6" cy="545.2" r="1.35"/>
<circle cx="274.3" cy="436.9" r="1.35"/>
<circle cx="187.4" cy="550.9" r="1.35"/>
<circle cx="187.4" cy="537.0" r="1.35"/>
<circle cx="180.2" cy="557.1" r="1.35"/>
<circle cx="173.3" cy="560.2" r="1.35"/>
<circle cx="221.8" cy="486.2" r="1.35"/>
<circle cx="175.1" cy="562.2" r="1.35"/>
<circle cx="224.8" cy="510.5" r="1.35"/>
<circle cx="188.8" cy="542.4" r="1.35"/>
<circle cx="178.4" cy="547.5" r="1.35"/>
<circle cx="195.6" cy="490.1" r="1.35"/>
<circle cx="197.3" cy="467.8" r="1.35"/>
<circle cx="201.7" cy="542.9" r="1.35"/>
<circle cx="209.7" cy="517.6" r="1.35"/>
<circle cx="178.4" cy="554.0" r="1.35"/>
<circle cx="182.0" cy="550.9" r="1.35"/>
<circle cx="174.9" cy="551.9" r="1.35"/>
<circle cx="176.6" cy="558.4" r="1.35"/>
<circle cx="172.7" cy="562.3" r="1.35"/>
<circle cx="203.4" cy="517.2" r="1.35"/>
<circle cx="206.5" cy="529.5" r="1.35"/>
<circle cx="243.4" cy="478.1" r="1.35"/>
<circle cx="206.0" cy="519.9" r="1.35"/>
<circle cx="237.1" cy="506.1" r="1.35"/>
<circle cx="196.7" cy="540.8" r="1.35"/>
<circle cx="199.7" cy="535.4" r="1.35"/>
<circle cx="203.9" cy="524.8" r="1.35"/>
<circle cx="273.3" cy="439.3" r="1.35"/>
<circle cx="190.6" cy="516.3" r="1.35"/>
<circle cx="172.2" cy="563.7" r="1.35"/>
<circle cx="202.7" cy="544.3" r="1.35"/>
<circle cx="193.7" cy="534.9" r="1.35"/>
<circle cx="238.5" cy="484.4" r="1.35"/>
<circle cx="190.2" cy="548.9" r="1.35"/>
<circle cx="185.4" cy="555.9" r="1.35"/>
<circle cx="173.9" cy="559.6" r="1.35"/>
<circle cx="201.8" cy="484.1" r="1.35"/>
<circle cx="188.7" cy="549.5" r="1.35"/>
<circle cx="253.6" cy="459.1" r="1.35"/>
<circle cx="175.1" cy="560.6" r="1.35"/>
<circle cx="233.5" cy="447.2" r="1.35"/>
<circle cx="181.4" cy="555.9" r="1.35"/>
<circle cx="241.1" cy="495.9" r="1.35"/>
<circle cx="223.2" cy="517.6" r="1.35"/>
<circle cx="178.1" cy="548.4" r="1.35"/>
<circle cx="218.3" cy="539.7" r="1.35"/>
<circle cx="174.2" cy="556.9" r="1.35"/>
<circle cx="180.6" cy="550.1" r="1.35"/>
<circle cx="216.1" cy="512.4" r="1.35"/>
<circle cx="174.4" cy="560.1" r="1.35"/>
<circle cx="191.2" cy="480.7" r="1.35"/>
<circle cx="175.5" cy="557.8" r="1.35"/>
<circle cx="184.1" cy="548.3" r="1.35"/>
<circle cx="223.4" cy="535.2" r="1.35"/>
<circle cx="183.2" cy="531.0" r="1.35"/>
<circle cx="223.2" cy="447.9" r="1.35"/>
<circle cx="190.0" cy="526.0" r="1.35"/>
<circle cx="173.8" cy="561.7" r="1.35"/>
<circle cx="235.3" cy="495.9" r="1.35"/>
<circle cx="212.0" cy="522.9" r="1.35"/>
<circle cx="179.9" cy="551.1" r="1.35"/>
<circle cx="175.2" cy="559.5" r="1.35"/>
<circle cx="204.4" cy="538.8" r="1.35"/>
<circle cx="181.0" cy="550.2" r="1.35"/>
<circle cx="197.2" cy="529.4" r="1.35"/>
<circle cx="198.7" cy="478.2" r="1.35"/>
<circle cx="206.8" cy="537.9" r="1.35"/>
<circle cx="201.9" cy="535.6" r="1.35"/>
<circle cx="216.6" cy="525.1" r="1.35"/>
<circle cx="180.1" cy="558.3" r="1.35"/>
<circle cx="187.9" cy="512.8" r="1.35"/>
<circle cx="178.2" cy="552.1" r="1.35"/>
<circle cx="181.7" cy="513.0" r="1.35"/>
<circle cx="211.0" cy="512.5" r="1.35"/>
<circle cx="180.4" cy="557.7" r="1.35"/>
<circle cx="176.9" cy="555.1" r="1.35"/>
<circle cx="198.7" cy="502.5" r="1.35"/>
<circle cx="178.3" cy="557.7" r="1.35"/>
<circle cx="188.7" cy="486.6" r="1.35"/>
<circle cx="194.0" cy="552.9" r="1.35"/>
<circle cx="181.8" cy="547.1" r="1.35"/>
<circle cx="189.5" cy="546.6" r="1.35"/>
<circle cx="197.0" cy="540.0" r="1.35"/>
<circle cx="176.0" cy="552.7" r="1.35"/>
<circle cx="175.6" cy="556.7" r="1.35"/>
<circle cx="242.2" cy="483.4" r="1.35"/>
<circle cx="183.5" cy="536.2" r="1.35"/>
<circle cx="175.8" cy="562.1" r="1.35"/>
<circle cx="232.6" cy="483.0" r="1.35"/>
<circle cx="171.8" cy="561.6" r="1.35"/>
<circle cx="180.5" cy="551.0" r="1.35"/>
<circle cx="197.3" cy="548.2" r="1.35"/>
<circle cx="173.3" cy="561.8" r="1.35"/>
<circle cx="179.3" cy="548.7" r="1.35"/>
<circle cx="217.3" cy="528.9" r="1.35"/>
<circle cx="173.4" cy="543.1" r="1.35"/>
<circle cx="169.2" cy="564.7" r="1.35"/>
<circle cx="186.0" cy="540.1" r="1.35"/>
<circle cx="196.1" cy="549.6" r="1.35"/>
<circle cx="200.4" cy="528.0" r="1.35"/>
<circle cx="176.2" cy="538.9" r="1.35"/>
<circle cx="191.4" cy="548.7" r="1.35"/>
<circle cx="191.2" cy="512.5" r="1.35"/>
<circle cx="182.4" cy="548.0" r="1.35"/>
<circle cx="171.7" cy="563.2" r="1.35"/>
<circle cx="216.9" cy="525.2" r="1.35"/>
<circle cx="204.3" cy="538.3" r="1.35"/>
<circle cx="200.8" cy="493.8" r="1.35"/>
<circle cx="170.5" cy="558.3" r="1.35"/>
<circle cx="206.7" cy="483.1" r="1.35"/>
<circle cx="188.6" cy="541.5" r="1.35"/>
<circle cx="209.4" cy="504.9" r="1.35"/>
<circle cx="224.1" cy="510.3" r="1.35"/>
<circle cx="177.7" cy="550.9" r="1.35"/>
<circle cx="196.3" cy="522.4" r="1.35"/>
<circle cx="188.8" cy="494.7" r="1.35"/>
<circle cx="181.0" cy="523.8" r="1.35"/>
<circle cx="182.2" cy="553.8" r="1.35"/>
<circle cx="202.2" cy="530.0" r="1.35"/>
<circle cx="180.1" cy="556.5" r="1.35"/>
<circle cx="184.8" cy="554.9" r="1.35"/>
<circle cx="178.1" cy="549.4" r="1.35"/>
<circle cx="189.0" cy="544.1" r="1.35"/>
<circle cx="177.8" cy="547.9" r="1.35"/>
<circle cx="195.9" cy="535.3" r="1.35"/>
<circle cx="180.0" cy="548.0" r="1.35"/>
<circle cx="218.1" cy="513.9" r="1.35"/>
<circle cx="199.3" cy="538.2" r="1.35"/>
<circle cx="205.9" cy="520.5" r="1.35"/>
<circle cx="225.4" cy="535.1" r="1.35"/>
<circle cx="180.8" cy="550.9" r="1.35"/>
<circle cx="200.2" cy="514.9" r="1.35"/>
<circle cx="215.6" cy="446.0" r="1.35"/>
<circle cx="187.6" cy="546.0" r="1.35"/>
<circle cx="213.0" cy="499.5" r="1.35"/>
<circle cx="204.7" cy="470.2" r="1.35"/>
<circle cx="225.5" cy="423.8" r="1.35"/>
<circle cx="181.1" cy="546.9" r="1.35"/>
<circle cx="185.3" cy="545.7" r="1.35"/>
<circle cx="201.3" cy="484.2" r="1.35"/>
<circle cx="190.9" cy="551.3" r="1.35"/>
<circle cx="178.1" cy="512.9" r="1.35"/>
<circle cx="196.5" cy="547.9" r="1.35"/>
<circle cx="203.6" cy="534.3" r="1.35"/>
<circle cx="221.5" cy="536.9" r="1.35"/>
<circle cx="206.2" cy="507.5" r="1.35"/>
<circle cx="215.3" cy="520.7" r="1.35"/>
<circle cx="193.0" cy="552.3" r="1.35"/>
<circle cx="207.8" cy="480.0" r="1.35"/>
<circle cx="211.9" cy="521.5" r="1.35"/>
<circle cx="177.5" cy="517.7" r="1.35"/>
<circle cx="172.0" cy="556.4" r="1.35"/>
<circle cx="232.8" cy="436.1" r="1.35"/>
<circle cx="206.0" cy="464.0" r="1.35"/>
<circle cx="201.2" cy="456.2" r="1.35"/>
<circle cx="200.7" cy="468.8" r="1.35"/>
<circle cx="171.7" cy="563.0" r="1.35"/>
<circle cx="192.5" cy="523.3" r="1.35"/>
<circle cx="179.6" cy="555.3" r="1.35"/>
<circle cx="172.9" cy="562.9" r="1.35"/>
<circle cx="203.2" cy="484.8" r="1.35"/>
<circle cx="190.4" cy="548.8" r="1.35"/>
<circle cx="217.8" cy="514.7" r="1.35"/>
<circle cx="184.9" cy="554.5" r="1.35"/>
<circle cx="212.9" cy="467.7" r="1.35"/>
<circle cx="265.5" cy="453.9" r="1.35"/>
<circle cx="227.5" cy="486.8" r="1.35"/>
<circle cx="173.4" cy="541.5" r="1.35"/>
<circle cx="183.0" cy="543.1" r="1.35"/>
<circle cx="220.7" cy="496.6" r="1.35"/>
<circle cx="200.5" cy="486.8" r="1.35"/>
<circle cx="188.5" cy="537.1" r="1.35"/>
<circle cx="188.2" cy="528.8" r="1.35"/>
<circle cx="182.9" cy="547.6" r="1.35"/>
<circle cx="181.7" cy="550.2" r="1.35"/>
<circle cx="194.3" cy="520.3" r="1.35"/>
<circle cx="173.1" cy="560.3" r="1.35"/>
<circle cx="186.1" cy="544.3" r="1.35"/>
<circle cx="184.7" cy="527.0" r="1.35"/>
<circle cx="189.9" cy="554.0" r="1.35"/>
<circle cx="208.4" cy="532.0" r="1.35"/>
<circle cx="179.8" cy="549.6" r="1.35"/>
<circle cx="214.2" cy="486.0" r="1.35"/>
<circle cx="207.6" cy="531.5" r="1.35"/>
<circle cx="169.3" cy="564.3" r="1.35"/>
<circle cx="177.7" cy="558.2" r="1.35"/>
<circle cx="250.2" cy="439.2" r="1.35"/>
<circle cx="174.3" cy="559.3" r="1.35"/>
<circle cx="198.7" cy="532.0" r="1.35"/>
<circle cx="201.1" cy="499.4" r="1.35"/>
<circle cx="199.7" cy="472.8" r="1.35"/>
<circle cx="198.5" cy="483.4" r="1.35"/>
<circle cx="203.5" cy="514.8" r="1.35"/>
<circle cx="174.6" cy="555.8" r="1.35"/>
<circle cx="177.4" cy="513.9" r="1.35"/>
<circle cx="174.2" cy="556.9" r="1.35"/>
<circle cx="196.7" cy="528.4" r="1.35"/>
<circle cx="210.2" cy="545.5" r="1.35"/>
<circle cx="199.6" cy="517.5" r="1.35"/>
<circle cx="185.7" cy="508.0" r="1.35"/>
<circle cx="203.0" cy="422.2" r="1.35"/>
<circle cx="211.4" cy="494.9" r="1.35"/>
<circle cx="261.1" cy="416.7" r="1.35"/>
<circle cx="200.7" cy="518.3" r="1.35"/>
<circle cx="203.8" cy="513.2" r="1.35"/>
<circle cx="174.8" cy="552.7" r="1.35"/>
<circle cx="205.6" cy="450.3" r="1.35"/>
<circle cx="223.1" cy="512.2" r="1.35"/>
<circle cx="192.5" cy="544.2" r="1.35"/>
<circle cx="179.2" cy="550.4" r="1.35"/>
<circle cx="209.0" cy="488.4" r="1.35"/>
<circle cx="191.9" cy="534.4" r="1.35"/>
<circle cx="200.6" cy="510.1" r="1.35"/>
<circle cx="171.4" cy="562.1" r="1.35"/>
<circle cx="178.4" cy="550.3" r="1.35"/>
<circle cx="178.0" cy="550.9" r="1.35"/>
<circle cx="175.0" cy="542.7" r="1.35"/>
<circle cx="215.9" cy="525.8" r="1.35"/>
<circle cx="188.7" cy="550.0" r="1.35"/>
<circle cx="187.1" cy="553.5" r="1.35"/>
<circle cx="218.7" cy="539.2" r="1.35"/>
<circle cx="190.7" cy="530.4" r="1.35"/>
<circle cx="176.4" cy="561.0" r="1.35"/>
<circle cx="219.2" cy="490.8" r="1.35"/>
<circle cx="225.0" cy="464.7" r="1.35"/>
<circle cx="209.7" cy="512.5" r="1.35"/>
<circle cx="177.0" cy="536.1" r="1.35"/>
<circle cx="185.2" cy="547.3" r="1.35"/>
<circle cx="178.5" cy="560.6" r="1.35"/>
<circle cx="218.5" cy="504.8" r="1.35"/>
<circle cx="185.6" cy="546.5" r="1.35"/>
<circle cx="197.6" cy="506.6" r="1.35"/>
<circle cx="181.2" cy="550.9" r="1.35"/>
<circle cx="173.3" cy="561.2" r="1.35"/>
<circle cx="176.0" cy="552.5" r="1.35"/>
<circle cx="185.1" cy="540.1" r="1.35"/>
<circle cx="197.6" cy="531.8" r="1.35"/>
<circle cx="190.2" cy="549.9" r="1.35"/>
<circle cx="202.1" cy="502.3" r="1.35"/>
<circle cx="251.5" cy="485.8" r="1.35"/>
<circle cx="241.7" cy="437.5" r="1.35"/>
<circle cx="176.4" cy="548.3" r="1.35"/>
<circle cx="200.2" cy="528.5" r="1.35"/>
<circle cx="195.0" cy="540.0" r="1.35"/>
<circle cx="196.5" cy="532.4" r="1.35"/>
<circle cx="231.7" cy="513.5" r="1.35"/>
<circle cx="179.9" cy="558.4" r="1.35"/>
<circle cx="174.2" cy="555.5" r="1.35"/>
<circle cx="194.7" cy="553.6" r="1.35"/>
<circle cx="174.5" cy="558.5" r="1.35"/>
<circle cx="216.2" cy="485.8" r="1.35"/>
<circle cx="193.2" cy="524.9" r="1.35"/>
<circle cx="200.8" cy="533.4" r="1.35"/>
<circle cx="173.8" cy="556.9" r="1.35"/>
<circle cx="193.2" cy="534.6" r="1.35"/>
<circle cx="219.7" cy="531.7" r="1.35"/>
<circle cx="170.2" cy="564.3" r="1.35"/>
<circle cx="221.1" cy="466.0" r="1.35"/>
<circle cx="176.0" cy="552.5" r="1.35"/>
<circle cx="179.4" cy="554.4" r="1.35"/>
<circle cx="172.1" cy="560.0" r="1.35"/>
<circle cx="171.2" cy="555.2" r="1.35"/>
<circle cx="204.6" cy="453.2" r="1.35"/>
<circle cx="176.5" cy="543.6" r="1.35"/>
<circle cx="236.5" cy="477.2" r="1.35"/>
<circle cx="210.9" cy="533.4" r="1.35"/>
<circle cx="200.2" cy="525.1" r="1.35"/>
<circle cx="235.8" cy="502.6" r="1.35"/>
<circle cx="202.6" cy="445.1" r="1.35"/>
<circle cx="215.6" cy="511.6" r="1.35"/>
<circle cx="177.9" cy="510.4" r="1.35"/>
<circle cx="169.5" cy="561.9" r="1.35"/>
<circle cx="208.5" cy="535.0" r="1.35"/>
<circle cx="170.6" cy="562.3" r="1.35"/>
<circle cx="200.7" cy="529.8" r="1.35"/>
<circle cx="174.4" cy="557.7" r="1.35"/>
<circle cx="190.1" cy="537.3" r="1.35"/>
<circle cx="186.8" cy="543.2" r="1.35"/>
<circle cx="210.8" cy="523.1" r="1.35"/>
<circle cx="177.3" cy="545.8" r="1.35"/>
<circle cx="195.3" cy="545.3" r="1.35"/>
<circle cx="229.0" cy="499.7" r="1.35"/>
<circle cx="228.4" cy="494.1" r="1.35"/>
<circle cx="191.9" cy="518.1" r="1.35"/>
<circle cx="181.5" cy="520.7" r="1.35"/>
<circle cx="226.5" cy="464.7" r="1.35"/>
<circle cx="183.7" cy="552.1" r="1.35"/>
<circle cx="191.8" cy="545.7" r="1.35"/>
<circle cx="171.5" cy="558.7" r="1.35"/>
<circle cx="180.9" cy="556.8" r="1.35"/>
<circle cx="237.7" cy="449.3" r="1.35"/>
<circle cx="211.1" cy="538.6" r="1.35"/>
<circle cx="251.4" cy="481.4" r="1.35"/>
<circle cx="201.8" cy="471.6" r="1.35"/>
<circle cx="211.5" cy="489.7" r="1.35"/>
<circle cx="240.3" cy="493.9" r="1.35"/>
<circle cx="176.8" cy="558.3" r="1.35"/>
<circle cx="170.0" cy="560.5" r="1.35"/>
<circle cx="221.2" cy="486.8" r="1.35"/>
<circle cx="208.7" cy="505.5" r="1.35"/>
<circle cx="188.6" cy="515.3" r="1.35"/>
<circle cx="237.9" cy="504.7" r="1.35"/>
<circle cx="209.4" cy="523.5" r="1.35"/>
<circle cx="213.0" cy="503.7" r="1.35"/>
<circle cx="179.7" cy="549.6" r="1.35"/>
<circle cx="211.6" cy="426.3" r="1.35"/>
<circle cx="223.1" cy="477.5" r="1.35"/>
<circle cx="215.9" cy="504.6" r="1.35"/>
<circle cx="194.8" cy="439.2" r="1.35"/>
<circle cx="181.5" cy="538.3" r="1.35"/>
<circle cx="176.3" cy="552.5" r="1.35"/>
<circle cx="179.7" cy="538.3" r="1.35"/>
<circle cx="194.1" cy="546.9" r="1.35"/>
<circle cx="227.3" cy="468.9" r="1.35"/>
<circle cx="197.0" cy="512.0" r="1.35"/>
<circle cx="203.7" cy="466.1" r="1.35"/>
<circle cx="184.9" cy="557.4" r="1.35"/>
<circle cx="265.4" cy="469.9" r="1.35"/>
<circle cx="230.8" cy="493.9" r="1.35"/>
<circle cx="237.1" cy="472.5" r="1.35"/>
<circle cx="177.7" cy="558.7" r="1.35"/>
<circle cx="170.5" cy="564.1" r="1.35"/>
<circle cx="172.6" cy="554.9" r="1.35"/>
<circle cx="205.3" cy="520.4" r="1.35"/>
<circle cx="206.2" cy="494.2" r="1.35"/>
<circle cx="190.7" cy="531.7" r="1.35"/>
<circle cx="243.2" cy="476.4" r="1.35"/>
<circle cx="172.9" cy="557.5" r="1.35"/>
<circle cx="186.9" cy="546.7" r="1.35"/>
<circle cx="175.8" cy="557.6" r="1.35"/>
<circle cx="195.4" cy="518.1" r="1.35"/>
<circle cx="172.6" cy="563.3" r="1.35"/>
<circle cx="187.0" cy="515.8" r="1.35"/>
<circle cx="178.5" cy="555.0" r="1.35"/>
<circle cx="199.1" cy="491.1" r="1.35"/>
<circle cx="212.8" cy="515.2" r="1.35"/>
<circle cx="184.3" cy="549.0" r="1.35"/>
<circle cx="205.8" cy="497.4" r="1.35"/>
<circle cx="200.2" cy="535.5" r="1.35"/>
<circle cx="187.8" cy="543.2" r="1.35"/>
<circle cx="248.0" cy="508.3" r="1.35"/>
<circle cx="212.1" cy="529.4" r="1.35"/>
<circle cx="178.0" cy="550.6" r="1.35"/>
<circle cx="218.8" cy="505.0" r="1.35"/>
<circle cx="195.6" cy="525.4" r="1.35"/>
<circle cx="175.4" cy="543.9" r="1.35"/>
<circle cx="191.8" cy="530.6" r="1.35"/>
<circle cx="200.8" cy="543.2" r="1.35"/>
<circle cx="190.9" cy="550.6" r="1.35"/>
<circle cx="185.5" cy="530.7" r="1.35"/>
<circle cx="185.1" cy="545.7" r="1.35"/>
<circle cx="202.7" cy="541.7" r="1.35"/>
<circle cx="185.0" cy="554.8" r="1.35"/>
<circle cx="177.6" cy="559.3" r="1.35"/>
<circle cx="203.5" cy="526.6" r="1.35"/>
<circle cx="236.2" cy="502.4" r="1.35"/>
<circle cx="206.5" cy="528.1" r="1.35"/>
<circle cx="180.8" cy="548.2" r="1.35"/>
<circle cx="198.9" cy="520.0" r="1.35"/>
<circle cx="171.7" cy="560.3" r="1.35"/>
<circle cx="187.9" cy="516.9" r="1.35"/>
<circle cx="194.6" cy="520.7" r="1.35"/>
<circle cx="239.8" cy="472.7" r="1.35"/>
<circle cx="242.7" cy="470.8" r="1.35"/>
<circle cx="183.0" cy="551.9" r="1.35"/>
<circle cx="200.9" cy="540.3" r="1.35"/>
<circle cx="180.8" cy="556.7" r="1.35"/>
<circle cx="227.3" cy="494.0" r="1.35"/>
<circle cx="190.4" cy="485.6" r="1.35"/>
<circle cx="187.0" cy="549.1" r="1.35"/>
<circle cx="200.8" cy="550.0" r="1.35"/>
<circle cx="195.0" cy="536.7" r="1.35"/>
<circle cx="177.9" cy="557.7" r="1.35"/>
<circle cx="194.0" cy="497.3" r="1.35"/>
<circle cx="217.0" cy="527.4" r="1.35"/>
<circle cx="240.2" cy="500.6" r="1.35"/>
<circle cx="176.7" cy="558.4" r="1.35"/>
<circle cx="208.6" cy="489.6" r="1.35"/>
<circle cx="252.7" cy="444.5" r="1.35"/>
<circle cx="184.9" cy="528.5" r="1.35"/>
<circle cx="187.6" cy="541.7" r="1.35"/>
<circle cx="242.3" cy="504.4" r="1.35"/>
<circle cx="183.7" cy="539.0" r="1.35"/>
<circle cx="199.9" cy="549.7" r="1.35"/>
<circle cx="197.9" cy="544.8" r="1.35"/>
<circle cx="190.3" cy="554.9" r="1.35"/>
<circle cx="208.1" cy="518.4" r="1.35"/>
<circle cx="194.7" cy="479.5" r="1.35"/>
<circle cx="195.8" cy="523.6" r="1.35"/>
<circle cx="204.6" cy="524.3" r="1.35"/>
<circle cx="174.9" cy="560.4" r="1.35"/>
<circle cx="185.3" cy="549.6" r="1.35"/>
<circle cx="188.8" cy="543.6" r="1.35"/>
<circle cx="204.8" cy="488.6" r="1.35"/>
<circle cx="209.0" cy="479.8" r="1.35"/>
<circle cx="204.9" cy="429.9" r="1.35"/>
<circle cx="190.1" cy="507.8" r="1.35"/>
<circle cx="192.2" cy="552.3" r="1.35"/>
<circle cx="186.9" cy="524.6" r="1.35"/>
<circle cx="177.4" cy="548.3" r="1.35"/>
<circle cx="178.0" cy="554.7" r="1.35"/>
<circle cx="191.9" cy="510.7" r="1.35"/>
<circle cx="193.9" cy="521.4" r="1.35"/>
<circle cx="197.3" cy="547.1" r="1.35"/>
<circle cx="220.1" cy="518.0" r="1.35"/>
<circle cx="193.9" cy="494.5" r="1.35"/>
<circle cx="198.7" cy="478.0" r="1.35"/>
<circle cx="171.3" cy="562.0" r="1.35"/>
<circle cx="185.3" cy="548.0" r="1.35"/>
<circle cx="179.5" cy="556.9" r="1.35"/>
<circle cx="202.6" cy="531.0" r="1.35"/>
<circle cx="188.0" cy="552.0" r="1.35"/>
<circle cx="185.9" cy="521.1" r="1.35"/>
<circle cx="195.7" cy="493.8" r="1.35"/>
<circle cx="187.4" cy="517.3" r="1.35"/>
<circle cx="199.7" cy="502.9" r="1.35"/>
<circle cx="172.0" cy="550.6" r="1.35"/>
<circle cx="182.1" cy="537.6" r="1.35"/>
<circle cx="177.7" cy="558.0" r="1.35"/>
<circle cx="177.3" cy="560.1" r="1.35"/>
<circle cx="173.1" cy="560.3" r="1.35"/>
<circle cx="186.6" cy="506.2" r="1.35"/>
<circle cx="183.2" cy="540.8" r="1.35"/>
<circle cx="183.8" cy="549.3" r="1.35"/>
<circle cx="237.6" cy="445.6" r="1.35"/>
<circle cx="178.0" cy="554.1" r="1.35"/>
<circle cx="231.6" cy="415.1" r="1.35"/>
<circle cx="238.1" cy="444.8" r="1.35"/>
<circle cx="191.2" cy="545.1" r="1.35"/>
<circle cx="209.9" cy="499.6" r="1.35"/>
<circle cx="190.1" cy="543.5" r="1.35"/>
<circle cx="176.4" cy="554.8" r="1.35"/>
<circle cx="192.1" cy="531.7" r="1.35"/>
<circle cx="184.1" cy="497.1" r="1.35"/>
<circle cx="198.9" cy="545.7" r="1.35"/>
<circle cx="227.9" cy="483.3" r="1.35"/>
<circle cx="176.3" cy="555.6" r="1.35"/>
<circle cx="196.0" cy="541.4" r="1.35"/>
<circle cx="175.1" cy="554.1" r="1.35"/>
<circle cx="171.6" cy="559.9" r="1.35"/>
<circle cx="218.6" cy="523.3" r="1.35"/>
<circle cx="189.8" cy="533.6" r="1.35"/>
<circle cx="177.4" cy="558.5" r="1.35"/>
<circle cx="197.5" cy="510.7" r="1.35"/>
<circle cx="174.8" cy="550.4" r="1.35"/>
<circle cx="177.5" cy="558.2" r="1.35"/>
<circle cx="197.4" cy="550.6" r="1.35"/>
<circle cx="191.0" cy="544.1" r="1.35"/>
<circle cx="191.6" cy="513.6" r="1.35"/>
<circle cx="174.7" cy="555.1" r="1.35"/>
<circle cx="185.0" cy="540.0" r="1.35"/>
<circle cx="238.7" cy="506.8" r="1.35"/>
<circle cx="195.0" cy="512.7" r="1.35"/>
<circle cx="189.0" cy="531.1" r="1.35"/>
<circle cx="183.2" cy="547.4" r="1.35"/>
<circle cx="188.5" cy="542.8" r="1.35"/>
<circle cx="215.7" cy="516.3" r="1.35"/>
<circle cx="225.0" cy="483.2" r="1.35"/>
<circle cx="197.7" cy="438.0" r="1.35"/>
<circle cx="170.2" cy="558.1" r="1.35"/>
<circle cx="186.3" cy="546.1" r="1.35"/>
<circle cx="199.7" cy="533.1" r="1.35"/>
<circle cx="208.5" cy="520.4" r="1.35"/>
<circle cx="173.0" cy="560.4" r="1.35"/>
<circle cx="181.1" cy="554.3" r="1.35"/>
<circle cx="189.1" cy="539.2" r="1.35"/>
<circle cx="196.7" cy="547.5" r="1.35"/>
<circle cx="208.0" cy="534.9" r="1.35"/>
<circle cx="194.8" cy="529.5" r="1.35"/>
<circle cx="184.5" cy="518.5" r="1.35"/>
<circle cx="206.5" cy="536.1" r="1.35"/>
<circle cx="182.1" cy="549.2" r="1.35"/>
<circle cx="196.1" cy="523.1" r="1.35"/>
<circle cx="175.1" cy="561.1" r="1.35"/>
<circle cx="217.4" cy="523.5" r="1.35"/>
<circle cx="192.1" cy="545.3" r="1.35"/>
<circle cx="179.0" cy="540.2" r="1.35"/>
<circle cx="198.6" cy="517.7" r="1.35"/>
<circle cx="200.4" cy="540.4" r="1.35"/>
<circle cx="252.0" cy="497.9" r="1.35"/>
<circle cx="191.5" cy="539.5" r="1.35"/>
<circle cx="250.0" cy="494.9" r="1.35"/>
<circle cx="221.8" cy="501.9" r="1.35"/>
<circle cx="171.5" cy="555.3" r="1.35"/>
<circle cx="170.1" cy="561.7" r="1.35"/>
<circle cx="204.8" cy="469.9" r="1.35"/>
<circle cx="222.3" cy="529.7" r="1.35"/>
<circle cx="195.3" cy="544.0" r="1.35"/>
<circle cx="205.6" cy="539.3" r="1.35"/>
<circle cx="199.6" cy="519.4" r="1.35"/>
<circle cx="192.6" cy="547.2" r="1.35"/>
<circle cx="178.1" cy="552.2" r="1.35"/>
<circle cx="169.5" cy="563.5" r="1.35"/>
<circle cx="229.5" cy="530.1" r="1.35"/>
<circle cx="172.8" cy="554.7" r="1.35"/>
<circle cx="217.4" cy="525.6" r="1.35"/>
<circle cx="195.8" cy="540.3" r="1.35"/>
<circle cx="172.5" cy="559.3" r="1.35"/>
<circle cx="173.9" cy="560.3" r="1.35"/>
<circle cx="189.9" cy="527.6" r="1.35"/>
<circle cx="210.6" cy="469.9" r="1.35"/>
<circle cx="201.5" cy="512.6" r="1.35"/>
<circle cx="195.7" cy="497.6" r="1.35"/>
<circle cx="178.7" cy="542.5" r="1.35"/>
<circle cx="177.1" cy="559.8" r="1.35"/>
<circle cx="173.6" cy="558.5" r="1.35"/>
<circle cx="179.2" cy="556.2" r="1.35"/>
<circle cx="175.8" cy="554.8" r="1.35"/>
<circle cx="184.9" cy="553.9" r="1.35"/>
<circle cx="171.8" cy="561.6" r="1.35"/>
<circle cx="198.8" cy="529.3" r="1.35"/>
<circle cx="256.2" cy="515.4" r="1.35"/>
<circle cx="180.5" cy="531.1" r="1.35"/>
<circle cx="219.0" cy="517.4" r="1.35"/>
<circle cx="191.0" cy="525.7" r="1.35"/>
<circle cx="192.7" cy="546.9" r="1.35"/>
<circle cx="189.3" cy="549.6" r="1.35"/>
<circle cx="198.4" cy="542.2" r="1.35"/>
<circle cx="182.3" cy="541.8" r="1.35"/>
<circle cx="205.5" cy="514.0" r="1.35"/>
<circle cx="232.9" cy="494.7" r="1.35"/>
<circle cx="187.4" cy="553.2" r="1.35"/>
<circle cx="181.9" cy="553.1" r="1.35"/>
<circle cx="209.9" cy="536.1" r="1.35"/>
<circle cx="174.8" cy="561.7" r="1.35"/>
<circle cx="179.4" cy="546.5" r="1.35"/>
<circle cx="208.2" cy="486.5" r="1.35"/>
<circle cx="196.8" cy="530.3" r="1.35"/>
<circle cx="175.7" cy="539.7" r="1.35"/>
<circle cx="216.9" cy="518.6" r="1.35"/>
<circle cx="236.9" cy="507.6" r="1.35"/>
<circle cx="173.8" cy="561.2" r="1.35"/>
<circle cx="178.6" cy="554.8" r="1.35"/>
<circle cx="214.4" cy="486.9" r="1.35"/>
<circle cx="176.5" cy="560.5" r="1.35"/>
<circle cx="190.6" cy="553.2" r="1.35"/>
<circle cx="177.0" cy="558.3" r="1.35"/>
<circle cx="237.2" cy="527.1" r="1.35"/>
<circle cx="208.2" cy="514.2" r="1.35"/>
<circle cx="194.6" cy="550.0" r="1.35"/>
<circle cx="240.7" cy="521.0" r="1.35"/>
<circle cx="201.5" cy="416.0" r="1.35"/>
<circle cx="177.7" cy="558.1" r="1.35"/>
<circle cx="194.3" cy="493.4" r="1.35"/>
<circle cx="219.4" cy="474.0" r="1.35"/>
<circle cx="177.1" cy="553.9" r="1.35"/>
<circle cx="198.1" cy="447.5" r="1.35"/>
<circle cx="254.1" cy="438.7" r="1.35"/>
<circle cx="193.0" cy="545.0" r="1.35"/>
<circle cx="182.7" cy="549.7" r="1.35"/>
<circle cx="175.4" cy="557.7" r="1.35"/>
<circle cx="211.1" cy="469.4" r="1.35"/>
<circle cx="242.6" cy="464.6" r="1.35"/>
<circle cx="178.9" cy="537.2" r="1.35"/>
<circle cx="208.2" cy="509.1" r="1.35"/>
<circle cx="206.8" cy="423.3" r="1.35"/>
<circle cx="251.8" cy="494.2" r="1.35"/>
<circle cx="203.5" cy="512.8" r="1.35"/>
<circle cx="172.4" cy="556.6" r="1.35"/>
<circle cx="185.4" cy="544.1" r="1.35"/>
<circle cx="177.4" cy="557.5" r="1.35"/>
<circle cx="206.1" cy="504.5" r="1.35"/>
<circle cx="248.6" cy="480.5" r="1.35"/>
<circle cx="196.9" cy="457.9" r="1.35"/>
<circle cx="176.3" cy="560.5" r="1.35"/>
<circle cx="169.5" cy="564.2" r="1.35"/>
<circle cx="183.8" cy="534.0" r="1.35"/>
<circle cx="198.3" cy="539.8" r="1.35"/>
<circle cx="219.1" cy="495.4" r="1.35"/>
<circle cx="170.3" cy="561.7" r="1.35"/>
<circle cx="172.2" cy="553.9" r="1.35"/>
<circle cx="198.1" cy="537.4" r="1.35"/>
<circle cx="169.2" cy="563.9" r="1.35"/>
<circle cx="218.1" cy="500.8" r="1.35"/>
<circle cx="169.2" cy="564.5" r="1.35"/>
<circle cx="375.0" cy="430.5" r="1.35"/>
<circle cx="305.7" cy="441.6" r="1.35"/>
<circle cx="308.5" cy="455.5" r="1.35"/>
<circle cx="289.0" cy="455.5" r="1.35"/>
<circle cx="280.7" cy="472.0" r="1.35"/>
<circle cx="286.0" cy="480.0" r="1.35"/>
<circle cx="275.0" cy="494.0" r="1.35"/>
<circle cx="264.0" cy="502.6" r="1.35"/>
<circle cx="258.5" cy="522.0" r="1.35"/>
<circle cx="255.8" cy="500.0" r="1.35"/>
<circle cx="58.8" cy="450.0" r="1.35"/>
<circle cx="83.8" cy="455.5" r="1.35"/>
<circle cx="81.0" cy="505.4" r="1.35"/>
<circle cx="86.6" cy="488.8" r="1.35"/>
<circle cx="92.1" cy="527.6" r="1.35"/>
<circle cx="82.1" cy="427.7" r="1.35"/>
<circle cx="279.8" cy="431.0" r="1.35"/>
<circle cx="300.8" cy="431.0" r="1.35"/>
<circle cx="309.0" cy="427.5" r="1.35"/>
<circle cx="303.0" cy="419.3" r="1.35"/>
<circle cx="289.0" cy="443.9" r="1.35"/>
<circle cx="311.3" cy="443.9" r="1.35"/>
<circle cx="305.5" cy="440.4" r="1.35"/>
<circle cx="281.0" cy="452.0" r="1.35"/>
<circle cx="286.8" cy="459.0" r="1.35"/>
<circle cx="303.0" cy="455.5" r="1.35"/>
<circle cx="299.6" cy="461.4" r="1.35"/>
<circle cx="296.0" cy="473.0" r="1.35"/>
<circle cx="288.0" cy="481.0" r="1.35"/>
<circle cx="283.3" cy="486.0" r="1.35"/>
<circle cx="277.5" cy="490.6" r="1.35"/>
<circle cx="284.5" cy="494.0" r="1.35"/>
<circle cx="272.8" cy="463.7" r="1.35"/>
<circle cx="276.3" cy="460.2" r="1.35"/>
<circle cx="270.4" cy="454.4" r="1.35"/>
</g>
<g fill="#5c5cff" stroke="#4a4af2" stroke-width="0.5">
<circle cx="66.3" cy="309.7" r="1.4"/>
<circle cx="110.4" cy="309.7" r="1.4"/>
<circle cx="121.5" cy="309.7" r="1.4"/>
<circle cx="56.9" cy="338.8" r="1.4"/>
<circle cx="83.8" cy="339.9" r="1.4"/>
<circle cx="108.2" cy="338.5" r="1.4"/>
<circle cx="123.7" cy="338.8" r="1.4"/>
<circle cx="125.4" cy="342.4" r="1.4"/>
<circle cx="136.0" cy="340.2" r="1.4"/>
<circle cx="84.4" cy="347.1" r="1.4"/>
<circle cx="63.6" cy="354.4" r="1.4"/>
<circle cx="90.2" cy="354.6" r="1.4"/>
<circle cx="97.7" cy="354.4" r="1.4"/>
<circle cx="103.2" cy="354.4" r="1.4"/>
<circle cx="107.4" cy="354.4" r="1.4"/>
<circle cx="116.0" cy="353.5" r="1.4"/>
<circle cx="124.9" cy="353.2" r="1.4"/>
<circle cx="91.8" cy="358.5" r="1.4"/>
<circle cx="99.0" cy="358.8" r="1.4"/>
<circle cx="135.4" cy="358.2" r="1.4"/>
<circle cx="89.3" cy="364.9" r="1.4"/>
<circle cx="95.7" cy="362.7" r="1.4"/>
<circle cx="103.2" cy="364.9" r="1.4"/>
<circle cx="112.9" cy="361.3" r="1.4"/>
<circle cx="120.7" cy="364.9" r="1.4"/>
<circle cx="124.0" cy="364.3" r="1.4"/>
<circle cx="128.2" cy="365.5" r="1.4"/>
<circle cx="74.4" cy="372.7" r="1.4"/>
<circle cx="84.9" cy="369.6" r="1.4"/>
<circle cx="95.2" cy="369.6" r="1.4"/>
<circle cx="102.1" cy="367.1" r="1.4"/>
<circle cx="109.3" cy="369.6" r="1.4"/>
<circle cx="113.2" cy="369.6" r="1.4"/>
<circle cx="121.0" cy="369.6" r="1.4"/>
<circle cx="125.4" cy="370.2" r="1.4"/>
<circle cx="132.3" cy="367.7" r="1.4"/>
<circle cx="38.3" cy="381.5" r="1.4"/>
<circle cx="89.9" cy="380.2" r="1.4"/>
<circle cx="99.1" cy="375.4" r="1.4"/>
<circle cx="109.6" cy="373.2" r="1.4"/>
<circle cx="108.8" cy="381.5" r="1.4"/>
<circle cx="115.7" cy="377.7" r="1.4"/>
<circle cx="119.9" cy="373.2" r="1.4"/>
<circle cx="124.9" cy="375.4" r="1.4"/>
<circle cx="130.4" cy="376.0" r="1.4"/>
<circle cx="134.3" cy="376.0" r="1.4"/>
<circle cx="138.7" cy="377.7" r="1.4"/>
<circle cx="50.9" cy="388.6" r="1.4"/>
<circle cx="60.6" cy="388.6" r="1.4"/>
<circle cx="90.7" cy="388.5" r="1.4"/>
<circle cx="92.7" cy="386.5" r="1.4"/>
<circle cx="99.1" cy="390.4" r="1.4"/>
<circle cx="103.2" cy="390.4" r="1.4"/>
<circle cx="107.7" cy="389.9" r="1.4"/>
<circle cx="111.5" cy="391.2" r="1.4"/>
<circle cx="115.7" cy="386.5" r="1.4"/>
<circle cx="119.9" cy="390.4" r="1.4"/>
<circle cx="124.0" cy="391.2" r="1.4"/>
<circle cx="127.6" cy="394.0" r="1.4"/>
<circle cx="134.3" cy="386.5" r="1.4"/>
<circle cx="99.1" cy="396.0" r="1.4"/>
<circle cx="104.6" cy="393.2" r="1.4"/>
<circle cx="108.8" cy="396.8" r="1.4"/>
<circle cx="113.8" cy="396.8" r="1.4"/>
<circle cx="115.7" cy="395.4" r="1.4"/>
<circle cx="118.5" cy="393.2" r="1.4"/>
<circle cx="122.6" cy="394.9" r="1.4"/>
<circle cx="126.8" cy="394.0" r="1.4"/>
<circle cx="131.0" cy="395.4" r="1.4"/>
<circle cx="136.5" cy="398.2" r="1.4"/>
<circle cx="142.0" cy="394.9" r="1.4"/>
<circle cx="86.6" cy="405.7" r="1.4"/>
<circle cx="103.2" cy="402.3" r="1.4"/>
<circle cx="111.5" cy="403.2" r="1.4"/>
<circle cx="114.3" cy="405.1" r="1.4"/>
<circle cx="118.5" cy="403.7" r="1.4"/>
<circle cx="122.6" cy="403.2" r="1.4"/>
<circle cx="126.8" cy="402.0" r="1.4"/>
<circle cx="131.0" cy="398.2" r="1.4"/>
<circle cx="133.2" cy="401.0" r="1.4"/>
<circle cx="140.7" cy="399.6" r="1.4"/>
<circle cx="142.0" cy="405.1" r="1.4"/>
<circle cx="86.6" cy="412.0" r="1.4"/>
<circle cx="102.1" cy="411.0" r="1.4"/>
<circle cx="119.9" cy="407.6" r="1.4"/>
<circle cx="131.5" cy="409.8" r="1.4"/>
<circle cx="74.6" cy="372.9" r="1.4"/>
</g>
<g fill="#ff5c5c" stroke="#f24a4a" stroke-width="0.5">
<circle cx="228.5" cy="309.6" r="1.4"/>
<circle cx="250.4" cy="309.6" r="1.4"/>
<circle cx="205.7" cy="320.7" r="1.4"/>
<circle cx="266.1" cy="320.7" r="1.4"/>
<circle cx="215.0" cy="339.6" r="1.4"/>
<circle cx="223.8" cy="338.2" r="1.4"/>
<circle cx="239.9" cy="338.8" r="1.4"/>
<circle cx="244.2" cy="346.9" r="1.4"/>
<circle cx="249.5" cy="346.9" r="1.4"/>
<circle cx="255.3" cy="348.4" r="1.4"/>
<circle cx="262.6" cy="347.5" r="1.4"/>
<circle cx="258.2" cy="352.8" r="1.4"/>
<circle cx="310.5" cy="342.6" r="1.4"/>
<circle cx="337.1" cy="354.2" r="1.4"/>
<circle cx="199.0" cy="354.2" r="1.4"/>
<circle cx="205.1" cy="358.3" r="1.4"/>
<circle cx="219.7" cy="358.3" r="1.4"/>
<circle cx="233.4" cy="358.3" r="1.4"/>
<circle cx="258.2" cy="358.3" r="1.4"/>
<circle cx="268.5" cy="358.3" r="1.4"/>
<circle cx="205.1" cy="364.5" r="1.4"/>
<circle cx="208.3" cy="365.3" r="1.4"/>
<circle cx="214.5" cy="364.5" r="1.4"/>
<circle cx="257.4" cy="364.5" r="1.4"/>
<circle cx="290.4" cy="367.4" r="1.4"/>
<circle cx="302.6" cy="366.5" r="1.4"/>
<circle cx="185.3" cy="379.3" r="1.4"/>
<circle cx="201.3" cy="379.9" r="1.4"/>
<circle cx="213.3" cy="377.0" r="1.4"/>
<circle cx="237.8" cy="377.0" r="1.4"/>
<circle cx="248.0" cy="373.2" r="1.4"/>
<circle cx="252.4" cy="372.3" r="1.4"/>
<circle cx="257.4" cy="375.5" r="1.4"/>
<circle cx="261.2" cy="376.7" r="1.4"/>
<circle cx="263.2" cy="376.7" r="1.4"/>
<circle cx="268.5" cy="377.0" r="1.4"/>
<circle cx="272.0" cy="375.3" r="1.4"/>
<circle cx="275.2" cy="382.8" r="1.4"/>
<circle cx="296.8" cy="379.9" r="1.4"/>
<circle cx="204.2" cy="386.4" r="1.4"/>
<circle cx="219.4" cy="386.4" r="1.4"/>
<circle cx="229.6" cy="385.8" r="1.4"/>
<circle cx="235.5" cy="382.0" r="1.4"/>
<circle cx="237.8" cy="386.9" r="1.4"/>
<circle cx="239.9" cy="385.8" r="1.4"/>
<circle cx="243.7" cy="382.0" r="1.4"/>
<circle cx="246.6" cy="386.4" r="1.4"/>
<circle cx="255.3" cy="386.4" r="1.4"/>
<circle cx="235.5" cy="390.7" r="1.4"/>
<circle cx="242.2" cy="392.8" r="1.4"/>
<circle cx="248.6" cy="395.1" r="1.4"/>
<circle cx="260.3" cy="392.8" r="1.4"/>
<circle cx="202.5" cy="393.6" r="1.4"/>
<circle cx="214.5" cy="395.1" r="1.4"/>
<circle cx="243.4" cy="398.6" r="1.4"/>
<circle cx="267.0" cy="398.6" r="1.4"/>
<circle cx="270.5" cy="397.4" r="1.4"/>
<circle cx="273.4" cy="397.4" r="1.4"/>
<circle cx="261.8" cy="400.4" r="1.4"/>
<circle cx="263.2" cy="405.3" r="1.4"/>
<circle cx="202.8" cy="400.9" r="1.4"/>
<circle cx="229.6" cy="402.4" r="1.4"/>
<circle cx="209.2" cy="403.9" r="1.4"/>
<circle cx="225.3" cy="403.9" r="1.4"/>
<circle cx="249.2" cy="405.3" r="1.4"/>
<circle cx="202.2" cy="408.2" r="1.4"/>
<circle cx="210.7" cy="408.2" r="1.4"/>
<circle cx="218.8" cy="409.7" r="1.4"/>
<circle cx="225.3" cy="409.7" r="1.4"/>
<circle cx="232.0" cy="409.1" r="1.4"/>
<circle cx="234.0" cy="408.2" r="1.4"/>
<circle cx="256.5" cy="408.0" r="1.4"/>
<circle cx="264.7" cy="410.6" r="1.4"/>
<circle cx="205.7" cy="412.6" r="1.4"/>
<circle cx="220.9" cy="412.6" r="1.4"/>
<circle cx="261.8" cy="412.1" r="1.4"/>
</g>
<line x1="21.80" y1="414.50" x2="390.50" y2="414.50" stroke="#ff1f1f" stroke-width="1.0" stroke-dasharray="2.9 2.75"/>
<text x="102.80" y="309.90" font-size="5.85" text-anchor="start" fill="#1a1a1a" stroke="#1a1a1a" stroke-width="0.1">CYGB</text>
<text x="124.70" y="309.90" font-size="5.85" text-anchor="start" fill="#1a1a1a" stroke="#1a1a1a" stroke-width="0.1">HTRA1</text>
<text x="124.00" y="336.60" font-size="5.85" text-anchor="start" fill="#1a1a1a" stroke="#1a1a1a" stroke-width="0.1">COL3A1</text>
<text x="94.10" y="343.40" font-size="5.85" text-anchor="start" fill="#1a1a1a" stroke="#1a1a1a" stroke-width="0.1">SEPTIN4</text>
<text x="139.00" y="345.50" font-size="5.85" text-anchor="start" fill="#1a1a1a" stroke="#1a1a1a" stroke-width="0.1">OLFML1</text>
<text x="104.30" y="352.50" font-size="5.85" text-anchor="start" fill="#1a1a1a" stroke="#1a1a1a" stroke-width="0.1">SERPINA5</text>
<text x="111.00" y="362.00" font-size="5.85" text-anchor="start" fill="#1a1a1a" stroke="#1a1a1a" stroke-width="0.1">VTN</text>
<text x="138.80" y="360.20" font-size="5.85" text-anchor="start" fill="#1a1a1a" stroke="#1a1a1a" stroke-width="0.1">FBN1</text>
<text x="127.80" y="371.00" font-size="5.85" text-anchor="start" fill="#1a1a1a" stroke="#1a1a1a" stroke-width="0.1">LUM</text>
<text x="112.00" y="380.40" font-size="5.85" text-anchor="start" fill="#1a1a1a" stroke="#1a1a1a" stroke-width="0.1">OLFML3</text>
<text x="141.10" y="380.00" font-size="5.85" text-anchor="start" fill="#1a1a1a" stroke="#1a1a1a" stroke-width="0.1">LAMA2</text>
<text x="129.10" y="394.00" font-size="5.85" text-anchor="start" fill="#1a1a1a" stroke="#1a1a1a" stroke-width="0.1">COL4A2</text>
<text x="214.50" y="336.10" font-size="5.85" text-anchor="start" fill="#1a1a1a" stroke="#1a1a1a" stroke-width="0.1">G6PD</text>
<text x="220.30" y="345.50" font-size="5.85" text-anchor="start" fill="#1a1a1a" stroke="#1a1a1a" stroke-width="0.1">TXNRD1</text>
<text x="209.20" y="365.00" font-size="5.85" text-anchor="start" fill="#1a1a1a" stroke="#1a1a1a" stroke-width="0.1">GALNT7</text>
<text x="208.00" y="395.70" font-size="5.85" text-anchor="start" fill="#1a1a1a" stroke="#1a1a1a" stroke-width="0.1">CORO2A</text>
<text x="211.20" y="408.20" font-size="5.85" text-anchor="start" fill="#1a1a1a" stroke="#1a1a1a" stroke-width="0.1">TOP2A</text>
<line x1="21.80" y1="296.90" x2="21.80" y2="578.10" stroke="#333" stroke-width="1.0"/>
<line x1="21.30" y1="577.60" x2="390.50" y2="577.60" stroke="#333" stroke-width="1.0"/>
<line x1="19.80" y1="565.30" x2="21.80" y2="565.30" stroke="#333" stroke-width="0.8"/>
<text x="19.20" y="567.50" font-size="6.3" text-anchor="end" fill="#4d4d4d" stroke="#4d4d4d" stroke-width="0.1">0.0</text>
<line x1="19.80" y1="507.40" x2="21.80" y2="507.40" stroke="#333" stroke-width="0.8"/>
<text x="19.20" y="509.60" font-size="6.3" text-anchor="end" fill="#4d4d4d" stroke="#4d4d4d" stroke-width="0.1">0.5</text>
<line x1="19.80" y1="449.50" x2="21.80" y2="449.50" stroke="#333" stroke-width="0.8"/>
<text x="19.20" y="451.70" font-size="6.3" text-anchor="end" fill="#4d4d4d" stroke="#4d4d4d" stroke-width="0.1">1.0</text>
<line x1="19.80" y1="391.60" x2="21.80" y2="391.60" stroke="#333" stroke-width="0.8"/>
<text x="19.20" y="393.80" font-size="6.3" text-anchor="end" fill="#4d4d4d" stroke="#4d4d4d" stroke-width="0.1">1.5</text>
<line x1="19.80" y1="333.70" x2="21.80" y2="333.70" stroke="#333" stroke-width="0.8"/>
<text x="19.20" y="335.90" font-size="6.3" text-anchor="end" fill="#4d4d4d" stroke="#4d4d4d" stroke-width="0.1">2.0</text>
<line x1="59.10" y1="577.60" x2="59.10" y2="579.60" stroke="#333" stroke-width="0.8"/>
<text x="59.10" y="585.50" font-size="6.3" text-anchor="middle" fill="#4d4d4d" stroke="#4d4d4d" stroke-width="0.1">−2</text>
<line x1="168.50" y1="577.60" x2="168.50" y2="579.60" stroke="#333" stroke-width="0.8"/>
<text x="168.50" y="585.50" font-size="6.3" text-anchor="middle" fill="#4d4d4d" stroke="#4d4d4d" stroke-width="0.1">0</text>
<line x1="277.90" y1="577.60" x2="277.90" y2="579.60" stroke="#333" stroke-width="0.8"/>
<text x="277.90" y="585.50" font-size="6.3" text-anchor="middle" fill="#4d4d4d" stroke="#4d4d4d" stroke-width="0.1">2</text>
<line x1="387.30" y1="577.60" x2="387.30" y2="579.60" stroke="#333" stroke-width="0.8"/>
<text x="387.30" y="585.50" font-size="6.3" text-anchor="middle" fill="#4d4d4d" stroke="#4d4d4d" stroke-width="0.1">4</text>
<text x="209.20" y="593.40" font-size="8.1" text-anchor="middle" fill="#000" stroke="#000" stroke-width="0.1">log2 Hazard Ratio</text>
<text x="7.30" y="433.80" font-size="8.1" text-anchor="middle" fill="#000" stroke="#000" stroke-width="0.1" transform="rotate(-90 7.30 433.80)">−log10 adj. p−value</text>
<defs><linearGradient id="cb" x1="0" y1="0" x2="0" y2="1"><stop offset="0.00" stop-color="#0000ff"/><stop offset="0.05" stop-color="#4b00f3"/><stop offset="0.10" stop-color="#6800e7"/><stop offset="0.15" stop-color="#7c00da"/><stop offset="0.20" stop-color="#8d00ce"/><stop offset="0.25" stop-color="#9a00c3"/><stop offset="0.30" stop-color="#a600b7"/><stop offset="0.35" stop-color="#b000ab"/><stop offset="0.40" stop-color="#ba009f"/><stop offset="0.45" stop-color="#c20094"/><stop offset="0.50" stop-color="#ca0088"/><stop offset="0.55" stop-color="#d1007d"/><stop offset="0.60" stop-color="#d70072"/><stop offset="0.65" stop-color="#dd0066"/><stop offset="0.70" stop-color="#e3005b"/><stop offset="0.75" stop-color="#e80050"/><stop offset="0.80" stop-color="#ed0044"/><stop offset="0.85" stop-color="#f20037"/><stop offset="0.90" stop-color="#f6002a"/><stop offset="0.95" stop-color="#fb001a"/><stop offset="1.00" stop-color="#ff0000"/></linearGradient></defs>
<text x="560.50" y="237.80" font-size="8.1" text-anchor="middle" fill="#1a1a1a" stroke="#1a1a1a" stroke-width="0.1">Biological Processes</text>
<text x="560.30" y="247.60" font-size="8.1" text-anchor="middle" fill="#1a1a1a" stroke="#1a1a1a" stroke-width="0.1">Hazard Ratio &lt; 1</text>
<text x="520.20" y="258.00" font-size="6.75" text-anchor="end" fill="#1a1a1a" stroke="#1a1a1a" stroke-width="0.1">oxidoreduction-driven active</text>
<text x="520.20" y="264.50" font-size="6.75" text-anchor="end" fill="#1a1a1a" stroke="#1a1a1a" stroke-width="0.1">transmembrane transporter activity</text>
<text x="520.20" y="272.00" font-size="6.75" text-anchor="end" fill="#1a1a1a" stroke="#1a1a1a" stroke-width="0.1">NADH dehydrogenase (ubiquinone)</text>
<text x="520.20" y="277.80" font-size="6.75" text-anchor="end" fill="#1a1a1a" stroke="#1a1a1a" stroke-width="0.1">activity</text>
<text x="520.20" y="284.00" font-size="6.75" text-anchor="end" fill="#1a1a1a" stroke="#1a1a1a" stroke-width="0.1">NAD(P)H dehydrogenase (quinone)</text>
<text x="520.20" y="289.60" font-size="6.75" text-anchor="end" fill="#1a1a1a" stroke="#1a1a1a" stroke-width="0.1">activity</text>
<text x="520.20" y="297.00" font-size="6.75" text-anchor="end" fill="#1a1a1a" stroke="#1a1a1a" stroke-width="0.1">extracellular matrix structural</text>
<text x="520.20" y="302.60" font-size="6.75" text-anchor="end" fill="#1a1a1a" stroke="#1a1a1a" stroke-width="0.1">constituent</text>
<text x="520.20" y="307.80" font-size="6.75" text-anchor="end" fill="#1a1a1a" stroke="#1a1a1a" stroke-width="0.1">translation initiation factor</text>
<text x="520.20" y="313.70" font-size="6.75" text-anchor="end" fill="#1a1a1a" stroke="#1a1a1a" stroke-width="0.1">activity</text>
<text x="520.20" y="319.60" font-size="6.75" text-anchor="end" fill="#1a1a1a" stroke="#1a1a1a" stroke-width="0.1">translation factor activity,</text>
<text x="520.20" y="325.60" font-size="6.75" text-anchor="end" fill="#1a1a1a" stroke="#1a1a1a" stroke-width="0.1">RNA binding</text>
<text x="520.20" y="331.90" font-size="6.75" text-anchor="end" fill="#1a1a1a" stroke="#1a1a1a" stroke-width="0.1">translation regulator activity,</text>
<text x="520.20" y="338.30" font-size="6.75" text-anchor="end" fill="#1a1a1a" stroke="#1a1a1a" stroke-width="0.1">nucleic acid binding</text>
<text x="520.20" y="346.50" font-size="6.75" text-anchor="end" fill="#1a1a1a" stroke="#1a1a1a" stroke-width="0.1">glycosaminoglycan binding</text>
<text x="520.20" y="359.10" font-size="6.75" text-anchor="end" fill="#1a1a1a" stroke="#1a1a1a" stroke-width="0.1">heparin binding</text>
<text x="520.20" y="371.00" font-size="6.75" text-anchor="end" fill="#1a1a1a" stroke="#1a1a1a" stroke-width="0.1">integrin binding</text>
<line x1="524.10" y1="252.60" x2="524.10" y2="376.60" stroke="#333" stroke-width="1.0"/>
<line x1="523.60" y1="376.10" x2="634.80" y2="376.10" stroke="#333" stroke-width="1.0"/>
<line x1="522.10" y1="260.00" x2="524.10" y2="260.00" stroke="#333" stroke-width="0.8"/>
<line x1="522.10" y1="272.30" x2="524.10" y2="272.30" stroke="#333" stroke-width="0.8"/>
<line x1="522.10" y1="284.30" x2="524.10" y2="284.30" stroke="#333" stroke-width="0.8"/>
<line x1="522.10" y1="296.40" x2="524.10" y2="296.40" stroke="#333" stroke-width="0.8"/>
<line x1="522.10" y1="308.40" x2="524.10" y2="308.40" stroke="#333" stroke-width="0.8"/>
<line x1="522.10" y1="320.60" x2="524.10" y2="320.60" stroke="#333" stroke-width="0.8"/>
<line x1="522.10" y1="332.80" x2="524.10" y2="332.80" stroke="#333" stroke-width="0.8"/>
<line x1="522.10" y1="344.70" x2="524.10" y2="344.70" stroke="#333" stroke-width="0.8"/>
<line x1="522.10" y1="357.00" x2="524.10" y2="357.00" stroke="#333" stroke-width="0.8"/>
<line x1="522.10" y1="369.10" x2="524.10" y2="369.10" stroke="#333" stroke-width="0.8"/>
<line x1="529.40" y1="376.10" x2="529.40" y2="378.10" stroke="#333" stroke-width="0.8"/>
<text x="529.40" y="385.10" font-size="6.2" text-anchor="middle" fill="#4d4d4d" stroke="#4d4d4d" stroke-width="0.1">0.4</text>
<line x1="549.84" y1="376.10" x2="549.84" y2="378.10" stroke="#333" stroke-width="0.8"/>
<text x="549.84" y="385.10" font-size="6.2" text-anchor="middle" fill="#4d4d4d" stroke="#4d4d4d" stroke-width="0.1">0.5</text>
<line x1="570.28" y1="376.10" x2="570.28" y2="378.10" stroke="#333" stroke-width="0.8"/>
<text x="570.28" y="385.10" font-size="6.2" text-anchor="middle" fill="#4d4d4d" stroke="#4d4d4d" stroke-width="0.1">0.6</text>
<line x1="590.72" y1="376.10" x2="590.72" y2="378.10" stroke="#333" stroke-width="0.8"/>
<text x="590.72" y="385.10" font-size="6.2" text-anchor="middle" fill="#4d4d4d" stroke="#4d4d4d" stroke-width="0.1">0.7</text>
<line x1="611.16" y1="376.10" x2="611.16" y2="378.10" stroke="#333" stroke-width="0.8"/>
<text x="611.16" y="385.10" font-size="6.2" text-anchor="middle" fill="#4d4d4d" stroke="#4d4d4d" stroke-width="0.1">0.8</text>
<line x1="631.60" y1="376.10" x2="631.60" y2="378.10" stroke="#333" stroke-width="0.8"/>
<text x="631.60" y="385.10" font-size="6.2" text-anchor="middle" fill="#4d4d4d" stroke="#4d4d4d" stroke-width="0.1">0.9</text>
<text x="579.40" y="394.20" font-size="8.1" text-anchor="middle" fill="#1a1a1a" stroke="#1a1a1a" stroke-width="0.1">GeneRatio</text>
<circle cx="629.30" cy="260.00" r="5.30" fill="#ff0000"/>
<circle cx="617.80" cy="272.30" r="3.75" fill="#0000ff"/>
<circle cx="615.30" cy="284.30" r="3.75" fill="#0000ff"/>
<circle cx="604.80" cy="296.40" r="6.60" fill="#ff0000"/>
<circle cx="570.60" cy="308.40" r="2.70" fill="#0000ff"/>
<circle cx="559.40" cy="320.60" r="4.30" fill="#ff0000"/>
<circle cx="555.40" cy="332.80" r="4.60" fill="#c20094"/>
<circle cx="549.90" cy="344.70" r="5.00" fill="#ff0000"/>
<circle cx="549.90" cy="357.00" r="3.80" fill="#0000ff"/>
<circle cx="529.00" cy="369.10" r="4.10" fill="#0000ff"/>
<text x="647.10" y="233.70" font-size="8.1" text-anchor="start" fill="#1a1a1a" stroke="#1a1a1a" stroke-width="0.1">Count</text>
<circle cx="655.10" cy="245.20" r="3.80" fill="#000"/>
<text x="667.80" y="247.40" font-size="6.3" text-anchor="start" fill="#333" stroke="#333" stroke-width="0.1">30</text>
<circle cx="655.10" cy="258.00" r="4.80" fill="#000"/>
<text x="667.80" y="260.20" font-size="6.3" text-anchor="start" fill="#333" stroke="#333" stroke-width="0.1">40</text>
<circle cx="655.10" cy="271.50" r="5.70" fill="#000"/>
<text x="667.80" y="273.70" font-size="6.3" text-anchor="start" fill="#333" stroke="#333" stroke-width="0.1">50</text>
<circle cx="655.10" cy="285.60" r="6.30" fill="#000"/>
<text x="667.80" y="287.80" font-size="6.3" text-anchor="start" fill="#333" stroke="#333" stroke-width="0.1">60</text>
<circle cx="655.10" cy="301.40" r="6.80" fill="#000"/>
<text x="667.80" y="303.60" font-size="6.3" text-anchor="start" fill="#333" stroke="#333" stroke-width="0.1">70</text>
<text x="646.90" y="332.70" font-size="8.1" text-anchor="start" fill="#1a1a1a" stroke="#1a1a1a" stroke-width="0.1">p.adjust</text>
<rect x="646.9" y="338.0" width="13.1" height="64.4" fill="url(#cb)"/>
<line x1="646.90" y1="341.40" x2="649.50" y2="341.40" stroke="#fff" stroke-width="0.6" stroke-opacity="0.8"/>
<line x1="657.40" y1="341.40" x2="660.00" y2="341.40" stroke="#fff" stroke-width="0.6" stroke-opacity="0.8"/>
<text x="664.50" y="343.60" font-size="6.2" text-anchor="start" fill="#333" stroke="#333" stroke-width="0.1">3e−07</text>
<line x1="646.90" y1="362.40" x2="649.50" y2="362.40" stroke="#fff" stroke-width="0.6" stroke-opacity="0.8"/>
<line x1="657.40" y1="362.40" x2="660.00" y2="362.40" stroke="#fff" stroke-width="0.6" stroke-opacity="0.8"/>
<text x="664.50" y="364.60" font-size="6.2" text-anchor="start" fill="#333" stroke="#333" stroke-width="0.1">2e−07</text>
<line x1="646.90" y1="383.30" x2="649.50" y2="383.30" stroke="#fff" stroke-width="0.6" stroke-opacity="0.8"/>
<line x1="657.40" y1="383.30" x2="660.00" y2="383.30" stroke="#fff" stroke-width="0.6" stroke-opacity="0.8"/>
<text x="664.50" y="385.50" font-size="6.2" text-anchor="start" fill="#333" stroke="#333" stroke-width="0.1">1e−07</text>
<text x="560.80" y="428.30" font-size="8.1" text-anchor="middle" fill="#1a1a1a" stroke="#1a1a1a" stroke-width="0.1">Biological Processes</text>
<text x="560.80" y="437.50" font-size="8.1" text-anchor="middle" fill="#1a1a1a" stroke="#1a1a1a" stroke-width="0.1">Hazard Ratio &gt; 1</text>
<text x="520.20" y="449.90" font-size="6.75" text-anchor="end" fill="#1a1a1a" stroke="#1a1a1a" stroke-width="0.1">proteasome−mediated</text>
<text x="520.20" y="455.60" font-size="6.75" text-anchor="end" fill="#1a1a1a" stroke="#1a1a1a" stroke-width="0.1">ubiquitin−dependent protein</text>
<text x="520.20" y="462.20" font-size="6.75" text-anchor="end" fill="#1a1a1a" stroke="#1a1a1a" stroke-width="0.1">catabolic process</text>
<text x="520.20" y="467.30" font-size="6.75" text-anchor="end" fill="#1a1a1a" stroke="#1a1a1a" stroke-width="0.1">ubiquitin−dependent protein</text>
<text x="520.20" y="472.70" font-size="6.75" text-anchor="end" fill="#1a1a1a" stroke="#1a1a1a" stroke-width="0.1">catabolic process</text>
<text x="520.20" y="479.00" font-size="6.75" text-anchor="end" fill="#1a1a1a" stroke="#1a1a1a" stroke-width="0.1">modification−dependent</text>
<text x="520.20" y="484.90" font-size="6.75" text-anchor="end" fill="#1a1a1a" stroke="#1a1a1a" stroke-width="0.1">macromolecule catabolic process</text>
<text x="520.20" y="493.50" font-size="6.75" text-anchor="end" fill="#1a1a1a" stroke="#1a1a1a" stroke-width="0.1">modification−dependent protein</text>
<text x="520.20" y="500.40" font-size="6.75" text-anchor="end" fill="#1a1a1a" stroke="#1a1a1a" stroke-width="0.1">catabolic process</text>
<text x="520.20" y="507.50" font-size="6.75" text-anchor="end" fill="#1a1a1a" stroke="#1a1a1a" stroke-width="0.1">autophagy</text>
<text x="520.20" y="521.10" font-size="6.75" text-anchor="end" fill="#1a1a1a" stroke="#1a1a1a" stroke-width="0.1">protein catabolic process</text>
<text x="520.20" y="531.30" font-size="6.75" text-anchor="end" fill="#1a1a1a" stroke="#1a1a1a" stroke-width="0.1">cellular macromolecule catabolic</text>
<text x="520.20" y="536.60" font-size="6.75" text-anchor="end" fill="#1a1a1a" stroke="#1a1a1a" stroke-width="0.1">process</text>
<text x="520.20" y="543.20" font-size="6.75" text-anchor="end" fill="#1a1a1a" stroke="#1a1a1a" stroke-width="0.1">proteasomal protein catabolic</text>
<text x="520.20" y="548.80" font-size="6.75" text-anchor="end" fill="#1a1a1a" stroke="#1a1a1a" stroke-width="0.1">process</text>
<text x="520.20" y="557.50" font-size="6.75" text-anchor="end" fill="#1a1a1a" stroke="#1a1a1a" stroke-width="0.1">proteolysis involved in protein</text>
<text x="520.20" y="562.70" font-size="6.75" text-anchor="end" fill="#1a1a1a" stroke="#1a1a1a" stroke-width="0.1">catabolic process</text>
<text x="520.20" y="569.30" font-size="6.75" text-anchor="end" fill="#1a1a1a" stroke="#1a1a1a" stroke-width="0.1">organonitrogen compound catabolic</text>
<text x="520.20" y="574.60" font-size="6.75" text-anchor="end" fill="#1a1a1a" stroke="#1a1a1a" stroke-width="0.1">process</text>
<line x1="523.70" y1="450.50" x2="523.70" y2="574.20" stroke="#333" stroke-width="1.0"/>
<line x1="523.20" y1="573.70" x2="632.40" y2="573.70" stroke="#333" stroke-width="1.0"/>
<line x1="521.70" y1="457.50" x2="523.70" y2="457.50" stroke="#333" stroke-width="0.8"/>
<line x1="521.70" y1="469.70" x2="523.70" y2="469.70" stroke="#333" stroke-width="0.8"/>
<line x1="521.70" y1="482.10" x2="523.70" y2="482.10" stroke="#333" stroke-width="0.8"/>
<line x1="521.70" y1="494.40" x2="523.70" y2="494.40" stroke="#333" stroke-width="0.8"/>
<line x1="521.70" y1="506.00" x2="523.70" y2="506.00" stroke="#333" stroke-width="0.8"/>
<line x1="521.70" y1="518.50" x2="523.70" y2="518.50" stroke="#333" stroke-width="0.8"/>
<line x1="521.70" y1="530.40" x2="523.70" y2="530.40" stroke="#333" stroke-width="0.8"/>
<line x1="521.70" y1="542.40" x2="523.70" y2="542.40" stroke="#333" stroke-width="0.8"/>
<line x1="521.70" y1="554.90" x2="523.70" y2="554.90" stroke="#333" stroke-width="0.8"/>
<line x1="521.70" y1="567.10" x2="523.70" y2="567.10" stroke="#333" stroke-width="0.8"/>
<line x1="540.80" y1="573.70" x2="540.80" y2="575.70" stroke="#333" stroke-width="0.8"/>
<text x="540.80" y="581.90" font-size="6.2" text-anchor="middle" fill="#4d4d4d" stroke="#4d4d4d" stroke-width="0.1">0.40</text>
<line x1="569.00" y1="573.70" x2="569.00" y2="575.70" stroke="#333" stroke-width="0.8"/>
<text x="569.00" y="581.90" font-size="6.2" text-anchor="middle" fill="#4d4d4d" stroke="#4d4d4d" stroke-width="0.1">0.44</text>
<line x1="597.20" y1="573.70" x2="597.20" y2="575.70" stroke="#333" stroke-width="0.8"/>
<text x="597.20" y="581.90" font-size="6.2" text-anchor="middle" fill="#4d4d4d" stroke="#4d4d4d" stroke-width="0.1">0.48</text>
<line x1="625.40" y1="573.70" x2="625.40" y2="575.70" stroke="#333" stroke-width="0.8"/>
<text x="625.40" y="581.90" font-size="6.2" text-anchor="middle" fill="#4d4d4d" stroke="#4d4d4d" stroke-width="0.1">0.52</text>
<text x="578.00" y="592.90" font-size="8.1" text-anchor="middle" fill="#1a1a1a" stroke="#1a1a1a" stroke-width="0.1">GeneRatio</text>
<circle cx="627.00" cy="457.60" r="2.90" fill="#e50056"/>
<circle cx="607.20" cy="469.70" r="4.60" fill="#ff0000"/>
<circle cx="606.20" cy="482.10" r="4.60" fill="#ff0000"/>
<circle cx="604.10" cy="494.40" r="4.50" fill="#ff0000"/>
<circle cx="596.90" cy="506.00" r="4.30" fill="#0000ff"/>
<circle cx="578.80" cy="518.50" r="5.90" fill="#ff0000"/>
<circle cx="570.90" cy="530.40" r="6.50" fill="#ff0000"/>
<circle cx="559.10" cy="542.40" r="3.40" fill="#ff0000"/>
<circle cx="550.40" cy="554.90" r="4.90" fill="#ff0000"/>
<circle cx="528.80" cy="567.10" r="6.30" fill="#c7008d"/>
<text x="644.60" y="429.00" font-size="8.1" text-anchor="start" fill="#1a1a1a" stroke="#1a1a1a" stroke-width="0.1">Count</text>
<circle cx="653.00" cy="442.20" r="3.90" fill="#000"/>
<text x="665.90" y="444.40" font-size="6.3" text-anchor="start" fill="#333" stroke="#333" stroke-width="0.1">100</text>
<circle cx="653.00" cy="454.90" r="5.10" fill="#000"/>
<text x="665.90" y="457.10" font-size="6.3" text-anchor="start" fill="#333" stroke="#333" stroke-width="0.1">125</text>
<circle cx="653.00" cy="468.40" r="5.80" fill="#000"/>
<text x="665.90" y="470.60" font-size="6.3" text-anchor="start" fill="#333" stroke="#333" stroke-width="0.1">150</text>
<circle cx="653.00" cy="483.30" r="6.40" fill="#000"/>
<text x="665.90" y="485.50" font-size="6.3" text-anchor="start" fill="#333" stroke="#333" stroke-width="0.1">175</text>
<circle cx="653.00" cy="499.70" r="6.80" fill="#000"/>
<text x="665.90" y="501.90" font-size="6.3" text-anchor="start" fill="#333" stroke="#333" stroke-width="0.1">200</text>
<text x="644.70" y="531.40" font-size="8.1" text-anchor="start" fill="#1a1a1a" stroke="#1a1a1a" stroke-width="0.1">p.adjust</text>
<rect x="644.7" y="536.8" width="13.2" height="64.2" fill="url(#cb)"/>
<line x1="644.70" y1="539.30" x2="647.30" y2="539.30" stroke="#fff" stroke-width="0.6" stroke-opacity="0.8"/>
<line x1="655.30" y1="539.30" x2="657.90" y2="539.30" stroke="#fff" stroke-width="0.6" stroke-opacity="0.8"/>
<text x="662.00" y="541.50" font-size="6.3" text-anchor="start" fill="#333" stroke="#333" stroke-width="0.1">0.0016</text>
<line x1="644.70" y1="554.40" x2="647.30" y2="554.40" stroke="#fff" stroke-width="0.6" stroke-opacity="0.8"/>
<line x1="655.30" y1="554.40" x2="657.90" y2="554.40" stroke="#fff" stroke-width="0.6" stroke-opacity="0.8"/>
<text x="662.00" y="556.60" font-size="6.3" text-anchor="start" fill="#333" stroke="#333" stroke-width="0.1">0.0012</text>
<line x1="644.70" y1="569.90" x2="647.30" y2="569.90" stroke="#fff" stroke-width="0.6" stroke-opacity="0.8"/>
<line x1="655.30" y1="569.90" x2="657.90" y2="569.90" stroke="#fff" stroke-width="0.6" stroke-opacity="0.8"/>
<text x="662.00" y="572.10" font-size="6.3" text-anchor="start" fill="#333" stroke="#333" stroke-width="0.1">0.0008</text>
<line x1="644.70" y1="585.40" x2="647.30" y2="585.40" stroke="#fff" stroke-width="0.6" stroke-opacity="0.8"/>
<line x1="655.30" y1="585.40" x2="657.90" y2="585.40" stroke="#fff" stroke-width="0.6" stroke-opacity="0.8"/>
<text x="662.00" y="587.60" font-size="6.3" text-anchor="start" fill="#333" stroke="#333" stroke-width="0.1">0.0004</text>
</svg></body></html>
